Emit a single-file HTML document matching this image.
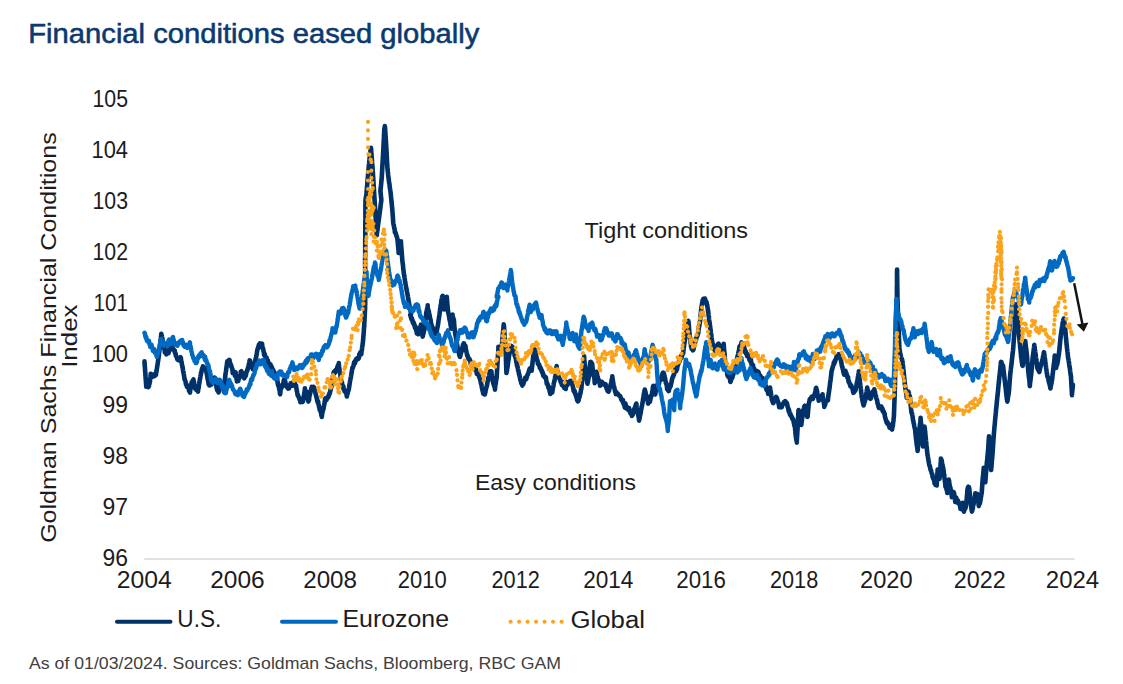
<!DOCTYPE html>
<html><head><meta charset="utf-8">
<style>
html,body{margin:0;padding:0;background:#fff;}
body{width:1123px;height:684px;overflow:hidden;font-family:"Liberation Sans",sans-serif;}
svg{display:block;}
text{font-family:"Liberation Sans",sans-serif;}
.ax{font-size:24.5px;fill:#1c1c1c;}
.lg{font-size:23.5px;fill:#1c1c1c;}
</style></head><body>
<svg width="1123" height="684" viewBox="0 0 1123 684">
<rect width="1123" height="684" fill="#fff"/>
<text x="28.3" y="42.5" font-size="27.2" fill="#0b3a70" stroke="#0b3a70" stroke-width="0.55" textLength="451" lengthAdjust="spacingAndGlyphs">Financial conditions eased globally</text>
<!-- y labels -->
<g class="ax" text-anchor="end">
<text x="128" y="107.0" textLength="35.5" lengthAdjust="spacingAndGlyphs">105</text>
<text x="128" y="158.0" textLength="36.5" lengthAdjust="spacingAndGlyphs">104</text>
<text x="128" y="209.0" textLength="35.5" lengthAdjust="spacingAndGlyphs">103</text>
<text x="128" y="260.0" textLength="35.5" lengthAdjust="spacingAndGlyphs">102</text>
<text x="128" y="311.0" textLength="34.5" lengthAdjust="spacingAndGlyphs">101</text>
<text x="128" y="362.0" textLength="36.5" lengthAdjust="spacingAndGlyphs">100</text>
<text x="128" y="413.0" textLength="25.5" lengthAdjust="spacingAndGlyphs">99</text>
<text x="128" y="464.0" textLength="25.5" lengthAdjust="spacingAndGlyphs">98</text>
<text x="128" y="515.0" textLength="25.5" lengthAdjust="spacingAndGlyphs">97</text>
<text x="128" y="566.0" textLength="25.5" lengthAdjust="spacingAndGlyphs">96</text>
</g>
<line x1="144.3" y1="559" x2="1074.8" y2="559" stroke="#c4c4c4" stroke-width="1.2"/>
<g class="ax" text-anchor="middle">
<text x="144.2" y="588" textLength="55.0" lengthAdjust="spacingAndGlyphs">2004</text>
<text x="237.5" y="588" textLength="54.5" lengthAdjust="spacingAndGlyphs">2006</text>
<text x="330.1" y="588" textLength="53.8" lengthAdjust="spacingAndGlyphs">2008</text>
<text x="422.3" y="588" textLength="48.9" lengthAdjust="spacingAndGlyphs">2010</text>
<text x="515.7" y="588" textLength="48.3" lengthAdjust="spacingAndGlyphs">2012</text>
<text x="608.3" y="588" textLength="50.3" lengthAdjust="spacingAndGlyphs">2014</text>
<text x="701.1" y="588" textLength="49.6" lengthAdjust="spacingAndGlyphs">2016</text>
<text x="794.1" y="588" textLength="48.3" lengthAdjust="spacingAndGlyphs">2018</text>
<text x="886.3" y="588" textLength="52.6" lengthAdjust="spacingAndGlyphs">2020</text>
<text x="979.7" y="588" textLength="51.9" lengthAdjust="spacingAndGlyphs">2022</text>
<text x="1072.5" y="588" textLength="53.4" lengthAdjust="spacingAndGlyphs">2024</text>
</g>
<!-- y axis title -->
<g class="ax" text-anchor="middle">
<text transform="translate(55.5,337.6) rotate(-90)" font-size="22" textLength="410.5" lengthAdjust="spacingAndGlyphs">Goldman Sachs Financial Conditions</text>
<text transform="translate(76.5,336.2) rotate(-90)" font-size="22" textLength="63.3" lengthAdjust="spacingAndGlyphs">Index</text>
</g>
<!-- annotations -->
<text class="ax" style="font-size:22px" x="584.5" y="238" textLength="163.5" lengthAdjust="spacingAndGlyphs">Tight conditions</text>
<text class="ax" style="font-size:22px" x="475" y="490" textLength="161" lengthAdjust="spacingAndGlyphs">Easy conditions</text>
<!-- series -->
<g fill="none" stroke-linejoin="round" stroke-linecap="round">
<path id="us" d="M144.5,361.4 144.5,362.0 144.5,362.5 144.6,363.1 144.6,363.8 144.7,364.7 144.7,365.2 144.8,365.5 144.8,366.1 144.8,366.7 144.9,367.0 144.9,367.8 145.0,368.1 145.0,368.9 145.1,369.5 145.1,370.3 145.1,370.9 145.2,371.5 145.2,372.1 145.3,372.5 145.3,373.2 145.3,373.4 145.4,374.0 145.4,374.8 145.5,375.5 145.5,376.0 145.6,376.8 145.6,377.1 145.6,377.9 145.7,378.5 145.7,379.3 145.8,379.7 145.8,380.2 145.9,380.8 145.9,381.3 145.9,382.1 146.0,382.7 146.0,383.5 146.1,384.0 146.1,384.4 146.2,384.9 146.2,385.4 146.2,386.7 146.9,384.5 147.6,385.8 148.2,387.2 148.9,386.3 149.0,384.9 149.2,383.7 149.3,384.5 149.4,384.0 149.5,383.4 149.6,382.9 149.7,382.1 149.9,382.4 150.0,380.9 150.1,380.0 150.2,379.3 150.3,378.7 150.5,378.5 150.6,376.1 150.7,373.7 151.2,374.4 151.8,375.3 152.3,376.9 152.8,376.1 153.4,374.6 153.9,376.4 154.4,375.4 155.0,375.7 155.5,373.6 156.0,374.8 156.1,372.8 156.2,371.6 156.3,372.1 156.4,371.9 156.5,370.7 156.6,370.6 156.7,370.3 156.8,369.2 156.9,368.7 157.0,367.7 157.1,367.5 157.2,366.5 157.3,365.7 157.4,365.6 157.5,364.8 157.6,364.0 157.7,363.4 157.8,362.7 157.9,362.2 158.0,361.8 158.0,361.2 158.1,360.7 158.2,360.4 158.3,359.9 158.3,359.2 158.4,358.5 158.5,358.1 158.6,357.3 158.6,356.7 158.7,356.3 158.8,355.9 158.9,355.1 158.9,354.3 159.0,353.7 159.1,353.1 159.2,352.1 159.2,351.9 159.3,351.5 159.4,350.6 159.5,350.5 159.5,349.8 159.6,349.3 159.7,348.8 159.8,347.9 159.8,347.0 159.9,346.4 160.0,345.9 160.0,345.4 160.1,344.5 160.2,343.8 160.2,343.3 160.3,342.5 160.4,341.6 160.5,341.3 160.5,340.8 160.6,340.2 160.7,339.3 160.7,339.4 160.8,338.9 160.9,338.1 161.0,336.8 161.0,336.7 161.1,335.9 161.2,335.5 161.2,334.8 161.3,333.8 161.4,334.2 161.5,335.1 161.6,335.2 161.7,335.5 161.8,335.9 161.9,336.3 162.0,337.1 162.1,337.6 162.2,338.3 162.3,337.8 162.4,339.0 162.5,340.1 162.6,340.2 162.8,340.9 162.9,341.4 163.0,342.7 163.1,342.7 163.2,343.2 163.3,343.7 163.4,344.5 163.6,345.7 163.7,346.4 163.8,346.8 163.9,346.8 164.1,347.0 164.2,347.5 164.3,348.2 164.4,349.5 164.6,349.1 164.7,349.7 164.8,352.4 165.0,350.7 165.4,351.4 165.8,352.6 166.3,354.3 166.7,353.6 167.2,350.6 167.6,353.2 168.1,353.0 168.5,353.2 169.0,350.8 169.4,349.4 169.9,348.8 170.5,348.0 171.0,349.4 171.6,346.9 172.1,348.3 172.5,348.5 173.0,349.4 173.4,348.8 173.9,349.8 174.3,351.1 174.8,350.7 174.9,352.5 175.1,353.1 175.2,353.3 175.4,353.6 175.6,353.5 175.7,354.4 175.9,355.9 176.1,356.3 176.2,356.3 176.4,356.7 176.5,356.8 176.9,357.5 177.3,359.4 177.6,359.7 178.0,360.0 178.3,359.4 178.9,360.3 179.4,359.6 179.9,358.9 180.5,357.1 181.0,358.4 181.1,360.7 181.2,360.7 181.4,361.7 181.5,361.9 181.6,362.1 181.7,362.8 181.8,363.2 181.9,364.5 182.1,365.0 182.2,365.9 182.3,365.9 182.4,366.6 182.5,367.8 182.7,367.4 182.8,368.6 182.9,369.3 183.0,370.3 183.1,370.7 183.2,371.7 183.3,372.1 183.4,372.3 183.5,372.0 183.6,372.8 183.7,373.8 183.8,374.6 183.9,374.7 184.0,375.5 184.1,376.3 184.2,377.0 184.3,377.7 184.4,377.9 184.5,378.9 184.6,379.6 184.8,379.3 184.9,379.6 185.1,380.7 185.3,380.7 185.5,381.5 185.7,382.3 185.9,384.0 186.1,384.7 186.3,384.4 186.5,384.1 186.7,385.3 186.9,386.5 187.0,386.9 187.2,387.1 187.5,386.4 187.8,387.2 188.1,387.4 188.4,387.3 188.7,387.5 189.0,390.9 189.3,391.4 189.6,391.4 189.9,391.7 190.0,392.6 190.1,390.5 190.3,389.9 190.4,389.8 190.5,388.8 190.6,388.0 190.7,388.1 190.9,387.2 191.0,386.4 191.1,385.1 191.2,384.3 191.3,384.2 191.5,383.6 191.6,384.0 191.7,382.1 191.9,381.9 192.2,382.3 192.5,381.1 192.7,381.0 193.0,382.4 193.2,382.2 193.5,379.3 193.6,381.2 193.7,381.2 193.8,381.7 193.9,381.8 194.0,381.8 194.1,382.7 194.2,384.0 194.3,383.9 194.4,384.8 194.5,385.7 194.6,385.5 194.7,386.4 194.8,386.9 194.9,387.4 195.0,388.3 195.1,387.7 195.2,388.8 195.3,388.7 195.8,388.0 196.3,389.9 196.9,389.4 197.4,389.8 197.9,391.1 198.0,391.6 198.1,389.5 198.2,389.5 198.3,389.3 198.4,388.3 198.5,387.9 198.6,388.0 198.7,387.7 198.8,386.8 198.9,385.6 199.0,384.6 199.1,384.2 199.2,383.6 199.3,383.6 199.4,383.0 199.5,382.1 199.6,381.4 199.7,380.3 199.8,379.7 199.9,379.7 200.0,378.7 200.1,378.4 200.2,377.7 200.3,377.6 200.4,376.8 200.5,375.7 200.6,375.4 200.7,375.4 200.8,374.7 200.9,374.2 201.0,372.7 201.1,372.6 201.2,372.5 201.3,372.4 201.4,372.5 201.5,371.6 201.9,369.2 202.2,368.4 202.6,368.6 202.9,366.3 203.3,367.2 203.8,368.4 204.3,368.4 204.9,367.7 205.4,369.5 206.0,368.5 206.1,368.3 206.2,370.2 206.3,371.1 206.4,371.7 206.5,372.3 206.6,373.3 206.7,373.0 206.8,374.0 206.9,374.5 207.0,374.8 207.1,375.4 207.2,375.9 207.3,376.3 207.4,377.2 207.5,377.7 207.6,378.7 207.7,379.1 207.9,379.2 208.0,379.7 208.1,380.6 208.2,381.9 208.4,382.2 208.5,382.9 208.6,384.2 208.8,383.7 208.9,383.6 209.0,384.2 209.1,384.4 209.3,384.4 209.4,385.5 209.5,384.9 209.9,385.3 210.2,383.3 210.6,384.7 210.9,384.5 211.3,383.3 211.5,384.4 211.7,383.5 211.9,382.5 212.1,382.5 212.3,381.9 212.5,381.0 212.7,381.9 212.9,380.2 213.1,381.0 213.7,379.2 214.3,377.5 214.9,377.8 215.0,378.4 215.1,378.4 215.2,379.6 215.3,380.4 215.5,380.8 215.6,381.9 215.7,382.1 215.8,382.9 215.9,383.0 216.1,384.0 216.2,384.9 216.3,385.3 216.4,385.9 216.5,387.4 216.6,387.7 217.0,389.3 217.4,390.6 217.7,390.4 218.1,390.2 218.4,391.9 218.6,392.4 218.8,388.3 219.0,387.6 219.2,386.8 219.4,386.5 219.6,385.0 219.8,386.5 220.0,385.1 220.2,384.7 220.7,386.6 221.1,384.6 221.6,386.4 222.0,386.7 222.4,386.9 222.7,388.1 223.1,388.8 223.4,389.4 223.8,391.5 223.9,390.2 223.9,388.0 224.0,387.5 224.1,386.8 224.1,385.7 224.2,385.2 224.3,384.6 224.3,384.1 224.4,383.5 224.5,382.7 224.6,382.1 224.6,381.6 224.7,380.8 224.8,380.3 224.8,379.5 224.9,379.3 225.0,378.8 225.1,378.2 225.1,377.8 225.2,376.5 225.3,376.0 225.3,375.2 225.4,374.9 225.5,374.3 225.6,374.0 225.6,373.3 225.7,372.6 225.8,372.2 225.9,371.5 226.0,371.1 226.1,370.4 226.2,369.8 226.2,369.0 226.3,368.3 226.4,367.9 226.5,367.2 226.6,366.7 226.7,365.9 226.7,365.3 226.8,365.2 226.9,364.4 227.0,363.7 227.1,362.9 227.2,361.9 227.3,361.7 227.3,361.2 227.9,361.7 228.5,361.4 229.1,359.8 229.3,360.1 229.6,360.1 229.8,362.5 230.0,363.4 230.2,363.1 230.5,363.9 230.7,365.7 230.9,365.0 231.1,365.1 231.2,366.7 231.4,366.4 231.6,366.4 231.7,367.3 231.9,368.1 232.0,368.2 232.2,369.2 232.4,369.6 232.5,369.4 232.7,373.0 233.2,371.5 233.8,373.5 234.3,371.8 234.8,375.7 235.4,373.4 235.5,373.1 235.6,372.4 235.7,374.4 235.9,374.7 236.0,375.5 236.1,376.8 236.3,377.7 236.4,377.4 236.5,378.8 236.6,379.0 236.8,379.0 236.9,381.4 237.0,379.7 237.1,379.9 237.7,379.2 238.3,381.0 238.9,376.7 239.1,378.6 239.2,377.9 239.4,377.8 239.5,377.3 239.7,376.8 239.8,376.1 240.0,375.4 240.1,375.2 240.3,375.5 240.4,375.5 240.6,375.1 240.7,371.7 241.3,371.2 241.9,372.6 242.5,373.1 242.8,376.6 243.0,376.1 243.3,375.7 243.5,376.0 243.8,377.0 244.0,377.3 244.3,378.3 244.5,376.1 244.8,376.8 245.0,375.5 245.3,376.5 245.6,376.2 245.8,374.9 246.1,374.6 246.3,372.2 246.5,372.2 246.7,371.8 246.9,371.4 247.1,370.1 247.2,371.1 247.4,369.9 247.6,369.5 247.8,368.3 248.0,368.0 248.2,367.0 248.3,366.9 248.5,366.2 248.7,365.7 248.8,364.4 249.0,363.9 249.1,363.5 249.3,363.6 249.5,361.0 249.6,360.4 250.0,360.6 250.3,364.2 250.7,364.0 251.1,366.9 251.4,365.7 251.7,367.5 251.9,367.0 252.2,367.2 252.4,365.9 252.7,366.3 252.9,369.4 253.2,368.7 253.3,366.5 253.5,365.1 253.7,365.0 253.8,366.1 254.0,366.2 254.1,364.7 254.3,364.3 254.4,363.5 254.6,363.0 254.8,361.9 254.9,362.2 255.1,360.9 255.2,361.5 255.4,360.4 255.5,359.1 255.7,359.0 255.9,358.1 256.0,357.6 256.1,357.2 256.2,357.0 256.3,355.9 256.4,355.7 256.5,355.2 256.6,354.8 256.7,354.0 256.8,353.7 256.9,352.8 257.0,352.2 257.1,351.4 257.2,351.4 257.3,350.2 257.4,349.8 257.5,348.9 257.6,349.1 257.9,348.5 258.1,348.2 258.3,346.8 258.5,348.0 258.8,344.9 259.0,345.4 259.2,344.6 259.4,344.5 260.0,343.4 260.5,344.9 261.0,343.9 261.6,344.4 262.1,343.8 262.3,346.2 262.4,347.2 262.5,347.4 262.7,348.2 262.8,348.3 263.0,348.1 263.1,348.6 263.3,349.5 263.4,350.8 263.6,351.3 263.7,351.7 263.9,352.3 264.1,355.0 264.3,353.8 264.6,353.7 264.8,354.9 265.0,355.2 265.2,356.4 265.4,356.7 265.7,357.6 265.9,357.1 266.1,357.4 266.3,358.6 266.6,357.6 266.8,359.3 267.0,360.6 267.2,361.0 267.5,360.8 267.8,360.5 268.2,363.6 268.6,362.7 269.0,363.6 269.4,366.5 269.7,365.2 270.1,366.0 270.4,364.3 270.7,365.1 271.0,366.0 271.3,366.6 271.6,367.3 271.9,367.2 272.2,368.7 272.5,369.8 272.8,369.8 273.0,371.6 273.2,369.9 273.5,370.6 273.7,371.7 273.9,372.4 274.1,372.7 274.4,373.6 274.6,372.5 274.8,375.0 275.0,374.4 275.2,375.1 275.4,376.3 275.6,376.7 275.8,376.2 276.0,376.3 276.2,377.3 276.4,378.4 276.6,379.8 276.8,379.6 277.0,379.8 277.3,379.7 277.4,381.3 277.5,382.4 277.7,382.5 277.8,384.1 277.9,384.3 278.1,384.2 278.2,384.7 278.3,385.8 278.5,386.1 278.6,386.0 278.7,386.5 278.9,386.5 279.0,387.3 279.1,388.6 279.3,389.6 279.4,389.6 279.5,390.4 279.7,389.9 279.8,391.0 279.9,393.5 280.1,394.3 280.3,393.0 280.4,391.4 280.6,389.8 280.7,389.2 280.9,388.9 281.1,388.8 281.2,388.4 281.4,388.1 281.5,385.8 281.7,385.3 282.0,385.3 282.2,386.6 282.5,385.9 282.8,384.8 283.0,384.0 283.3,384.2 283.6,381.6 283.9,379.8 284.1,381.1 284.4,379.6 284.6,380.0 284.9,380.6 285.1,380.9 285.4,382.2 285.7,385.1 285.9,385.6 286.2,386.1 286.5,386.5 286.9,387.2 287.3,385.2 287.7,387.2 288.1,388.6 288.5,386.1 288.8,387.0 289.0,388.4 289.2,385.5 289.4,385.4 289.6,385.1 289.8,385.7 290.0,384.8 290.2,385.4 290.4,386.0 290.6,383.3 291.2,384.2 291.7,385.9 292.2,385.5 292.8,383.5 293.3,382.1 293.6,382.0 293.9,380.9 294.2,382.3 294.5,383.8 294.8,383.3 295.1,385.9 295.4,384.5 295.7,385.1 296.0,385.4 296.1,385.6 296.2,386.5 296.3,388.0 296.4,388.6 296.6,389.5 296.7,390.2 296.8,390.9 296.9,391.0 297.0,391.3 297.2,392.6 297.3,393.2 297.4,393.7 297.5,394.5 297.6,395.3 297.8,394.8 298.0,394.9 298.2,395.7 298.5,396.9 298.7,397.3 299.0,397.5 299.2,398.3 299.5,399.6 299.7,398.9 299.9,398.5 300.2,399.7 300.4,402.3 301.0,401.2 301.5,401.8 302.0,400.7 302.6,401.9 303.1,400.9 303.2,399.4 303.3,399.7 303.4,398.7 303.5,398.0 303.6,397.0 303.7,397.0 303.8,396.6 303.9,395.9 304.0,394.6 304.1,394.7 304.2,394.1 304.3,393.8 304.4,392.5 304.5,392.2 304.6,391.7 304.7,390.5 304.8,390.1 304.9,388.2 305.1,390.1 305.4,392.2 305.6,392.8 305.9,392.6 306.2,392.0 306.4,391.7 306.7,391.8 306.8,392.3 306.9,393.9 307.0,395.2 307.2,395.7 307.3,396.5 307.4,396.8 307.6,396.9 307.7,398.2 307.8,398.2 307.9,399.6 308.1,399.6 308.2,400.3 308.3,401.3 308.4,401.5 308.6,401.0 308.7,400.0 308.8,399.9 309.0,399.8 309.1,399.9 309.2,397.8 309.3,396.7 309.5,395.6 309.6,395.8 309.7,395.2 309.8,395.1 310.0,394.4 310.1,393.8 310.2,393.4 310.4,392.2 310.5,391.3 310.7,390.7 310.8,391.0 311.0,390.4 311.1,389.7 311.3,388.9 311.4,388.0 311.6,388.2 311.7,386.9 311.9,387.8 312.0,389.7 312.6,388.6 313.2,386.8 313.8,389.0 314.0,389.4 314.1,387.4 314.3,388.2 314.4,389.2 314.6,390.2 314.8,390.3 314.9,391.2 315.1,391.8 315.3,392.4 315.4,392.4 315.6,393.4 315.7,394.3 315.9,394.8 316.0,395.6 316.2,395.5 316.3,396.9 316.5,397.0 316.6,397.7 316.8,398.9 316.9,398.0 317.1,399.9 317.2,400.7 317.4,401.4 317.5,400.9 317.7,402.6 317.8,401.4 318.0,401.1 318.1,401.5 318.3,403.2 318.4,403.7 318.6,404.5 318.8,405.7 319.0,406.1 319.1,407.2 319.3,407.3 319.5,408.4 319.7,409.9 319.9,410.3 320.0,410.4 320.2,410.8 320.4,411.2 320.6,411.7 320.9,412.4 321.1,413.0 321.3,415.1 321.6,415.8 321.8,416.9 322.0,415.1 322.1,413.8 322.3,413.0 322.4,411.7 322.6,412.2 322.7,410.7 322.9,411.1 323.0,410.2 323.2,409.6 323.3,408.9 323.5,408.4 323.6,408.5 323.7,408.1 323.8,406.3 324.0,405.6 324.1,405.5 324.2,405.0 324.3,404.1 324.4,404.0 324.6,403.2 324.7,402.1 324.8,401.4 324.9,400.5 325.0,400.0 325.1,398.9 325.3,398.6 325.4,399.3 325.9,398.2 326.5,400.0 327.0,397.5 327.5,398.0 328.1,397.5 328.3,396.1 328.6,396.4 328.8,395.0 329.1,394.2 329.3,393.6 329.6,392.9 329.8,393.7 330.0,392.3 330.1,391.8 330.3,391.2 330.4,390.7 330.6,389.9 330.7,389.4 330.9,388.7 331.0,387.1 331.2,387.1 331.3,387.5 331.5,386.5 331.6,385.8 331.7,384.4 331.8,384.5 331.9,383.8 332.0,383.4 332.0,383.0 332.1,382.7 332.2,382.2 332.3,381.7 332.4,381.1 332.5,380.4 332.6,379.6 332.6,379.4 332.7,378.4 332.8,377.8 332.9,377.2 333.0,376.5 333.1,376.0 333.1,375.5 333.2,374.7 333.3,374.9 333.4,373.7 333.9,371.8 334.3,373.2 334.7,371.1 335.2,372.5 335.4,370.8 335.7,370.1 336.0,371.4 336.2,371.0 336.5,370.0 336.7,370.2 337.0,369.0 337.2,367.6 337.5,366.8 337.7,365.9 338.0,366.8 338.2,365.9 338.5,365.2 338.8,363.1 338.8,363.6 338.9,365.6 339.0,366.6 339.1,366.8 339.2,367.6 339.3,368.7 339.4,369.2 339.5,369.4 339.6,369.7 339.7,370.6 339.8,371.2 339.9,372.2 340.0,372.9 340.1,373.3 340.2,373.3 340.3,374.2 340.4,374.4 340.5,375.5 340.5,376.4 340.6,377.4 340.7,376.9 340.8,378.2 340.9,378.4 341.0,379.3 341.1,379.7 341.2,380.5 341.3,381.6 341.4,381.4 341.5,382.1 341.6,382.5 341.8,382.6 342.0,382.5 342.2,385.2 342.4,384.8 342.6,385.2 342.8,387.4 343.0,386.7 343.2,387.3 343.4,386.3 343.6,388.9 343.8,389.5 344.1,390.0 344.3,389.9 344.5,390.4 344.8,391.7 345.1,391.1 345.3,391.6 345.6,392.2 345.9,392.3 346.1,393.2 346.4,392.9 346.7,395.8 346.9,396.5 347.1,393.8 347.3,394.1 347.5,393.8 347.7,393.2 347.9,391.1 348.1,391.5 348.3,390.9 348.5,390.3 348.7,389.7 348.8,388.9 348.9,389.2 349.0,388.0 349.1,387.2 349.2,386.6 349.3,386.4 349.4,385.2 349.5,384.1 349.6,384.5 349.7,383.1 349.8,383.0 349.9,382.3 350.0,381.2 350.1,380.8 350.2,380.3 350.3,379.9 350.4,379.5 350.5,378.9 350.6,378.3 350.7,378.0 350.8,377.7 350.9,377.1 351.0,376.3 351.1,375.7 351.2,375.0 351.3,374.5 351.4,373.7 351.5,373.0 351.6,372.9 351.7,371.9 351.8,371.6 351.9,371.0 352.0,369.8 352.1,369.7 352.2,369.3 352.3,368.1 352.5,367.5 352.7,367.2 353.0,367.4 353.2,366.2 353.4,366.1 353.6,365.8 353.8,363.7 354.1,362.4 354.3,362.1 354.5,363.1 354.7,362.6 355.0,363.4 355.2,362.1 355.4,360.6 355.6,361.0 355.8,359.9 356.3,358.9 356.7,359.8 357.2,359.3 357.6,359.1 358.1,357.7 358.5,358.8 359.0,357.4 359.4,354.0 359.9,353.7 360.3,352.3 360.7,353.9 361.2,353.9 361.3,354.3 361.4,353.2 361.4,352.7 361.5,351.6 361.6,351.1 361.7,350.6 361.8,350.6 361.9,349.9 362.0,349.3 362.0,348.2 362.1,347.8 362.2,346.8 362.3,346.8 362.4,345.7 362.5,345.5 362.6,344.5 362.6,344.0 362.7,343.9 362.8,343.0 362.9,342.1 363.0,341.5 363.0,341.0 363.1,340.1 363.1,339.8 363.2,339.2 363.2,338.7 363.3,338.3 363.3,337.5 363.3,336.7 363.4,336.2 363.4,336.0 363.5,335.4 363.5,334.6 363.6,334.0 363.6,333.6 363.7,333.1 363.7,332.2 363.8,331.4 363.8,331.0 363.9,330.4 363.9,329.8 363.9,329.2 364.0,328.5 364.0,328.0 364.1,327.3 364.1,326.8 364.2,326.5 364.2,325.7 364.3,325.0 364.3,324.3 364.3,323.7 364.3,323.1 364.4,322.6 364.4,322.1 364.4,321.4 364.5,320.9 364.5,320.4 364.5,319.8 364.6,319.2 364.6,318.7 364.6,318.2 364.6,317.5 364.7,317.0 364.7,316.2 364.7,315.6 364.8,315.0 364.8,314.5 364.8,313.9 364.8,313.1 364.9,312.6 364.9,311.9 364.9,311.4 365.0,310.8 365.0,310.2 365.0,309.6 365.1,308.9 365.1,308.3 365.1,307.8 365.1,307.2 365.1,306.6 365.1,306.0 365.1,305.4 365.1,304.9 365.2,304.3 365.2,303.7 365.2,303.1 365.2,302.5 365.2,301.9 365.2,301.3 365.2,300.7 365.2,300.1 365.2,299.5 365.2,298.9 365.2,298.3 365.2,297.7 365.2,297.1 365.2,296.5 365.2,295.9 365.2,295.4 365.2,294.7 365.3,294.1 365.3,293.6 365.3,293.0 365.3,292.4 365.3,291.8 365.3,291.2 365.3,290.6 365.3,290.0 365.3,289.4 365.3,288.8 365.3,288.2 365.3,287.6 365.3,287.0 365.3,286.4 365.3,285.8 365.3,285.2 365.3,284.6 365.3,284.0 365.3,283.4 365.2,282.8 365.2,282.2 365.2,281.6 365.2,281.0 365.2,280.4 365.2,279.8 365.2,279.2 365.2,278.6 365.2,278.0 365.2,277.4 365.2,276.8 365.2,276.2 365.2,275.6 365.2,275.0 365.2,274.4 365.2,273.8 365.2,273.2 365.2,272.6 365.2,272.0 365.2,271.4 365.2,270.8 365.2,270.2 365.2,269.6 365.2,269.0 365.2,268.4 365.2,267.8 365.1,267.2 365.1,266.6 365.1,266.0 365.1,265.4 365.1,264.8 365.1,264.2 365.1,263.6 365.1,263.0 365.1,262.4 365.1,261.8 365.1,261.2 365.1,260.6 365.1,260.0 365.1,259.4 365.1,258.8 365.1,258.2 365.1,257.6 365.1,257.0 365.2,256.4 365.2,255.8 365.2,255.2 365.2,254.6 365.2,254.0 365.2,253.4 365.2,252.8 365.2,252.2 365.2,251.6 365.2,251.0 365.2,250.4 365.2,249.8 365.2,249.2 365.2,248.6 365.2,248.0 365.2,247.4 365.2,246.8 365.2,246.2 365.2,245.6 365.2,245.0 365.2,244.4 365.2,243.8 365.2,243.2 365.2,242.6 365.2,242.0 365.2,241.4 365.2,240.8 365.2,240.2 365.2,239.6 365.2,239.0 365.3,238.4 365.3,237.8 365.3,237.2 365.3,236.6 365.3,236.0 365.3,235.4 365.3,234.8 365.3,234.2 365.3,233.6 365.3,233.0 365.3,232.4 365.3,231.8 365.3,231.2 365.3,230.6 365.3,230.0 365.3,229.4 365.3,228.8 365.3,228.2 365.3,227.6 365.3,227.0 365.3,226.4 365.3,225.8 365.3,225.2 365.3,224.6 365.3,224.0 365.3,223.4 365.3,222.8 365.3,222.2 365.3,221.6 365.4,221.0 365.4,220.4 365.4,219.8 365.4,219.2 365.4,218.6 365.4,218.0 365.4,217.4 365.4,216.8 365.4,216.2 365.4,215.6 365.4,215.0 365.4,214.4 365.4,213.8 365.4,213.2 365.4,212.6 365.4,212.0 365.4,211.4 365.4,210.8 365.4,210.2 365.4,209.6 365.4,209.0 365.4,208.4 365.4,207.8 365.4,207.2 365.4,206.6 365.4,206.0 365.4,205.4 365.4,204.8 365.4,204.2 365.5,203.6 365.5,203.0 365.5,202.4 365.5,201.8 365.5,201.2 365.5,200.6 365.5,200.1 365.6,199.4 365.7,198.6 365.7,198.0 365.8,198.1 365.9,197.0 366.0,196.5 366.1,196.3 366.2,196.1 366.3,195.1 366.4,194.3 366.5,193.7 366.5,192.6 366.6,192.1 366.6,191.4 366.7,190.7 366.7,190.2 366.8,190.0 366.8,189.5 366.9,188.7 366.9,187.9 367.0,187.2 367.0,186.6 367.1,186.2 367.1,185.8 367.2,185.1 367.2,184.8 367.3,183.8 367.3,183.3 367.4,182.6 367.4,182.0 367.5,181.3 367.5,180.5 367.6,180.0 367.6,179.3 367.7,179.2 367.7,178.8 367.8,178.2 367.8,177.5 367.9,176.6 367.9,176.2 368.0,175.8 368.0,175.1 368.1,174.3 368.1,173.4 368.2,173.1 368.2,172.9 368.3,172.1 368.3,171.4 368.4,170.5 368.4,170.3 368.5,169.6 368.6,169.0 368.6,168.3 368.7,167.8 368.7,167.1 368.8,166.7 368.9,165.6 368.9,165.4 369.0,164.6 369.0,163.9 369.1,163.3 369.2,162.6 369.2,162.1 369.3,161.9 369.3,161.4 369.4,160.7 369.5,160.0 369.5,159.4 369.6,158.7 369.6,158.3 369.7,157.5 369.8,157.2 369.8,156.4 369.9,155.5 369.9,155.7 370.0,155.0 370.0,154.3 370.1,153.6 370.2,153.2 370.3,152.5 370.4,151.8 370.5,151.3 370.6,150.7 370.7,150.5 370.8,149.4 370.9,148.9 371.0,150.4 371.0,147.9 371.1,148.9 371.1,149.8 371.2,150.3 371.2,151.1 371.3,152.0 371.3,152.5 371.4,152.6 371.4,153.4 371.5,153.9 371.5,154.3 371.5,155.3 371.6,155.9 371.6,156.6 371.7,157.4 371.7,157.7 371.8,158.2 371.8,158.9 371.9,159.6 371.9,160.0 372.0,160.4 372.0,160.9 372.0,162.0 372.1,162.4 372.1,163.1 372.2,163.3 372.2,164.1 372.3,164.8 372.3,165.5 372.4,165.9 372.4,166.5 372.5,167.0 372.5,167.5 372.6,168.2 372.6,168.9 372.6,169.5 372.7,170.3 372.7,170.7 372.8,171.5 372.8,171.9 372.9,172.2 372.9,173.1 372.9,173.7 373.0,174.4 373.0,175.0 373.0,175.4 373.1,176.2 373.1,176.7 373.2,177.1 373.2,177.9 373.2,178.5 373.3,179.0 373.3,179.6 373.3,180.2 373.4,180.6 373.4,181.4 373.4,182.1 373.5,182.4 373.5,183.0 373.6,183.8 373.6,184.5 373.6,185.1 373.7,185.3 373.7,185.9 373.7,186.6 373.8,187.3 373.8,188.0 373.9,188.6 373.9,188.9 373.9,189.5 374.0,190.2 374.0,190.7 374.0,191.2 374.1,191.8 374.1,192.5 374.2,193.4 374.2,194.0 374.2,194.6 374.3,195.1 374.3,195.7 374.3,196.6 374.4,197.1 374.4,197.6 374.5,198.1 374.5,198.8 374.5,199.3 374.6,199.8 374.6,200.2 374.6,200.9 374.7,201.5 374.7,202.2 374.7,202.7 374.8,203.3 374.8,204.2 374.8,204.6 374.9,205.1 374.9,205.7 375.0,206.3 375.0,206.9 375.0,207.6 375.1,208.1 375.1,208.9 375.1,209.3 375.2,209.8 375.2,210.3 375.2,211.0 375.3,211.6 375.3,212.2 375.3,212.9 375.4,213.6 375.4,213.9 375.5,214.7 375.5,215.5 375.5,215.8 375.6,216.4 375.6,217.0 375.6,217.9 375.7,218.4 375.7,219.1 375.7,219.5 375.8,220.1 375.8,220.6 375.8,221.0 375.9,221.7 375.9,222.3 376.0,222.9 376.0,223.5 376.0,223.9 376.1,224.7 376.1,225.6 376.1,226.2 376.2,226.7 376.2,227.2 376.2,227.9 376.3,228.3 376.3,229.1 376.3,229.9 376.4,230.3 376.4,230.8 376.5,231.5 376.5,232.0 376.5,232.6 376.6,233.1 376.6,233.8 376.6,234.1 376.7,234.4 376.7,233.4 376.8,235.2 376.9,234.1 376.9,233.9 377.0,232.9 377.1,232.4 377.2,231.8 377.2,231.3 377.3,230.8 377.4,230.4 377.5,229.7 377.6,229.1 377.6,228.9 377.7,228.0 377.8,226.7 377.9,226.7 377.9,225.9 378.0,225.3 378.1,224.7 378.2,223.9 378.2,223.9 378.3,223.3 378.4,222.1 378.5,221.8 378.6,221.2 378.6,221.0 378.7,220.4 378.8,220.3 378.9,219.2 378.9,218.6 379.0,218.1 379.1,217.4 379.2,216.9 379.3,216.2 379.3,215.7 379.4,214.8 379.5,214.2 379.6,213.9 379.6,213.1 379.7,212.7 379.8,212.2 379.9,211.3 379.9,210.8 380.0,210.1 380.1,209.4 380.2,209.4 380.3,208.4 380.3,208.1 380.4,207.5 380.5,206.5 380.6,206.1 380.6,205.3 380.7,204.4 380.8,204.0 380.9,203.7 381.0,203.1 381.0,202.3 381.1,201.9 381.2,201.3 381.3,200.7 381.3,200.0 381.3,199.3 381.2,198.7 381.2,198.2 381.1,197.6 381.0,197.2 381.0,196.4 380.9,195.5 380.9,195.1 380.8,194.5 380.7,193.9 380.7,193.4 380.6,193.1 380.6,192.1 380.5,191.5 380.4,190.9 380.5,190.2 380.6,189.5 380.6,188.6 380.7,188.4 380.7,187.5 380.8,187.2 380.9,186.9 380.9,186.7 381.0,185.8 381.0,184.9 381.1,184.5 381.2,183.9 381.2,183.2 381.3,182.4 381.3,181.5 381.4,180.8 381.5,180.6 381.5,180.0 381.6,179.7 381.6,179.0 381.7,178.4 381.7,177.7 381.8,177.2 381.8,176.7 381.8,176.2 381.9,175.4 381.9,174.8 381.9,174.0 382.0,173.4 382.0,172.9 382.0,172.4 382.1,171.8 382.1,171.3 382.1,170.8 382.2,170.2 382.2,169.6 382.2,169.1 382.3,168.3 382.3,167.8 382.3,167.0 382.4,166.4 382.4,166.1 382.4,165.4 382.5,164.7 382.5,164.4 382.5,163.7 382.6,163.1 382.6,162.4 382.6,161.7 382.7,161.1 382.7,160.7 382.7,160.2 382.8,159.5 382.8,159.0 382.8,158.2 382.9,157.7 382.9,156.9 382.9,156.5 383.0,155.6 383.0,155.3 383.1,154.5 383.1,154.0 383.1,153.3 383.1,152.7 383.2,152.1 383.2,151.6 383.2,151.1 383.3,150.6 383.3,150.0 383.3,149.3 383.4,148.7 383.4,147.8 383.4,147.3 383.4,146.8 383.5,146.3 383.5,145.5 383.5,145.1 383.6,144.6 383.6,143.9 383.6,143.1 383.7,142.9 383.7,142.2 383.7,141.6 383.7,140.9 383.8,140.4 383.8,139.8 383.8,139.1 383.9,138.6 383.9,138.0 383.9,137.3 384.0,136.7 384.0,136.1 384.0,135.7 384.0,134.9 384.1,134.4 384.1,133.6 384.1,133.0 384.2,132.7 384.2,132.1 384.2,131.6 384.2,131.0 384.3,130.3 384.3,129.6 384.3,129.0 384.4,129.1 384.5,128.3 384.6,127.9 384.7,127.7 384.8,126.1 384.9,126.8 384.9,126.6 385.0,127.2 385.0,127.7 385.1,128.0 385.1,128.7 385.1,129.3 385.2,130.0 385.2,130.6 385.3,131.3 385.3,131.8 385.3,132.4 385.4,132.8 385.4,133.6 385.5,134.4 385.5,134.9 385.5,135.3 385.6,136.1 385.6,136.6 385.7,137.2 385.7,137.8 385.7,138.5 385.8,139.1 385.8,139.9 385.9,140.2 385.9,140.9 385.9,141.4 386.0,142.1 386.0,142.8 386.1,143.4 386.1,144.0 386.1,144.7 386.2,145.2 386.2,145.8 386.2,146.2 386.3,147.0 386.3,147.6 386.3,148.0 386.4,148.5 386.4,149.3 386.4,149.9 386.5,150.6 386.5,151.1 386.5,151.6 386.6,152.2 386.6,152.8 386.6,153.3 386.7,154.1 386.7,154.7 386.7,155.3 386.8,155.9 386.8,156.7 386.8,157.2 386.9,157.6 386.9,158.3 386.9,159.0 386.9,159.5 387.0,160.0 387.0,160.6 387.0,161.2 387.1,161.9 387.1,162.3 387.1,163.0 387.2,163.5 387.2,164.3 387.2,164.7 387.3,165.3 387.3,165.8 387.3,166.7 387.4,167.2 387.4,167.7 387.5,168.2 387.5,169.2 387.6,169.8 387.7,170.3 387.7,170.8 387.8,171.5 387.9,171.9 387.9,172.8 388.0,173.2 388.1,173.6 388.1,174.7 388.2,175.2 388.3,175.6 388.3,176.2 388.4,176.8 388.5,177.6 388.6,177.9 388.6,178.5 388.7,179.1 388.8,179.4 388.8,180.0 388.9,180.9 389.0,181.7 389.1,182.5 389.2,182.6 389.2,183.1 389.3,183.2 389.4,184.0 389.5,184.3 389.6,185.9 389.7,186.3 389.8,186.9 389.8,187.6 389.9,187.9 390.0,188.5 390.1,189.2 390.2,189.9 390.3,190.4 390.4,191.2 390.4,191.2 390.5,191.9 390.6,192.8 390.7,193.0 390.7,193.8 390.8,194.1 390.8,194.6 390.9,195.4 391.0,196.0 391.0,196.7 391.1,197.5 391.1,198.3 391.2,198.7 391.3,199.3 391.3,199.8 391.4,200.4 391.4,200.9 391.5,201.7 391.6,202.2 391.6,202.7 391.7,203.4 391.7,203.8 391.8,204.4 391.9,205.0 391.9,205.9 392.0,206.2 392.0,206.8 392.1,207.3 392.2,208.1 392.2,209.1 392.3,209.5 392.3,210.0 392.4,210.6 392.4,211.3 392.5,211.9 392.5,212.1 392.6,212.5 392.6,213.4 392.6,214.0 392.7,214.5 392.7,215.5 392.8,216.0 392.8,216.5 392.9,217.0 392.9,217.5 392.9,218.2 393.0,218.8 393.0,219.6 393.1,220.3 393.1,220.7 393.2,221.5 393.2,222.1 393.2,222.5 393.3,223.0 393.4,223.8 393.5,224.4 393.6,225.0 393.8,224.8 393.9,226.2 394.0,226.7 394.1,227.6 394.2,228.2 394.3,228.1 394.5,228.4 394.6,229.9 394.7,230.3 394.8,231.3 394.9,232.6 395.1,232.7 395.3,232.0 395.5,232.5 395.7,233.3 395.9,233.6 396.1,235.0 396.3,235.4 396.5,235.5 396.7,236.7 397.0,237.4 397.2,238.0 397.4,239.1 397.4,238.8 397.5,239.4 397.5,240.3 397.6,240.8 397.7,241.2 397.7,241.8 397.8,242.8 397.8,243.3 397.9,243.9 397.9,244.5 398.0,245.3 398.1,245.8 398.1,246.6 398.2,247.1 398.2,247.4 398.3,247.8 398.3,248.9 398.4,249.4 398.5,249.7 398.5,250.0 398.6,251.2 398.6,253.0 398.8,252.4 398.9,251.0 399.1,251.0 399.2,250.5 399.4,248.3 399.6,248.4 399.7,246.6 399.9,246.1 400.0,245.6 400.2,245.8 400.3,244.5 400.5,244.9 400.6,244.8 400.8,243.4 400.9,244.1 401.0,241.4 401.0,243.3 401.1,244.4 401.1,245.2 401.2,245.9 401.2,246.3 401.3,246.9 401.3,247.3 401.4,247.9 401.4,248.7 401.5,249.1 401.5,249.8 401.5,250.5 401.6,251.2 401.6,251.9 401.7,252.2 401.7,253.0 401.8,253.7 401.8,254.2 401.9,254.6 401.9,255.3 402.0,255.9 402.0,256.4 402.1,257.1 402.1,257.5 402.1,258.2 402.2,258.9 402.3,259.3 402.3,260.2 402.4,260.9 402.5,261.4 402.5,262.6 402.6,262.8 402.7,263.3 402.7,263.4 402.8,264.3 402.9,264.6 402.9,265.0 403.0,265.6 403.1,266.4 403.1,267.2 403.2,267.8 403.2,268.4 403.3,269.3 403.4,269.6 403.4,270.1 403.5,270.5 403.6,270.8 403.6,271.9 403.7,272.5 403.8,273.1 403.8,273.3 403.9,274.0 404.0,274.5 404.1,275.2 404.2,276.4 404.3,276.2 404.4,276.0 404.5,277.3 404.6,277.9 404.7,278.7 404.8,279.8 404.9,280.3 405.0,281.4 405.1,281.5 405.2,281.8 405.3,282.7 405.4,283.4 405.5,284.0 405.6,284.3 405.7,284.8 405.8,285.9 405.9,286.4 406.0,287.0 406.1,287.2 406.2,287.3 406.4,288.7 406.5,289.5 406.6,290.2 406.7,289.7 406.8,291.0 406.9,291.5 407.1,292.0 407.2,292.4 407.3,293.3 407.4,293.4 407.5,294.3 407.6,295.1 407.7,295.8 407.8,295.5 407.9,296.3 408.0,296.9 408.1,298.3 408.2,298.5 408.3,299.5 408.4,299.7 408.5,300.4 408.6,300.5 408.7,301.2 408.8,301.9 408.9,302.5 409.0,303.2 409.1,304.0 409.2,304.3 409.3,304.8 409.4,306.0 409.6,306.4 409.7,306.2 409.8,307.1 409.9,307.4 410.0,308.3 410.2,308.6 410.3,309.9 410.4,310.0 410.5,310.7 410.6,311.3 410.7,311.8 410.9,313.0 411.0,313.8 411.1,314.1 410.7,314.8 410.2,314.9 410.4,315.5 410.6,315.5 410.8,317.2 411.0,316.7 411.2,317.6 411.4,319.2 411.7,318.8 411.9,318.1 412.1,319.6 412.3,319.6 412.5,321.1 412.7,321.4 412.9,322.8 413.2,322.9 413.4,321.9 413.7,323.2 414.0,324.7 414.2,323.8 414.5,325.4 414.8,326.9 415.0,327.9 415.3,327.4 415.6,326.7 415.7,327.6 415.8,328.3 415.9,329.2 416.1,329.4 416.2,329.7 416.3,330.6 416.5,331.1 416.6,331.4 416.7,331.7 416.8,333.4 417.0,333.6 417.1,333.7 417.2,333.2 417.3,332.9 417.6,333.1 417.8,332.2 418.0,334.0 418.2,334.1 418.5,333.4 418.7,332.1 418.9,330.3 419.1,330.1 419.3,330.1 419.5,329.9 419.7,329.5 419.9,327.7 420.1,328.2 420.3,326.7 420.5,326.8 420.7,327.0 420.9,324.6 421.0,324.6 421.1,325.8 421.2,327.1 421.3,327.9 421.4,328.1 421.5,329.6 421.6,330.0 421.7,330.4 421.8,331.3 421.9,331.9 422.0,332.2 422.1,332.6 422.2,333.2 422.3,333.8 422.4,334.1 422.5,335.1 422.6,336.6 422.7,334.8 422.8,336.2 423.0,335.2 423.1,334.3 423.3,334.3 423.4,333.2 423.6,332.4 423.7,332.6 423.9,331.2 424.0,330.1 424.2,330.5 424.3,329.8 424.5,329.5 424.5,329.2 424.6,328.3 424.7,327.8 424.7,327.1 424.8,326.2 424.9,325.7 424.9,325.1 425.0,324.6 425.1,323.7 425.1,323.3 425.2,323.0 425.3,322.4 425.3,321.4 425.4,320.9 425.5,320.1 425.5,319.7 425.6,319.2 425.7,318.7 425.7,317.8 425.8,317.1 425.9,316.7 425.9,316.2 426.0,315.6 426.1,315.0 426.1,314.4 426.2,313.7 426.3,312.8 426.4,311.9 426.5,311.6 426.6,311.3 426.8,310.9 426.9,310.5 427.0,308.9 427.2,309.4 427.3,309.3 427.4,309.2 427.6,309.2 427.7,305.4 427.8,308.6 427.9,309.7 428.1,309.3 428.2,309.5 428.3,309.6 428.4,310.0 428.6,310.6 428.7,310.8 428.8,311.4 429.0,312.5 429.1,313.4 429.2,314.7 429.3,314.3 429.5,314.9 429.6,315.2 429.7,315.7 429.8,316.7 429.9,318.0 430.1,317.8 430.2,318.8 430.3,318.9 430.4,319.5 430.5,319.5 430.7,320.3 430.8,321.4 430.9,322.7 431.0,322.4 431.1,323.4 431.2,323.9 431.4,324.9 431.5,325.1 431.6,325.8 431.8,325.3 432.0,326.6 432.2,327.0 432.4,328.4 432.6,328.6 432.8,329.0 433.0,328.0 433.2,330.1 433.4,332.8 433.8,329.0 434.2,332.1 434.5,333.6 434.9,333.3 435.3,333.3 435.7,331.9 436.1,334.0 436.2,333.4 436.3,332.0 436.4,332.7 436.5,332.3 436.7,332.0 436.8,331.7 436.9,330.5 437.0,329.5 437.1,329.4 437.2,328.6 437.4,327.5 437.5,327.2 437.6,326.9 437.7,326.2 437.8,325.8 437.9,325.4 438.0,324.6 438.1,323.9 438.2,323.2 438.3,322.5 438.4,322.0 438.4,321.2 438.5,320.5 438.6,320.0 438.7,319.8 438.8,319.1 438.9,318.5 438.9,318.3 439.0,317.5 439.1,316.8 439.2,316.4 439.3,315.7 439.4,315.1 439.5,314.4 439.5,314.1 439.6,313.4 439.7,313.1 439.8,312.0 439.9,311.4 440.0,310.9 440.1,310.4 440.1,309.6 440.2,308.6 440.3,308.3 440.4,308.0 440.5,307.7 440.6,306.9 440.6,305.6 440.7,305.2 440.8,304.9 440.9,304.9 441.0,304.1 441.1,303.6 441.2,302.3 441.2,302.0 441.3,300.9 441.4,300.5 441.5,299.7 441.7,299.8 441.8,299.6 442.0,298.0 442.1,296.7 442.2,296.6 442.4,297.6 442.5,297.3 442.7,295.7 442.7,297.1 442.8,296.4 442.9,297.2 443.0,297.6 443.1,298.3 443.1,299.2 443.2,299.7 443.3,300.7 443.4,301.0 443.4,301.0 443.5,301.7 443.6,303.0 443.7,303.3 443.8,303.5 443.8,304.5 443.9,305.9 444.0,305.5 444.1,309.4 444.2,305.7 444.4,303.9 444.6,304.7 444.7,303.1 444.9,302.9 445.0,302.4 445.2,301.3 445.3,301.8 445.5,301.6 445.7,301.2 445.9,300.5 446.1,299.3 446.3,297.8 446.5,299.6 446.8,297.6 446.8,296.7 446.9,298.2 446.9,298.9 447.0,299.7 447.0,300.3 447.1,301.0 447.1,301.7 447.2,301.8 447.2,302.6 447.3,302.9 447.3,303.6 447.4,304.3 447.4,304.8 447.5,305.5 447.5,306.0 447.6,306.4 447.6,307.2 447.7,307.7 447.7,308.4 447.8,308.8 447.8,309.6 447.9,310.2 448.0,311.2 448.0,311.5 448.1,311.0 448.2,312.6 448.4,313.2 448.5,313.9 448.6,314.2 448.7,314.5 448.8,315.0 449.0,316.3 449.1,316.7 449.2,317.1 449.3,318.2 449.4,318.4 449.5,319.5 449.7,319.9 449.8,320.8 449.9,321.3 450.0,321.7 450.1,321.8 450.3,322.2 450.4,323.5 450.5,324.1 450.6,325.4 450.7,325.7 450.9,325.6 451.0,326.7 451.1,328.7 451.2,327.7 451.3,327.3 451.4,326.9 451.4,326.1 451.5,325.3 451.6,324.8 451.7,324.3 451.8,323.6 451.8,322.8 451.9,322.1 452.0,322.0 452.1,321.1 452.2,320.2 452.2,319.8 452.3,319.0 452.4,318.7 452.5,317.7 452.6,316.1 452.6,314.5 452.8,316.1 453.1,317.8 453.3,318.7 453.5,319.0 453.7,319.4 453.9,319.9 453.9,320.5 454.0,321.2 454.0,321.8 454.1,322.2 454.1,322.8 454.2,323.9 454.2,324.6 454.3,325.3 454.3,325.8 454.4,326.3 454.4,326.9 454.5,327.4 454.5,328.1 454.6,328.6 454.6,328.9 454.7,329.5 454.7,330.2 454.8,331.0 454.9,331.0 455.0,331.7 455.1,332.6 455.2,333.5 455.3,333.7 455.4,334.7 455.5,335.4 455.6,335.4 455.7,335.7 455.8,337.0 455.9,337.5 456.0,337.9 456.1,338.7 456.2,338.5 456.3,339.8 456.4,340.5 456.5,341.2 456.6,341.5 456.7,342.0 456.8,342.5 456.9,343.3 457.0,344.0 457.1,344.4 457.2,345.0 457.3,345.4 457.4,346.5 457.5,346.6 457.6,347.8 457.6,347.4 457.7,348.6 457.8,349.3 457.9,350.1 458.0,350.3 458.1,351.0 458.2,351.4 458.3,351.7 458.6,350.4 458.9,351.8 459.1,354.1 459.4,355.6 459.6,356.0 459.9,355.5 460.1,356.9 460.3,355.9 460.4,355.7 460.6,354.5 460.7,353.8 460.9,353.1 461.0,352.6 461.2,351.4 461.3,352.5 461.5,351.1 461.6,351.2 461.8,350.5 461.9,350.7 462.1,348.2 462.4,347.3 462.6,348.4 462.8,346.5 463.0,344.5 463.2,345.5 463.5,344.0 463.7,343.3 464.0,343.5 464.4,344.7 464.8,346.3 465.1,346.6 465.5,346.0 465.6,346.8 465.7,347.9 465.8,349.3 465.9,349.6 466.1,349.9 466.2,351.0 466.3,351.4 466.4,351.4 466.5,352.2 466.7,352.9 466.8,353.2 466.9,353.6 467.0,354.6 467.1,355.4 467.3,354.8 467.5,355.2 467.7,356.4 467.8,357.0 468.0,357.0 468.2,357.8 468.4,358.9 468.6,359.0 468.8,357.9 469.0,359.5 469.5,358.9 469.9,360.1 470.4,361.1 470.8,364.4 471.1,363.3 471.3,364.4 471.6,366.0 471.8,366.7 472.1,366.0 472.3,364.1 472.6,365.4 473.0,366.5 473.4,365.5 473.7,367.4 474.1,367.5 474.5,369.3 474.9,368.3 475.3,367.3 475.7,368.1 476.0,369.7 476.4,371.2 476.8,373.8 477.2,372.6 477.6,373.5 478.0,374.0 478.2,373.4 478.4,374.3 478.6,375.3 478.8,375.6 479.0,375.6 479.2,377.5 479.4,377.5 479.6,377.7 479.8,377.9 480.0,379.5 480.2,379.4 480.4,380.6 480.6,381.2 480.7,382.0 480.9,383.2 481.0,383.8 481.1,383.8 481.2,383.7 481.3,384.2 481.5,384.6 481.6,385.7 481.7,386.6 481.8,387.2 481.9,388.1 482.0,387.8 482.2,388.7 482.3,389.3 482.4,389.9 482.6,390.6 482.8,391.3 483.0,392.3 483.2,393.5 483.4,393.2 483.6,393.2 483.8,393.3 484.0,391.9 484.2,394.2 484.4,393.7 484.6,393.6 484.8,394.5 485.0,393.5 485.2,393.1 485.4,392.2 485.6,390.4 485.8,390.0 486.0,389.2 486.1,387.8 486.2,387.7 486.3,387.6 486.4,387.5 486.6,386.9 486.7,386.3 486.8,386.0 486.9,385.5 487.0,385.2 487.2,384.2 487.3,382.5 487.4,383.0 487.5,382.3 487.6,381.4 487.8,381.2 487.9,380.4 488.1,379.9 488.2,378.5 488.3,377.9 488.5,378.2 488.6,377.8 488.8,377.2 488.9,376.3 489.1,376.1 489.2,375.6 489.4,374.4 489.5,373.5 490.0,371.3 490.4,372.5 490.9,373.7 491.3,371.2 491.4,371.4 491.5,373.3 491.6,374.0 491.7,375.1 491.8,375.4 491.9,375.5 492.0,376.2 492.1,376.8 492.2,377.3 492.3,378.0 492.4,378.2 492.5,379.2 492.6,379.2 492.7,380.1 492.8,380.7 492.9,381.9 493.0,382.1 493.1,382.2 493.3,383.3 493.5,384.0 493.7,383.7 493.9,384.7 494.1,386.1 494.3,385.3 494.5,386.1 494.7,386.7 494.9,389.6 495.0,389.2 495.1,387.3 495.2,386.5 495.3,385.6 495.4,385.1 495.5,384.2 495.6,384.1 495.7,383.7 495.8,382.8 495.9,382.5 496.0,381.4 496.1,380.7 496.2,380.6 496.3,379.6 496.4,379.0 496.5,378.5 496.6,377.6 496.7,377.5 496.7,376.8 496.7,376.3 496.8,375.4 496.8,374.9 496.8,374.5 496.9,373.8 496.9,373.0 496.9,372.6 497.0,372.1 497.0,371.5 497.0,370.9 497.1,370.3 497.1,369.8 497.1,369.3 497.2,368.6 497.2,367.9 497.2,367.3 497.3,366.7 497.3,365.9 497.3,365.5 497.4,365.1 497.4,364.3 497.4,363.6 497.5,363.1 497.5,362.6 497.5,362.0 497.6,361.4 497.6,361.0 497.6,360.4 497.7,359.6 497.7,359.0 497.8,358.3 497.8,357.7 497.9,356.9 497.9,356.4 497.9,355.7 498.0,355.4 498.0,354.5 498.1,354.1 498.1,353.4 498.2,352.9 498.2,352.4 498.2,351.6 498.3,351.1 498.3,350.5 498.4,349.2 498.4,348.1 498.4,346.8 498.9,348.6 499.3,352.4 499.8,351.1 500.2,351.1 500.4,350.7 500.5,349.0 500.7,349.0 500.8,348.9 501.0,347.6 501.1,347.0 501.3,346.9 501.4,346.0 501.6,345.5 501.7,345.0 501.9,344.6 502.0,343.8 502.1,343.4 502.1,342.8 502.2,341.8 502.2,341.1 502.3,340.5 502.3,339.5 502.4,339.0 502.4,338.3 502.5,337.9 502.6,337.2 502.6,337.2 502.7,336.5 502.7,335.7 502.8,334.9 502.8,334.2 502.9,334.0 502.9,333.5 503.0,332.5 503.0,332.0 503.1,331.5 503.1,331.0 503.2,330.3 503.3,329.9 503.3,329.2 503.4,328.5 503.4,327.8 503.5,327.2 503.5,327.0 503.6,326.4 503.6,325.6 503.7,325.1 503.7,324.3 503.8,324.9 503.8,324.7 503.9,325.3 503.9,325.9 504.0,326.3 504.0,326.8 504.1,327.4 504.1,328.0 504.1,328.8 504.2,329.3 504.2,329.9 504.3,330.3 504.3,330.7 504.3,331.4 504.4,332.2 504.4,332.9 504.5,333.5 504.5,334.2 504.6,335.0 504.6,335.4 504.6,335.6 504.7,336.4 504.7,337.0 504.8,337.6 504.8,338.2 504.9,338.7 504.9,339.0 504.9,339.7 505.0,340.5 505.0,341.2 505.1,341.9 505.1,342.3 505.2,342.8 505.2,343.2 505.2,343.9 505.3,344.6 505.3,345.5 505.4,346.0 505.4,346.6 505.5,347.0 505.5,347.6 505.5,348.0 505.6,348.5 505.6,349.2 505.6,350.1 505.6,350.7 505.7,351.3 505.7,352.0 505.7,352.5 505.7,353.0 505.7,353.7 505.8,354.2 505.8,354.7 505.8,355.3 505.8,355.9 505.9,356.5 505.9,357.2 505.9,357.8 505.9,358.3 505.9,359.0 506.0,359.6 506.0,360.2 506.0,360.7 506.0,361.4 506.0,362.0 506.1,362.6 506.1,363.3 506.1,363.9 506.1,364.4 506.2,365.0 506.2,365.6 506.2,366.1 506.2,366.6 506.2,367.2 506.3,367.8 506.3,368.5 506.3,369.1 506.3,369.6 506.3,370.2 506.4,370.7 506.4,371.4 506.4,371.9 506.4,372.4 506.4,373.0 506.5,372.9 506.6,372.4 506.6,371.7 506.7,371.0 506.8,371.3 506.9,371.0 507.0,369.9 507.1,369.1 507.1,368.8 507.2,368.9 507.3,368.3 507.4,367.9 507.5,366.6 507.6,366.5 507.7,366.3 507.7,365.3 507.8,364.6 507.9,364.0 508.0,363.7 508.1,362.4 508.2,361.6 508.3,360.6 508.4,360.3 508.5,359.6 508.6,359.6 508.6,358.9 508.7,358.5 508.8,357.7 508.9,356.7 509.0,356.0 509.1,355.8 509.2,355.5 509.3,354.5 509.4,354.1 509.5,353.3 509.6,352.7 509.7,353.0 509.8,352.7 509.9,351.1 510.0,351.1 510.2,350.8 510.4,349.2 510.6,349.0 510.8,348.0 511.0,348.3 511.2,346.9 511.4,345.9 511.6,346.5 511.8,346.8 512.0,348.4 512.2,346.6 512.4,347.0 512.6,348.0 512.8,349.6 513.0,348.3 513.2,349.1 513.4,350.8 513.6,350.8 513.7,350.9 513.9,351.4 514.0,351.4 514.2,352.2 514.3,352.5 514.5,354.4 514.6,355.3 514.8,355.8 514.9,356.4 515.1,355.4 515.2,356.1 515.4,357.2 515.5,358.1 515.7,358.2 515.8,358.7 516.0,359.5 516.1,360.7 516.3,361.9 516.4,362.0 516.6,363.0 516.7,364.1 516.9,364.4 517.0,365.7 517.2,365.2 517.3,366.0 517.4,365.9 517.5,366.5 517.6,367.6 517.8,367.8 517.9,368.8 518.0,369.2 518.1,370.4 518.2,370.7 518.4,370.9 518.5,370.6 518.6,371.7 518.7,371.8 518.8,372.6 518.9,373.8 519.1,374.3 519.2,373.9 519.4,375.3 519.5,376.0 519.7,376.3 519.8,376.4 520.0,378.3 520.1,378.7 520.3,379.6 520.4,380.2 520.6,380.6 520.7,380.2 521.0,381.4 521.2,383.2 521.5,382.4 521.7,382.7 522.0,383.1 522.3,385.6 522.5,382.9 522.8,384.7 523.0,384.1 523.3,384.0 523.5,383.7 523.8,381.0 524.0,380.6 524.3,381.0 524.7,379.9 525.2,377.7 525.6,378.8 526.1,377.9 526.3,379.2 526.5,377.6 526.7,376.9 526.9,377.0 527.1,375.9 527.3,375.1 527.5,375.1 527.7,374.6 527.9,374.4 528.1,373.3 528.4,372.6 528.6,372.4 528.9,371.6 529.1,370.2 529.4,370.0 529.6,368.9 530.1,369.3 530.6,368.0 531.1,368.5 531.6,370.3 531.7,368.9 531.7,370.8 531.8,369.6 531.9,368.6 531.9,367.7 532.0,367.4 532.0,367.4 532.1,366.9 532.2,366.5 532.2,365.9 532.3,364.7 532.4,364.2 532.4,363.7 532.5,362.9 532.6,362.2 532.6,362.0 532.7,361.1 532.8,360.3 532.8,359.9 532.9,359.6 533.0,359.0 533.0,358.3 533.1,357.8 533.2,357.1 533.2,356.6 533.3,355.8 533.4,355.2 533.5,355.3 533.6,354.9 533.7,353.8 533.8,353.8 533.9,353.5 534.0,352.2 534.2,351.6 534.3,350.9 534.4,350.5 534.5,349.8 534.6,350.6 534.7,351.2 534.9,349.2 535.0,350.9 535.1,351.6 535.3,351.4 535.4,352.1 535.5,352.9 535.7,353.6 535.8,354.8 535.9,354.5 536.0,355.4 536.2,356.1 536.3,356.6 536.5,357.0 536.6,358.7 536.8,359.1 536.9,359.6 537.1,359.5 537.2,360.3 537.4,360.9 537.5,361.3 537.7,361.4 537.8,363.4 538.1,364.0 538.3,364.2 538.6,364.8 538.8,364.1 539.0,364.6 539.3,365.0 539.5,366.2 539.8,367.6 540.0,368.2 540.3,367.5 540.5,367.6 540.7,369.3 541.0,369.0 541.2,369.5 541.5,371.0 541.7,370.3 542.0,371.2 542.2,372.8 542.4,371.7 542.7,372.8 542.9,373.4 543.2,375.6 543.5,374.6 543.8,375.3 544.1,376.3 544.4,376.6 544.7,377.4 545.0,377.7 545.3,376.9 545.5,377.9 545.8,377.1 546.0,378.3 546.2,379.7 546.4,380.8 546.6,382.5 546.8,383.8 547.0,383.5 547.2,383.5 547.4,383.7 547.6,384.3 547.8,385.0 547.9,385.6 548.1,385.4 548.3,387.3 548.5,387.8 548.8,388.3 549.0,387.0 549.3,388.0 549.5,390.2 549.8,392.0 550.0,391.8 550.3,393.9 550.7,392.7 551.2,392.5 551.6,391.4 552.1,391.5 552.2,392.7 552.3,392.1 552.4,390.2 552.6,390.4 552.7,390.0 552.8,388.5 552.9,388.1 553.0,387.4 553.2,386.9 553.3,386.6 553.4,386.1 553.5,385.6 553.6,384.7 553.7,383.5 553.9,382.8 554.0,382.8 554.1,382.3 554.2,381.5 554.3,381.2 554.5,381.0 554.6,380.1 554.7,379.5 554.8,379.0 554.9,378.4 555.1,377.0 555.2,376.5 555.3,376.7 555.4,376.8 555.5,376.0 555.7,375.8 555.7,374.5 555.8,373.7 555.9,372.7 555.9,372.0 556.0,371.9 556.1,371.3 556.2,370.7 556.2,370.5 556.3,369.8 556.4,369.5 556.5,366.9 556.5,368.6 556.7,366.1 556.8,368.1 556.9,369.2 557.0,369.6 557.1,370.2 557.3,371.2 557.4,372.3 557.5,372.6 557.6,373.0 557.7,373.0 557.8,373.6 558.0,374.4 558.1,375.6 558.2,376.6 558.3,376.6 558.6,376.5 558.9,376.8 559.1,377.4 559.4,378.7 559.7,379.1 559.9,379.1 560.2,379.6 560.5,381.5 560.7,382.1 561.0,382.2 561.4,382.6 561.8,384.8 562.1,381.9 562.5,385.2 562.9,385.7 563.3,384.8 563.7,385.9 564.2,387.9 564.7,387.4 565.3,387.5 565.8,389.0 566.3,384.0 566.6,382.8 566.9,382.2 567.2,383.2 567.5,384.9 567.8,384.0 568.1,382.3 568.4,382.0 568.7,382.2 569.0,381.9 569.6,382.5 570.1,380.9 570.6,381.0 571.2,380.9 571.7,381.0 571.8,381.6 572.0,382.7 572.1,383.5 572.3,384.8 572.4,384.9 572.6,385.5 572.7,384.8 572.9,387.0 573.0,387.4 573.2,387.9 573.3,388.2 573.5,390.4 573.7,391.0 573.9,390.5 574.1,390.6 574.3,390.5 574.5,390.7 574.7,391.9 574.9,393.4 575.1,392.3 575.3,393.6 575.5,394.2 575.7,394.7 575.9,395.8 576.1,396.1 576.3,396.3 576.5,397.4 576.7,398.3 576.9,398.7 577.1,400.3 577.3,399.7 577.5,400.8 577.7,400.4 577.9,401.4 578.1,399.5 578.3,400.4 578.5,400.6 578.7,399.4 578.9,398.5 579.1,397.4 579.3,397.5 579.5,396.9 579.7,396.0 579.8,394.7 580.0,394.6 580.1,394.8 580.2,394.0 580.3,393.7 580.4,393.1 580.5,392.7 580.7,392.0 580.8,391.0 580.9,390.5 581.0,389.9 581.1,389.5 581.3,388.8 581.4,388.1 581.5,387.7 581.5,386.5 581.6,385.8 581.6,385.5 581.7,384.8 581.7,384.3 581.8,384.0 581.8,383.4 581.9,382.8 581.9,381.9 582.0,381.6 582.0,380.8 582.1,380.3 582.1,379.7 582.1,379.2 582.2,378.3 582.2,377.7 582.3,377.1 582.3,376.4 582.4,376.0 582.4,375.4 582.5,374.8 582.5,374.3 582.6,373.5 582.6,373.0 582.7,372.6 582.7,371.7 582.7,371.1 582.8,370.5 582.9,370.1 582.9,369.6 583.0,369.0 583.1,368.6 583.2,368.1 583.2,367.3 583.3,366.3 583.4,366.4 583.4,365.1 583.5,364.3 583.6,364.2 583.6,363.7 583.7,363.3 583.8,362.3 583.8,361.8 583.9,361.1 584.0,360.8 584.0,360.3 584.1,359.1 584.2,356.4 584.2,359.1 584.3,360.3 584.4,360.5 584.4,361.1 584.5,362.2 584.6,362.7 584.6,362.6 584.7,363.5 584.8,364.5 584.9,364.8 584.9,365.8 585.0,365.9 585.1,366.2 585.1,366.9 585.2,367.5 585.3,368.1 585.3,369.1 585.4,369.4 585.5,371.0 585.5,371.1 585.6,371.4 585.7,372.0 585.8,372.6 585.9,373.3 585.9,373.6 586.0,374.2 586.1,375.0 586.2,375.2 586.3,375.5 586.4,376.3 586.4,377.2 586.5,378.0 586.6,378.3 586.7,379.3 586.8,379.9 586.9,380.5 587.0,381.1 587.0,381.5 587.1,382.4 587.2,382.9 587.3,382.8 587.4,382.9 587.5,383.8 587.6,382.4 587.7,382.3 587.9,381.4 588.0,381.0 588.1,380.7 588.2,379.8 588.3,379.1 588.4,377.8 588.6,377.9 588.7,377.7 588.8,377.0 588.9,375.5 589.0,374.3 589.2,374.6 589.2,373.8 589.3,373.6 589.3,372.8 589.4,372.3 589.4,371.7 589.5,371.1 589.6,370.5 589.6,369.9 589.7,369.2 589.7,368.9 589.8,368.2 589.8,367.5 589.9,366.8 590.0,366.2 590.0,365.8 590.1,365.4 590.1,364.7 590.2,364.1 590.2,363.1 590.3,362.0 590.4,363.7 590.4,362.2 590.8,362.6 591.1,362.0 591.5,364.7 591.8,363.1 592.2,363.8 592.3,365.0 592.3,365.7 592.4,366.0 592.5,366.7 592.5,367.5 592.6,367.9 592.7,368.7 592.7,369.0 592.8,369.8 592.9,370.0 593.0,370.6 593.0,371.2 593.1,371.7 593.2,372.4 593.2,373.2 593.3,373.7 593.4,374.4 593.4,375.4 593.6,375.7 593.8,375.3 594.0,376.3 594.2,377.2 594.3,378.0 594.5,379.3 594.7,383.1 594.9,382.5 595.0,379.9 595.1,378.3 595.2,377.4 595.3,377.6 595.4,376.5 595.5,376.1 595.6,375.2 595.7,375.1 595.8,374.1 595.9,374.0 596.0,373.3 596.1,372.0 596.2,372.3 596.3,372.4 596.4,371.8 596.6,372.6 596.7,373.4 596.9,373.0 597.0,374.5 597.2,374.6 597.3,376.0 597.5,376.2 597.6,376.5 597.8,377.0 597.9,378.4 598.1,379.1 598.3,380.2 598.4,380.3 598.6,380.2 598.8,379.8 599.0,381.4 599.1,380.8 599.3,382.2 599.5,383.0 599.7,383.1 599.9,383.9 600.0,385.7 600.2,385.7 600.7,383.7 601.3,384.6 601.8,381.8 602.4,382.5 602.9,384.0 603.4,384.2 604.0,384.5 604.5,384.4 605.0,384.1 605.6,384.3 605.8,386.2 606.0,386.6 606.2,387.7 606.4,387.7 606.6,387.6 606.7,389.0 606.9,388.1 607.1,388.9 607.3,390.5 607.7,391.0 608.1,391.4 608.5,391.6 608.9,390.8 609.3,389.3 609.6,388.0 610.0,387.0 610.2,385.5 610.3,385.5 610.4,385.5 610.6,385.3 610.7,384.4 610.8,384.2 611.0,384.1 611.1,383.0 611.3,382.6 611.4,381.8 611.5,381.2 611.7,380.0 611.8,379.3 611.9,379.6 612.1,377.9 612.2,377.8 612.3,376.2 612.4,378.3 612.5,378.6 612.6,379.3 612.7,379.3 612.8,379.8 612.9,380.4 613.0,381.6 613.0,381.9 613.1,382.2 613.2,382.8 613.3,383.2 613.4,384.0 613.5,384.4 613.6,385.5 613.7,385.8 613.9,386.3 614.1,387.1 614.2,387.0 614.4,388.3 614.6,388.7 614.7,389.7 614.9,390.2 615.0,391.6 615.2,391.2 615.4,391.5 615.8,394.1 616.3,392.1 616.7,392.6 617.1,394.0 617.6,394.1 618.0,393.9 618.5,394.8 618.9,395.5 619.4,395.5 619.8,395.7 620.3,396.5 620.7,397.4 621.0,398.9 621.2,399.3 621.5,399.4 621.8,400.3 622.0,400.7 622.3,400.3 622.6,400.7 622.9,399.9 623.1,401.8 623.4,403.5 623.7,402.6 624.0,404.8 624.3,404.7 624.6,406.6 624.9,407.6 625.2,405.6 625.5,403.6 625.8,405.3 626.1,406.1 626.4,408.4 626.8,407.2 627.2,407.1 627.6,409.3 628.0,408.1 628.4,409.5 628.7,409.7 629.0,408.0 629.3,409.7 629.5,411.2 629.8,409.9 630.1,412.3 630.3,412.9 630.6,413.2 630.9,413.7 631.1,412.7 631.4,412.6 631.9,415.9 632.3,415.1 632.7,414.6 633.2,413.4 633.3,412.8 633.5,412.4 633.6,412.2 633.8,411.7 633.9,410.8 634.1,409.5 634.2,409.0 634.4,408.9 634.5,408.8 634.7,407.9 634.8,407.5 635.0,407.7 635.2,407.9 635.4,408.1 635.6,405.4 635.8,404.7 636.0,405.6 636.2,404.1 636.3,403.6 636.4,404.0 636.5,404.7 636.6,405.6 636.7,406.2 636.8,406.8 636.9,407.8 637.0,408.6 637.1,409.4 637.2,409.4 637.3,410.3 637.4,410.9 637.5,411.5 637.6,412.3 637.6,412.6 637.8,413.2 637.9,413.3 638.0,413.9 638.2,414.0 638.3,415.9 638.4,415.9 638.6,417.1 638.7,416.9 638.8,417.2 638.9,418.8 639.1,420.6 639.2,419.6 639.4,419.0 639.5,418.8 639.7,417.6 639.9,415.7 640.0,416.1 640.2,414.9 640.3,414.1 640.4,414.3 640.6,413.5 640.7,413.3 640.8,412.3 640.9,411.5 641.0,410.8 641.2,409.2 641.3,408.5 641.4,409.0 641.5,408.1 641.6,407.9 641.7,406.6 641.9,405.6 642.0,406.0 642.1,405.3 642.2,404.7 642.3,404.7 642.4,403.2 642.5,403.1 642.6,402.1 642.7,402.0 642.8,401.0 642.9,400.6 643.0,400.0 643.1,399.2 643.1,398.9 643.2,398.5 643.3,397.6 643.4,397.2 643.5,396.5 643.6,396.2 643.7,395.0 643.8,394.5 643.9,393.6 644.0,393.1 644.2,393.0 644.3,392.6 644.4,392.0 644.5,390.4 644.6,390.6 644.7,391.6 644.8,389.5 644.9,391.2 645.0,391.6 645.2,391.0 645.3,391.1 645.4,391.8 645.5,392.7 645.7,392.8 645.8,394.2 645.9,394.2 646.1,395.2 646.2,395.6 646.3,395.5 646.4,396.0 646.6,395.9 646.8,397.1 647.0,398.0 647.2,398.5 647.4,399.0 647.6,400.3 647.7,401.4 647.9,401.2 648.1,403.6 648.3,401.0 648.7,401.1 649.1,401.8 649.4,401.9 649.8,402.0 650.1,400.9 650.3,399.5 650.5,398.8 650.7,396.7 650.9,396.2 651.1,397.3 651.3,395.4 651.5,394.8 651.7,394.3 651.9,394.9 652.0,393.9 652.1,393.6 652.2,392.6 652.2,391.9 652.3,391.3 652.4,391.0 652.5,390.4 652.6,389.9 652.7,389.2 652.7,388.5 652.8,388.4 652.9,387.2 653.0,387.2 653.1,386.5 653.2,386.2 653.2,386.1 653.3,386.3 653.5,387.9 653.6,385.9 653.7,386.6 653.8,387.4 654.0,388.4 654.1,388.4 654.2,389.1 654.4,389.7 654.5,389.6 654.6,390.6 654.7,391.5 654.9,391.9 655.0,392.4 655.1,394.0 655.3,394.4 655.5,392.3 655.7,391.4 655.9,390.9 656.1,389.9 656.3,388.7 656.4,388.1 656.6,387.5 656.8,387.6 657.0,386.5 657.2,385.3 657.4,384.5 657.6,385.8 657.8,383.8 658.0,384.6 658.1,385.8 658.5,385.5 658.9,384.0 659.3,381.8 659.7,380.2 660.1,380.3 660.4,379.1 660.8,379.7 661.0,379.9 661.1,379.6 661.3,378.4 661.4,377.4 661.6,376.7 661.7,375.9 661.9,375.4 662.0,375.2 662.2,374.9 662.3,375.6 662.5,374.0 662.6,373.3 662.9,372.8 663.2,373.0 663.5,372.9 663.6,372.7 663.7,374.0 663.9,373.3 664.0,374.4 664.1,374.9 664.2,375.0 664.3,375.4 664.4,375.8 664.6,376.4 664.7,377.9 664.8,378.1 664.9,377.6 665.0,378.5 665.2,378.7 665.3,380.2 665.4,380.5 665.6,381.6 665.8,381.8 665.9,383.4 666.1,382.7 666.2,383.4 666.4,383.8 666.6,385.2 666.7,385.5 666.9,386.2 667.1,389.0 667.4,389.4 667.8,387.4 668.1,390.5 668.5,389.5 668.8,391.1 669.1,389.3 669.4,388.3 669.6,387.5 669.9,387.4 670.1,387.3 670.4,386.1 670.6,386.2 670.8,385.2 670.9,384.1 671.1,383.7 671.2,383.5 671.4,382.8 671.5,381.7 671.7,381.5 671.8,380.8 672.0,379.4 672.1,378.8 672.3,378.7 672.4,378.0 672.6,377.2 672.8,376.8 673.0,376.9 673.2,376.7 673.4,375.8 673.6,375.0 673.8,374.5 674.0,374.6 674.2,373.2 674.5,371.9 674.9,370.2 675.3,369.4 675.6,370.2 676.0,371.3 676.2,370.8 676.4,370.8 676.6,369.9 676.9,369.7 677.1,368.7 677.3,366.7 677.5,365.3 677.8,364.9 678.0,365.3 678.2,363.3 678.3,364.0 678.5,363.5 678.7,362.2 678.9,362.7 679.1,361.4 679.3,361.2 679.5,360.8 679.8,361.1 680.0,359.8 680.3,359.1 680.6,357.9 680.8,356.4 681.1,356.9 681.3,357.7 681.6,357.9 681.8,356.8 682.1,355.6 682.3,354.3 682.6,354.3 682.8,353.7 683.1,353.7 683.2,353.1 683.3,352.3 683.3,351.3 683.4,350.6 683.5,350.2 683.5,349.8 683.6,349.1 683.7,348.6 683.8,348.0 683.8,347.6 683.9,346.7 684.0,346.2 684.1,345.6 684.2,344.6 684.2,344.3 684.3,344.0 684.4,343.4 684.5,343.1 684.5,342.4 684.6,341.7 684.7,341.5 684.8,341.3 684.9,341.0 684.9,339.8 685.0,338.9 685.1,338.5 685.2,337.9 685.3,337.2 685.3,337.2 685.4,335.6 685.5,334.2 685.6,334.1 685.7,334.4 685.8,333.2 685.9,332.9 686.0,332.5 686.1,332.1 686.3,331.5 686.4,330.8 686.5,329.7 686.6,329.9 686.7,329.1 686.8,328.2 687.0,327.7 687.1,327.6 687.3,326.3 687.4,325.7 687.6,325.6 687.7,325.5 687.9,325.1 688.0,323.1 688.2,321.6 688.3,320.9 688.4,322.1 688.5,321.9 688.6,322.2 688.6,323.1 688.7,323.6 688.7,324.3 688.8,324.8 688.8,325.6 688.9,326.2 688.9,326.4 689.0,326.9 689.0,327.5 689.1,328.4 689.1,329.1 689.2,329.7 689.2,330.4 689.3,331.2 689.3,331.5 689.4,332.2 689.4,332.9 689.5,333.5 689.5,334.1 689.6,334.2 689.6,335.0 689.7,335.7 689.8,336.1 689.9,337.0 689.9,337.8 690.0,338.3 690.1,338.7 690.2,339.1 690.3,339.3 690.3,340.3 690.4,340.7 690.5,341.2 690.6,342.3 690.6,343.2 690.7,343.4 690.8,344.1 690.9,344.3 691.0,345.3 691.0,345.7 691.1,346.8 691.3,347.4 691.6,348.4 691.8,349.1 692.0,347.9 692.2,349.4 692.5,348.5 692.7,349.2 692.9,350.3 693.1,348.9 693.2,349.5 693.4,350.0 693.6,348.7 693.7,347.2 693.9,346.9 694.0,346.5 694.2,346.3 694.4,345.2 694.5,344.8 694.7,344.1 694.8,344.0 695.0,342.5 695.1,342.6 695.3,342.3 695.4,341.4 695.6,340.9 695.7,340.2 695.9,340.1 696.0,339.3 696.2,339.4 696.3,337.8 696.5,337.9 696.7,336.8 696.9,336.1 697.1,336.1 697.3,336.1 697.5,334.5 697.7,334.7 697.9,334.0 698.1,333.6 698.3,332.4 698.4,331.6 698.5,330.1 698.6,330.3 698.6,329.8 698.7,328.8 698.8,328.3 698.9,327.5 699.0,327.0 699.1,326.6 699.2,326.5 699.3,325.9 699.4,325.4 699.5,324.6 699.6,323.8 699.7,323.4 699.8,322.9 699.9,322.5 700.0,321.7 700.1,320.7 700.2,319.8 700.2,319.7 700.3,319.0 700.3,318.5 700.4,318.0 700.5,317.1 700.5,316.9 700.6,315.8 700.6,315.2 700.7,314.7 700.7,313.9 700.8,313.5 700.9,312.7 700.9,312.2 701.0,312.0 701.0,311.3 701.1,310.5 701.2,309.9 701.2,309.4 701.3,309.2 701.3,308.5 701.4,307.6 701.5,307.1 701.6,306.9 701.7,306.0 701.8,305.1 701.9,304.9 702.0,304.7 702.1,303.4 702.2,303.1 702.3,302.4 702.4,302.5 702.6,300.6 702.8,299.7 703.1,299.6 703.3,300.1 703.5,298.7 703.9,299.3 704.2,301.6 704.6,301.0 705.0,298.6 705.3,300.1 705.5,301.6 705.8,301.8 706.1,301.5 706.4,302.2 706.7,302.6 706.8,304.6 707.0,305.1 707.1,304.6 707.2,305.1 707.3,306.2 707.4,306.5 707.5,307.2 707.6,307.9 707.7,308.7 707.8,308.8 707.9,310.5 708.1,310.8 708.2,310.4 708.2,311.9 708.3,312.7 708.4,313.1 708.4,313.5 708.5,314.3 708.6,314.7 708.6,315.5 708.7,315.9 708.8,316.2 708.9,316.6 708.9,317.4 709.0,318.3 709.1,319.0 709.1,319.4 709.2,320.1 709.3,320.6 709.3,321.6 709.4,321.6 709.5,322.0 709.6,322.5 709.7,323.1 709.7,323.7 709.8,324.6 709.9,324.8 710.0,325.5 710.1,326.6 710.2,327.3 710.2,327.7 710.3,328.2 710.4,329.5 710.5,329.2 710.6,329.7 710.7,330.0 710.7,331.3 710.8,331.8 710.9,332.1 711.0,333.1 711.1,333.4 711.1,334.4 711.2,335.1 711.3,335.1 711.4,335.9 711.5,336.9 711.5,337.2 711.6,338.1 711.7,338.5 711.8,339.1 711.8,339.4 711.9,340.2 712.0,340.6 712.1,341.4 712.2,341.9 712.4,342.7 712.5,343.4 712.7,344.6 712.8,344.3 713.0,344.4 713.1,345.8 713.3,346.6 713.4,347.7 713.6,347.6 713.7,347.8 713.9,348.7 714.1,349.1 714.4,348.5 714.6,349.0 714.9,350.5 715.1,350.9 715.4,350.8 715.7,350.0 715.8,349.8 716.0,351.2 716.2,350.6 716.4,349.9 716.6,349.5 716.8,349.1 717.0,347.9 717.2,347.4 717.4,345.4 717.7,344.4 718.0,344.6 718.3,344.0 718.6,343.7 718.9,345.2 719.0,344.7 719.1,344.9 719.2,344.9 719.3,345.5 719.4,346.3 719.5,347.3 719.7,348.5 719.8,348.3 719.9,349.4 720.0,350.5 720.1,351.4 720.4,350.3 720.6,349.6 720.9,349.0 721.1,350.4 721.4,349.8 721.6,347.4 721.9,348.3 722.3,346.0 722.8,346.1 723.2,347.0 723.7,344.1 723.7,343.9 723.8,345.7 723.9,346.3 723.9,347.2 724.0,348.0 724.0,348.6 724.1,349.5 724.1,350.0 724.2,350.4 724.3,351.1 724.3,351.3 724.4,351.9 724.4,352.4 724.5,353.4 724.6,353.7 724.6,354.2 724.6,354.7 724.7,355.6 724.7,356.2 724.8,356.8 724.8,357.3 724.9,358.0 724.9,358.7 724.9,359.1 725.0,360.1 725.0,360.5 725.1,361.1 725.1,361.4 725.2,362.0 725.2,362.7 725.2,363.5 725.3,364.0 725.3,364.6 725.4,365.0 725.4,365.9 725.5,366.3 725.6,366.6 725.8,367.2 725.9,367.6 726.0,368.7 726.2,370.2 726.3,369.8 726.5,370.3 726.6,371.2 726.8,371.0 726.9,370.5 727.1,373.2 727.2,374.1 727.5,375.5 727.7,375.2 728.0,374.8 728.3,376.8 728.5,375.2 728.8,376.7 729.0,376.9 729.3,376.8 729.5,377.4 729.8,378.9 730.0,379.3 730.3,381.6 730.5,381.9 730.8,380.9 731.1,380.3 731.3,378.6 731.6,378.7 731.8,377.6 732.1,377.4 732.3,377.8 732.6,376.6 732.7,375.3 732.9,374.9 733.0,374.8 733.2,374.0 733.3,374.5 733.5,373.8 733.6,372.6 733.8,371.9 733.9,371.3 734.1,370.6 734.2,369.9 734.4,369.5 734.5,368.8 734.7,368.7 734.8,369.0 735.0,367.0 735.1,365.8 735.3,365.3 735.4,365.1 735.6,364.2 735.7,364.1 735.9,363.6 736.0,363.6 736.1,363.2 736.3,361.5 736.4,361.0 736.6,361.9 736.7,361.0 736.9,359.9 737.0,359.0 737.2,358.0 737.3,357.0 737.5,357.1 737.6,356.0 737.8,355.4 737.9,355.1 738.1,355.1 738.2,354.5 738.3,353.7 738.4,352.5 738.5,352.2 738.6,352.0 738.8,350.5 738.9,350.5 739.0,350.6 739.1,349.9 739.2,349.2 739.4,347.6 739.5,346.5 739.6,346.7 739.7,346.5 740.0,347.2 740.2,347.1 740.5,345.9 740.7,345.1 741.0,345.7 741.2,343.4 741.5,342.4 741.8,342.8 742.0,343.4 742.3,345.1 742.5,344.0 742.8,345.6 743.0,345.4 743.3,346.9 743.5,347.6 743.8,345.5 744.0,346.5 744.3,348.3 744.6,348.4 744.8,350.0 745.1,352.3 745.3,352.0 745.6,351.2 745.8,351.2 746.1,353.7 746.3,353.6 746.6,353.6 746.8,354.4 747.1,356.0 747.4,356.0 747.6,356.4 747.9,355.6 748.2,354.4 748.4,357.3 748.7,357.8 749.0,356.4 749.3,359.7 749.5,359.1 749.8,360.2 750.1,360.2 750.3,361.2 750.6,359.6 750.9,359.4 751.1,362.2 751.4,364.0 751.7,363.6 751.9,363.9 752.2,365.3 752.5,365.8 752.7,366.0 753.0,364.9 753.3,367.7 753.5,367.9 753.8,368.2 754.1,369.5 754.3,368.8 754.6,371.1 754.9,370.0 755.2,370.2 755.6,371.0 756.0,371.5 756.4,372.0 756.8,371.1 757.2,371.2 757.5,374.0 758.1,371.7 758.6,372.4 759.1,375.0 759.7,376.3 760.2,375.5 760.6,376.4 761.0,377.1 761.4,377.8 761.7,378.8 762.1,380.2 762.5,377.9 762.9,378.3 763.1,379.5 763.3,379.2 763.5,379.4 763.7,380.2 763.9,380.3 764.1,380.8 764.3,381.0 764.5,383.4 764.7,383.2 764.9,383.4 765.2,383.7 765.4,386.9 765.6,387.0 765.8,385.8 766.0,387.0 766.3,388.4 766.5,389.9 766.8,390.1 767.0,388.9 767.3,389.9 767.5,391.0 767.7,390.2 768.0,392.0 768.2,393.9 768.5,391.7 768.7,390.5 769.0,390.1 769.3,391.4 769.5,391.9 769.8,388.5 770.0,387.5 770.1,388.0 770.2,389.3 770.3,389.6 770.4,390.5 770.5,390.6 770.6,391.7 770.7,392.4 770.8,392.6 770.9,393.4 771.0,394.2 771.1,394.4 771.2,395.1 771.3,396.1 771.4,396.6 771.5,397.5 771.6,397.9 771.7,398.4 771.8,399.0 772.1,400.4 772.3,401.1 772.6,400.3 772.8,402.1 773.1,403.1 773.3,403.1 773.6,402.3 773.9,401.9 774.1,400.5 774.4,399.0 774.7,400.2 774.9,399.3 775.2,399.0 775.5,399.2 775.7,399.7 776.0,396.9 776.3,397.7 776.5,399.7 776.7,399.5 776.9,397.7 777.0,399.4 777.2,398.8 777.4,400.0 777.6,401.0 777.8,400.9 778.0,402.2 778.3,402.3 778.5,403.4 778.7,404.1 778.9,405.0 779.2,407.3 779.4,407.1 779.6,406.6 779.8,406.2 780.2,407.1 780.6,406.4 781.0,406.8 781.3,406.8 781.7,407.2 782.1,405.9 782.5,404.1 783.0,403.6 783.6,403.3 784.1,402.0 784.6,402.8 785.2,401.1 785.6,402.4 786.1,403.8 786.5,402.5 787.0,403.6 787.1,403.8 787.3,404.7 787.4,405.9 787.6,406.8 787.8,407.0 787.9,407.3 788.1,408.3 788.2,408.2 788.4,409.6 788.6,410.8 788.7,411.4 789.0,409.7 789.2,411.4 789.4,412.2 789.6,413.3 789.8,413.5 790.1,414.9 790.3,414.9 790.5,414.0 790.8,415.6 791.1,416.0 791.4,416.0 791.7,416.8 792.0,417.2 792.3,418.7 792.6,419.3 792.9,419.7 793.2,419.2 793.3,420.5 793.4,420.3 793.6,420.9 793.7,421.9 793.8,422.9 794.0,423.4 794.1,423.7 794.2,425.2 794.3,424.6 794.5,425.6 794.6,426.3 794.7,426.2 794.8,426.7 795.0,427.2 795.0,427.7 795.1,428.3 795.1,429.4 795.2,429.8 795.3,430.4 795.3,431.0 795.4,431.7 795.4,432.4 795.5,433.3 795.5,433.4 795.6,434.2 795.6,434.7 795.7,435.2 795.8,436.0 795.8,436.8 795.9,437.4 796.0,437.6 796.1,438.0 796.2,438.9 796.3,439.7 796.4,439.9 796.5,440.1 796.6,439.5 796.8,442.6 796.8,441.9 796.8,440.7 796.9,440.3 796.9,439.5 796.9,438.8 797.0,438.1 797.0,437.6 797.1,437.1 797.1,436.5 797.1,435.9 797.2,435.2 797.2,434.5 797.2,433.9 797.3,433.4 797.3,432.9 797.3,432.4 797.4,431.7 797.4,431.1 797.5,430.3 797.5,429.8 797.5,429.2 797.6,428.6 797.6,428.1 797.6,427.3 797.7,426.6 797.7,426.2 797.7,425.7 797.8,425.1 797.8,424.5 797.8,423.7 797.9,423.1 797.9,422.6 797.9,422.2 797.9,421.4 798.0,420.7 798.0,420.2 798.0,419.7 798.1,419.0 798.1,418.5 798.1,418.0 798.2,417.4 798.2,416.8 798.2,416.3 798.2,415.5 798.3,414.9 798.3,414.1 798.3,413.6 798.4,413.2 798.4,412.5 798.4,412.1 798.4,411.5 798.5,410.8 798.5,410.7 798.5,410.3 798.6,410.0 798.7,410.6 798.8,411.6 798.9,412.5 799.0,412.5 799.0,413.1 799.1,414.1 799.2,414.4 799.3,414.6 799.4,415.2 799.5,415.5 799.5,416.5 799.6,417.7 799.7,417.8 799.8,418.5 799.9,418.8 800.0,419.8 800.1,419.5 800.3,420.1 800.4,420.8 800.5,422.1 800.6,422.8 800.7,423.1 800.9,424.0 801.0,424.5 801.1,424.3 801.2,424.1 801.3,424.9 801.4,424.7 801.4,423.9 801.5,423.3 801.6,422.3 801.7,421.9 801.7,421.6 801.8,420.6 801.9,419.9 802.0,419.5 802.0,419.0 802.1,418.3 802.2,418.0 802.3,417.4 802.3,416.7 802.4,416.0 802.5,415.5 802.5,414.8 802.6,413.7 802.7,412.9 802.8,412.6 802.8,412.8 802.9,412.3 803.0,411.6 803.2,411.1 803.3,409.9 803.5,409.7 803.6,409.5 803.8,408.9 804.0,407.9 804.1,407.2 804.3,406.5 804.5,406.2 804.6,405.9 804.8,406.8 804.9,405.7 805.0,406.3 805.2,407.0 805.3,407.2 805.4,406.7 805.6,408.5 805.7,408.8 805.8,410.6 805.9,410.6 806.1,411.4 806.2,411.6 806.3,412.3 806.4,412.9 806.5,412.9 806.6,412.7 806.7,413.8 806.8,414.8 806.9,416.0 807.0,416.2 807.1,416.5 807.2,416.7 807.3,415.7 807.5,415.3 807.5,416.9 807.6,416.4 807.6,416.7 807.7,416.1 807.7,415.4 807.8,414.8 807.8,414.1 807.9,413.6 807.9,413.0 808.0,412.2 808.0,412.0 808.1,411.1 808.1,410.4 808.2,409.9 808.2,409.4 808.3,408.7 808.3,408.2 808.4,407.9 808.4,407.2 808.5,406.3 808.5,405.7 808.6,405.1 808.6,404.7 808.7,404.3 808.9,403.2 809.0,402.6 809.2,401.9 809.3,402.2 809.5,401.1 809.6,399.8 809.8,399.4 810.0,398.8 810.1,400.2 810.8,399.2 811.5,396.9 812.1,397.1 812.8,398.8 813.1,398.5 813.3,396.6 813.6,395.7 813.8,395.9 814.1,396.4 814.3,395.5 814.6,395.8 814.7,394.9 814.8,393.6 815.0,392.6 815.1,392.7 815.2,392.8 815.3,392.1 815.5,391.3 815.6,391.0 815.7,389.4 815.9,388.2 816.0,388.2 816.1,387.8 816.2,388.1 816.4,388.7 816.5,389.1 816.5,389.8 816.6,389.6 816.7,390.1 816.8,390.1 816.9,390.4 817.0,391.3 817.1,391.2 817.2,392.0 817.3,393.1 817.3,393.7 817.4,394.2 817.5,395.2 817.6,394.8 817.8,395.2 817.9,395.9 818.1,396.9 818.2,397.2 818.4,398.7 818.6,399.8 818.7,400.7 818.9,398.6 819.0,400.2 819.5,399.1 819.9,396.9 820.4,398.2 820.8,397.5 821.1,397.5 821.3,397.0 821.6,397.3 821.8,395.8 822.1,395.3 822.3,396.1 822.6,394.2 822.7,395.5 822.8,396.5 822.9,396.9 823.0,397.8 823.1,398.8 823.2,399.1 823.3,399.3 823.4,399.8 823.5,401.3 823.6,401.7 823.7,402.0 823.8,402.7 823.9,403.0 824.0,403.1 824.1,404.6 824.2,405.0 824.3,407.0 824.4,404.4 824.6,403.6 824.8,404.7 825.0,405.2 825.2,404.6 825.4,402.8 825.6,401.9 825.8,402.1 826.0,400.9 826.2,400.8 826.6,401.4 827.1,400.8 827.5,400.3 828.0,400.2 828.0,399.2 828.1,397.6 828.2,396.8 828.3,396.1 828.4,395.5 828.5,395.4 828.5,395.1 828.6,394.4 828.7,393.4 828.8,392.7 828.9,392.2 829.0,391.9 829.1,391.3 829.1,390.8 829.2,389.9 829.3,389.1 829.4,388.9 829.5,388.1 829.6,388.0 829.6,387.1 829.7,386.7 829.8,385.6 829.9,384.9 830.0,384.3 830.0,383.6 830.1,383.0 830.2,382.3 830.3,382.0 830.3,381.4 830.4,381.0 830.5,380.9 830.5,380.4 830.6,379.6 830.7,378.6 830.8,378.2 830.8,378.1 830.9,377.2 831.0,376.3 831.1,375.7 831.1,375.5 831.2,374.9 831.3,373.6 831.4,372.5 831.4,372.2 831.5,371.8 831.7,370.4 831.8,370.4 832.0,370.1 832.1,368.9 832.3,369.3 832.4,367.9 832.6,367.8 832.7,366.9 832.9,366.5 833.0,366.5 833.1,365.7 833.3,365.7 833.6,364.4 833.8,362.6 834.1,363.3 834.3,363.5 834.6,362.9 834.8,360.8 835.1,361.4 835.3,360.6 835.5,360.4 835.7,359.4 836.0,358.4 836.2,358.7 836.4,358.1 836.6,356.2 836.9,357.0 837.2,355.9 837.6,355.8 837.9,355.5 838.3,357.2 838.6,356.4 838.9,354.0 839.2,354.2 839.4,354.8 839.7,354.7 839.9,355.7 840.2,357.0 840.4,357.8 840.5,358.2 840.7,359.1 840.8,359.7 840.9,359.9 841.0,361.1 841.1,361.5 841.3,362.6 841.4,363.1 841.5,363.4 841.6,364.1 841.7,365.0 841.9,365.6 842.0,366.1 842.1,366.4 842.2,366.7 842.3,367.6 842.5,367.5 842.6,367.8 842.7,368.6 842.8,369.0 843.0,369.7 843.1,370.0 843.2,371.1 843.4,371.9 843.5,371.9 843.6,372.8 843.7,372.9 843.9,374.0 844.0,372.7 844.3,374.8 844.7,374.2 845.1,373.7 845.4,370.7 845.8,372.4 846.0,372.5 846.2,373.1 846.4,373.7 846.6,374.2 846.8,374.9 847.0,375.3 847.2,376.1 847.4,377.7 847.6,377.8 847.8,376.7 848.0,377.1 848.2,378.8 848.4,380.4 848.5,381.8 848.7,381.4 848.9,382.0 849.1,381.5 849.3,383.1 849.6,383.0 849.9,384.5 850.1,384.7 850.4,386.2 850.7,385.5 850.9,385.5 851.2,385.3 851.5,386.8 851.7,386.8 852.0,387.6 852.2,388.4 852.5,388.7 852.7,389.3 852.9,390.4 853.1,391.8 853.4,392.8 853.6,390.7 853.8,392.5 854.2,391.6 854.5,391.2 854.9,390.8 855.2,390.7 855.6,389.8 855.7,388.7 855.8,388.2 855.9,387.7 856.1,386.7 856.2,386.1 856.3,386.1 856.4,385.8 856.5,384.8 856.6,384.6 856.8,383.1 856.9,382.9 857.0,382.1 857.1,381.7 857.2,381.8 857.4,381.1 857.5,380.0 857.6,380.2 857.6,379.4 857.7,379.3 857.8,378.3 857.9,377.2 858.0,376.5 858.1,376.3 858.2,376.0 858.3,375.2 858.4,374.5 858.5,374.1 858.6,373.3 858.7,372.5 858.8,371.4 858.9,373.6 858.9,373.2 859.0,373.8 859.1,374.2 859.1,375.1 859.2,375.8 859.3,376.6 859.3,376.9 859.4,377.5 859.5,378.0 859.6,378.7 859.6,379.5 859.7,379.8 859.8,380.6 859.8,381.3 859.9,381.6 860.0,382.1 860.0,382.5 860.1,383.5 860.2,383.8 860.3,384.6 860.3,384.8 860.4,385.6 860.5,386.2 860.6,387.0 860.6,387.6 860.7,387.9 860.8,388.6 860.9,389.1 860.9,389.8 861.0,390.5 861.1,391.0 861.1,392.2 861.2,392.4 861.3,392.8 861.4,393.5 861.4,393.9 861.5,394.6 861.6,395.1 861.7,395.6 861.7,396.7 861.8,397.4 861.9,397.4 862.1,397.3 862.2,398.8 862.3,399.9 862.5,400.8 862.6,400.4 862.7,401.7 862.8,402.1 863.0,402.5 863.1,403.3 863.2,403.8 863.3,404.6 863.5,404.3 863.6,405.5 863.8,404.4 863.9,404.1 864.1,404.0 864.2,403.1 864.4,402.4 864.6,402.1 864.7,400.2 864.9,400.9 865.1,400.5 865.2,400.0 865.4,398.7 865.5,398.0 865.6,397.7 865.7,397.6 865.8,397.1 865.9,395.9 866.0,395.8 866.1,394.7 866.2,393.8 866.3,393.7 866.4,393.0 866.5,392.2 866.6,391.8 866.7,390.9 866.8,390.1 866.9,390.4 867.0,389.9 867.1,390.3 867.2,387.5 867.3,389.4 867.5,389.3 867.6,390.4 867.8,389.8 868.0,391.6 868.1,391.9 868.3,391.9 868.4,392.3 868.6,394.3 868.8,394.4 868.9,394.8 869.1,395.5 869.2,396.0 869.4,397.0 869.6,397.9 869.7,397.0 869.9,398.0 870.1,397.7 870.2,396.7 870.4,398.9 870.5,396.5 870.7,398.3 870.9,398.3 871.0,397.8 871.2,395.9 871.3,395.8 871.5,395.5 871.7,394.9 871.8,394.8 872.0,393.3 872.2,393.7 872.4,393.2 872.7,391.6 872.9,392.2 873.2,392.3 873.4,391.7 873.7,392.7 873.9,390.5 874.1,391.2 874.3,389.2 874.5,390.6 874.7,391.6 874.9,391.5 875.1,393.2 875.3,394.6 875.5,395.1 875.7,396.5 875.9,396.2 876.0,396.1 876.2,397.8 876.3,398.5 876.5,398.6 876.6,399.1 876.8,399.7 876.9,400.0 877.1,400.2 877.2,400.6 877.4,402.3 877.5,403.3 877.8,403.8 878.0,404.5 878.3,404.9 878.5,407.0 878.8,407.1 879.0,408.0 879.3,406.8 879.8,407.2 880.3,407.6 880.8,408.0 881.3,406.5 881.8,407.8 882.0,409.2 882.2,409.6 882.4,408.5 882.6,409.5 882.8,411.4 883.0,411.2 883.2,411.2 883.4,411.6 883.7,411.8 883.9,411.7 884.1,412.7 884.3,413.7 884.5,413.6 884.7,413.9 884.9,416.7 885.1,416.8 885.3,418.3 885.5,418.5 885.8,419.6 886.0,420.4 886.2,420.8 886.4,421.7 886.6,422.6 886.8,422.5 887.0,421.6 887.2,423.3 887.4,422.0 887.6,424.0 888.0,423.2 888.4,424.7 888.8,424.1 889.1,425.1 889.5,427.7 889.9,427.7 890.2,425.9 890.6,426.4 891.1,426.4 891.6,429.0 892.1,429.6 892.5,425.7 892.6,426.4 892.7,426.1 892.7,426.2 892.8,425.9 892.9,425.3 892.9,424.9 893.0,424.2 893.1,423.8 893.1,423.1 893.2,422.4 893.3,421.7 893.3,421.2 893.4,421.0 893.5,420.4 893.5,419.6 893.6,418.9 893.7,418.1 893.7,417.9 893.8,417.2 893.9,416.5 893.9,416.0 893.9,415.4 894.0,414.7 894.0,414.1 894.0,413.6 894.0,412.7 894.0,412.2 894.1,411.6 894.1,411.0 894.1,410.3 894.1,409.7 894.2,409.2 894.2,408.6 894.2,408.0 894.2,407.4 894.2,406.9 894.3,406.4 894.3,405.8 894.3,405.2 894.3,404.5 894.3,403.9 894.4,403.5 894.4,402.8 894.4,402.2 894.4,401.4 894.5,400.8 894.5,400.3 894.5,399.8 894.5,399.2 894.5,398.6 894.6,398.0 894.6,397.4 894.6,396.7 894.6,396.1 894.6,395.7 894.7,395.0 894.7,394.4 894.7,393.6 894.7,393.1 894.8,392.5 894.8,392.0 894.8,391.3 894.8,390.7 894.8,390.0 894.9,389.6 894.9,389.1 894.9,388.4 894.9,387.9 894.9,387.3 894.9,386.6 894.9,386.0 894.9,385.4 895.0,384.8 895.0,384.2 895.0,383.6 895.0,383.0 895.0,382.4 895.0,381.8 895.0,381.2 895.0,380.6 895.0,380.0 895.0,379.3 895.0,378.8 895.1,378.2 895.1,377.6 895.1,376.9 895.1,376.4 895.1,375.8 895.1,375.3 895.1,374.6 895.1,374.0 895.1,373.3 895.1,372.7 895.1,372.1 895.2,371.5 895.2,370.9 895.2,370.3 895.2,369.7 895.2,369.1 895.2,368.5 895.2,367.9 895.2,367.3 895.2,366.7 895.2,366.1 895.2,365.5 895.3,364.9 895.3,364.2 895.3,363.7 895.3,363.1 895.3,362.5 895.3,361.9 895.3,361.3 895.3,360.7 895.3,360.1 895.3,359.5 895.3,358.9 895.4,358.3 895.4,357.7 895.4,357.1 895.4,356.4 895.4,355.8 895.4,355.3 895.4,354.7 895.4,354.0 895.4,353.4 895.4,352.8 895.4,352.2 895.5,351.7 895.5,351.0 895.5,350.4 895.5,349.9 895.5,349.3 895.5,348.6 895.5,348.0 895.5,347.4 895.5,346.8 895.6,346.2 895.6,345.6 895.6,345.0 895.6,344.4 895.6,343.8 895.6,343.2 895.6,342.6 895.6,342.0 895.6,341.4 895.7,340.8 895.7,340.2 895.7,339.5 895.7,338.9 895.7,338.4 895.7,337.8 895.7,337.2 895.7,336.5 895.8,335.9 895.8,335.3 895.8,334.7 895.8,334.1 895.8,333.5 895.8,332.9 895.8,332.3 895.8,331.7 895.9,331.1 895.9,330.5 895.9,329.9 895.9,329.3 895.9,328.7 895.9,328.1 895.9,327.5 895.9,326.9 895.9,326.3 896.0,325.7 896.0,325.1 896.0,324.5 896.0,323.9 896.0,323.3 896.0,322.7 896.0,322.1 896.0,321.5 896.1,320.9 896.1,320.2 896.1,319.7 896.1,319.1 896.1,318.4 896.1,317.9 896.1,317.3 896.1,316.7 896.2,316.1 896.2,315.4 896.2,314.8 896.2,314.2 896.2,313.6 896.2,313.1 896.2,312.4 896.2,311.8 896.3,311.2 896.3,310.6 896.3,310.0 896.3,309.4 896.3,308.7 896.4,308.2 896.4,307.4 896.4,306.9 896.5,306.1 896.5,305.7 896.5,305.2 896.6,304.5 896.6,303.9 896.6,303.3 896.6,302.7 896.7,302.1 896.7,301.3 896.7,300.9 896.8,300.4 896.8,299.7 896.8,299.0 896.9,298.5 896.9,297.9 896.9,297.2 896.9,296.6 896.9,296.0 896.9,295.4 896.9,294.8 896.9,294.2 896.9,293.6 896.9,293.0 896.9,292.4 896.9,291.8 896.9,291.2 896.9,290.6 896.9,290.0 896.9,289.4 896.9,288.8 896.9,288.2 896.9,287.6 896.9,287.0 896.9,286.4 897.0,285.8 897.0,285.2 897.0,284.6 897.0,284.0 897.0,283.4 897.0,282.8 897.0,282.2 897.0,281.6 897.0,281.0 897.0,280.4 897.0,279.8 897.0,279.2 897.0,278.6 897.0,278.0 897.0,277.4 897.0,276.8 897.0,276.2 897.0,275.6 897.0,275.0 897.0,274.4 897.0,273.8 897.0,273.2 897.0,272.6 897.0,272.0 897.1,271.4 897.1,270.8 897.1,269.6 897.1,270.9 897.1,271.5 897.1,272.0 897.1,272.6 897.1,273.2 897.1,273.8 897.1,274.4 897.1,275.0 897.1,275.6 897.1,276.2 897.2,276.8 897.2,277.4 897.2,278.0 897.2,278.6 897.2,279.2 897.2,279.8 897.2,280.4 897.2,281.0 897.2,281.6 897.2,282.2 897.2,282.8 897.2,283.4 897.3,284.0 897.3,284.6 897.3,285.2 897.3,285.8 897.3,286.4 897.3,287.0 897.3,287.6 897.3,288.2 897.3,288.8 897.3,289.4 897.3,290.0 897.3,290.6 897.4,291.2 897.4,291.8 897.4,292.4 897.4,293.1 897.4,293.6 897.4,294.3 897.4,294.9 897.4,295.5 897.4,296.0 897.4,296.6 897.4,297.2 897.4,297.9 897.5,298.4 897.5,299.0 897.5,299.7 897.5,300.2 897.5,300.8 897.6,301.5 897.6,302.1 897.6,302.6 897.6,303.2 897.6,303.9 897.7,304.5 897.7,305.1 897.7,305.7 897.7,306.4 897.7,306.9 897.8,307.4 897.8,308.1 897.8,308.8 897.8,309.4 897.8,310.0 897.9,310.7 897.9,311.3 897.9,311.8 897.9,312.4 898.0,312.9 898.0,313.6 898.0,314.1 898.0,314.8 898.1,315.3 898.1,316.0 898.1,316.6 898.1,317.2 898.2,317.8 898.2,318.4 898.2,319.0 898.2,319.7 898.2,320.3 898.3,321.0 898.3,321.4 898.3,322.0 898.3,322.5 898.4,323.0 898.4,323.6 898.4,324.2 898.4,324.9 898.5,325.5 898.5,325.9 898.5,326.6 898.5,327.2 898.6,327.9 898.6,328.5 898.6,328.9 898.6,329.6 898.7,330.2 898.7,330.9 898.7,331.4 898.7,331.9 898.7,332.7 898.8,333.3 898.8,333.8 898.8,334.4 898.8,335.1 898.9,335.6 898.9,336.0 898.9,336.6 898.9,337.3 899.0,337.9 899.0,338.5 899.0,339.1 899.0,339.8 899.1,340.3 899.1,340.9 899.1,341.4 899.1,342.0 899.2,342.6 899.2,343.3 899.2,343.8 899.2,344.4 899.2,345.0 899.3,345.5 899.3,346.0 899.3,346.6 899.3,347.2 899.4,347.7 899.4,348.3 899.4,349.1 899.5,349.5 899.7,350.1 899.8,350.7 899.9,351.6 900.0,352.5 900.1,353.0 900.3,353.5 900.4,353.7 900.5,354.7 900.6,355.1 900.7,355.7 900.9,355.7 901.0,356.6 901.2,357.8 901.4,357.9 901.6,358.8 901.8,358.8 902.0,359.6 902.2,360.0 902.4,361.7 902.4,361.9 902.5,361.9 902.6,362.7 902.6,362.8 902.7,363.8 902.8,364.6 902.8,364.5 902.9,365.7 903.0,366.0 903.0,366.6 903.1,367.1 903.2,367.9 903.2,368.6 903.3,369.1 903.4,369.7 903.5,370.5 903.5,371.3 903.6,371.6 903.7,372.2 903.7,372.8 903.8,373.2 903.8,373.6 903.9,374.7 904.0,375.2 904.0,375.7 904.1,376.1 904.1,377.3 904.2,378.0 904.3,378.9 904.3,378.8 904.4,379.3 904.4,380.0 904.5,380.8 904.6,381.3 904.6,382.0 904.7,382.6 904.8,382.9 904.8,383.6 904.9,384.0 904.9,384.8 905.0,385.3 905.1,385.9 905.1,386.5 905.2,387.1 905.2,387.9 905.3,387.6 905.4,388.3 905.5,389.2 905.7,389.4 905.8,390.6 905.9,391.2 906.0,391.5 906.1,392.6 906.3,393.5 906.4,394.5 906.5,394.4 906.6,396.4 906.7,397.8 906.9,396.5 907.1,395.6 907.3,394.4 907.5,394.8 907.8,393.9 908.0,393.3 908.2,394.2 908.4,391.5 908.6,393.0 908.8,392.6 909.0,394.1 909.2,395.3 909.4,395.8 909.6,396.1 909.8,396.7 909.9,396.2 909.9,396.9 910.0,398.1 910.0,398.8 910.1,399.6 910.2,399.8 910.2,400.6 910.3,400.9 910.3,401.8 910.4,402.4 910.5,403.0 910.5,403.5 910.6,404.3 910.6,404.7 910.7,405.2 910.8,405.8 910.8,406.5 910.9,407.2 910.9,407.6 911.0,408.6 911.1,409.2 911.1,409.3 911.2,410.2 911.3,410.6 911.4,412.0 911.5,411.9 911.6,412.9 911.8,413.3 911.9,413.7 912.0,414.2 912.1,413.5 912.2,414.5 912.3,415.3 912.4,416.0 912.6,416.4 912.7,417.4 912.8,418.0 912.9,419.5 913.0,419.9 913.1,420.2 913.3,420.5 913.4,421.6 913.5,422.8 913.6,422.5 913.7,423.3 913.8,423.1 913.9,423.7 914.1,425.2 914.2,425.7 914.3,426.1 914.4,426.7 914.5,427.2 914.6,427.5 914.8,428.5 914.9,428.6 915.0,428.7 915.1,429.6 915.2,430.3 915.2,430.6 915.3,431.6 915.3,431.8 915.4,432.8 915.5,433.4 915.5,433.7 915.6,434.2 915.6,434.9 915.7,435.5 915.8,436.2 915.8,436.9 915.9,437.3 916.0,437.7 916.0,438.3 916.1,439.3 916.2,439.5 916.2,440.3 916.3,440.9 916.4,441.1 916.5,441.9 916.5,442.5 916.6,443.3 916.7,444.5 916.8,445.1 916.9,445.2 916.9,445.3 917.0,446.2 917.1,446.5 917.2,447.4 917.3,447.8 917.3,448.6 917.4,449.0 917.5,449.6 917.6,449.4 917.6,450.9 917.7,450.1 917.7,450.2 917.8,449.4 917.8,448.8 917.9,448.1 917.9,447.4 918.0,446.7 918.0,446.2 918.1,445.5 918.1,445.1 918.2,444.5 918.2,444.2 918.2,443.4 918.3,443.0 918.3,442.4 918.4,441.6 918.4,441.1 918.5,440.2 918.5,439.4 918.6,438.8 918.6,438.5 918.7,437.9 918.7,437.2 918.7,436.8 918.8,436.2 918.8,435.9 918.9,434.8 918.9,434.4 919.0,433.9 919.0,433.0 919.1,432.8 919.2,432.4 919.2,431.4 919.3,430.8 919.4,430.0 919.4,429.7 919.5,429.4 919.6,428.2 919.6,427.8 919.7,426.8 919.8,426.3 919.8,425.8 919.9,425.2 920.0,424.9 920.0,424.5 920.1,423.6 920.2,423.2 920.2,422.6 920.3,422.0 920.4,421.4 920.5,420.6 920.5,419.3 920.6,417.8 920.7,419.2 920.7,420.5 920.8,421.0 920.9,422.1 920.9,423.1 921.0,423.1 921.1,423.4 921.1,424.3 921.2,425.2 921.3,425.8 921.3,426.1 921.4,427.1 921.5,427.3 921.5,427.9 921.6,428.4 921.7,429.4 921.8,429.7 921.8,430.3 921.9,430.7 922.0,431.6 922.0,432.0 922.0,432.7 922.1,433.3 922.1,433.7 922.1,434.4 922.2,435.0 922.2,435.6 922.3,436.2 922.3,436.8 922.3,437.5 922.4,438.0 922.4,438.5 922.5,439.2 922.5,440.0 922.5,440.5 922.6,441.1 922.6,441.7 922.6,442.0 922.7,442.7 922.7,443.4 922.8,443.9 922.8,444.5 922.8,445.1 922.9,445.7 922.9,446.2 922.9,446.0 923.0,446.4 923.0,445.8 923.1,445.2 923.1,444.7 923.2,443.9 923.2,443.4 923.2,442.9 923.3,442.5 923.3,441.7 923.4,441.1 923.4,440.0 923.5,439.8 923.5,439.1 923.6,438.5 923.6,438.1 923.6,437.4 923.7,436.8 923.7,436.2 923.8,435.8 923.8,435.2 923.9,434.3 923.9,433.9 923.9,433.2 924.0,432.8 924.0,432.0 924.1,431.4 924.1,430.7 924.2,429.8 924.2,429.3 924.2,429.1 924.3,428.5 924.3,427.8 924.4,427.1 924.4,426.8 924.5,427.0 924.5,426.5 924.6,426.9 924.6,426.7 924.7,427.6 924.7,428.0 924.8,428.7 924.9,429.8 924.9,429.9 925.0,430.4 925.0,431.1 925.1,431.6 925.2,432.0 925.2,432.7 925.3,433.3 925.3,434.0 925.4,435.0 925.5,435.1 925.5,435.5 925.6,436.5 925.6,436.8 925.7,437.2 925.8,438.2 925.8,438.8 925.9,439.2 925.9,439.8 926.0,440.8 926.1,441.4 926.1,441.9 926.2,442.3 926.2,442.4 926.3,443.1 926.4,444.0 926.4,444.9 926.5,445.4 926.5,445.6 926.6,446.2 926.7,446.7 926.7,447.4 926.8,447.9 926.8,448.7 926.9,449.0 927.0,449.7 927.0,450.4 927.1,451.1 927.1,451.6 927.2,452.2 927.3,453.1 927.3,453.7 927.4,454.5 927.5,454.9 927.6,455.2 927.7,455.1 927.8,456.3 927.9,456.9 928.0,457.3 928.1,458.1 928.2,458.2 928.3,459.6 928.4,460.0 928.5,460.5 928.5,460.9 928.6,461.3 928.7,461.7 928.8,462.6 929.0,463.1 929.1,464.0 929.3,465.3 929.4,465.6 929.6,465.7 929.7,466.0 929.9,466.1 930.0,467.3 930.2,467.9 930.3,468.4 930.5,469.5 930.6,470.1 930.8,469.7 931.0,470.3 931.2,470.9 931.4,472.0 931.6,472.8 931.8,473.5 932.0,474.0 932.2,473.8 932.4,475.3 932.5,476.2 932.7,477.2 932.9,477.6 933.1,478.3 933.3,478.5 933.5,479.2 933.7,479.1 933.9,479.9 934.1,480.3 934.3,480.6 934.5,483.4 934.7,483.5 935.1,482.7 935.5,484.9 935.9,483.5 936.3,483.2 936.7,482.7 936.7,485.5 936.8,483.7 936.8,482.6 936.8,481.9 936.9,481.4 936.9,480.7 937.0,480.2 937.0,479.4 937.1,479.2 937.1,478.4 937.1,478.0 937.2,477.0 937.2,476.6 937.3,476.0 937.3,475.4 937.3,474.6 937.4,473.9 937.4,473.5 937.5,472.9 937.5,472.4 937.6,471.0 937.6,469.6 937.6,471.5 937.8,473.6 937.9,472.6 938.1,472.4 938.3,474.1 938.4,474.9 938.6,475.0 938.7,475.6 938.9,475.7 939.0,476.2 939.2,476.6 939.3,477.0 939.5,478.9 939.6,478.3 939.6,477.9 939.7,477.0 939.7,476.6 939.8,475.9 939.8,475.5 939.9,474.9 939.9,474.2 939.9,473.7 940.0,473.1 940.0,472.6 940.1,472.0 940.1,471.5 940.1,470.6 940.2,470.1 940.2,469.5 940.3,468.8 940.3,468.1 940.4,467.6 940.4,467.0 940.4,466.6 940.5,466.2 940.5,465.6 940.6,464.8 940.6,464.3 940.6,463.7 940.7,462.9 940.7,462.5 940.8,461.7 940.8,461.2 940.9,460.3 940.9,459.6 940.9,458.6 941.0,459.9 941.1,459.3 941.3,459.4 941.5,459.8 941.6,460.7 941.8,460.7 941.9,461.9 942.1,463.8 942.2,463.6 942.4,464.8 942.5,465.4 942.6,465.2 942.7,465.5 942.8,466.6 942.9,467.0 943.0,467.6 943.1,468.0 943.2,468.1 943.3,468.9 943.4,469.1 943.5,469.7 943.6,470.9 943.7,471.3 943.7,472.1 943.8,472.9 943.9,473.9 944.0,474.6 944.1,474.2 944.2,475.0 944.3,475.5 944.3,476.4 944.4,477.0 944.5,477.5 944.5,478.1 944.6,479.1 944.7,479.4 944.7,479.7 944.8,479.9 944.9,480.8 944.9,481.3 945.0,482.0 945.1,482.5 945.1,483.0 945.2,483.1 945.3,484.6 945.4,485.9 945.4,486.3 945.5,486.8 945.7,486.6 945.9,487.3 946.1,487.7 946.3,488.1 946.5,489.3 946.7,489.8 946.9,490.5 947.1,491.3 947.3,493.0 947.5,492.3 947.5,490.8 947.6,491.1 947.7,490.3 947.8,489.6 947.8,488.9 947.9,488.3 948.0,488.1 948.1,487.5 948.1,486.8 948.2,486.0 948.3,485.7 948.4,484.7 948.4,484.2 948.5,483.8 948.6,483.1 948.7,482.3 948.7,481.0 948.8,479.6 949.0,481.1 949.1,480.7 949.2,482.6 949.3,482.9 949.5,484.3 949.6,485.0 949.7,485.3 949.9,486.3 950.0,486.4 950.1,486.9 950.3,487.8 950.4,488.1 950.5,488.8 950.6,489.2 950.8,489.5 950.9,490.4 951.0,491.5 951.1,491.9 951.2,491.6 951.4,493.0 951.5,494.3 951.6,494.4 951.7,495.2 951.8,497.1 952.0,495.9 952.2,494.4 952.5,495.6 952.8,493.9 953.1,494.3 953.4,494.1 953.6,492.0 953.9,494.3 954.0,493.6 954.1,493.0 954.2,494.2 954.3,494.7 954.4,495.6 954.6,496.1 954.7,497.1 954.8,496.8 954.9,497.2 955.0,498.3 955.1,499.7 955.2,501.9 955.3,501.6 955.7,498.9 956.1,497.5 956.5,498.3 956.9,500.1 957.3,501.1 957.5,502.7 957.6,501.0 957.8,500.6 958.0,500.6 958.2,501.5 958.4,502.0 958.6,502.3 958.8,502.9 959.0,502.6 959.2,503.8 959.5,504.6 959.9,505.5 960.2,506.7 960.5,508.8 960.8,507.2 961.2,507.0 961.3,509.2 961.5,506.7 961.7,505.3 961.9,504.5 962.0,504.5 962.2,504.1 962.4,505.1 962.5,504.0 962.7,503.5 962.8,502.7 962.9,503.7 963.0,504.6 963.1,505.1 963.2,505.4 963.3,506.6 963.4,507.0 963.5,507.5 963.6,507.9 963.7,508.7 963.8,508.8 963.9,509.5 964.0,511.7 964.1,510.2 964.3,510.1 964.6,508.7 964.8,508.9 965.0,508.1 965.2,509.0 965.4,507.7 965.6,507.8 965.9,505.9 966.1,506.0 966.1,504.9 966.2,504.7 966.2,503.8 966.3,503.6 966.3,503.2 966.4,502.6 966.4,502.2 966.5,501.2 966.5,500.7 966.6,499.7 966.7,499.4 966.7,499.1 966.8,498.3 966.8,497.4 966.9,497.1 966.9,496.5 967.0,495.6 967.0,495.2 967.1,494.6 967.1,493.8 967.2,493.2 967.2,492.9 967.3,491.9 967.3,491.4 967.4,491.0 967.4,490.5 967.5,489.8 967.5,489.0 967.6,489.1 967.6,489.5 968.0,487.2 968.3,486.8 968.7,487.3 969.0,487.2 969.1,489.0 969.1,488.4 969.2,488.1 969.3,488.6 969.3,489.4 969.4,489.9 969.4,490.5 969.5,491.4 969.6,491.8 969.6,492.0 969.7,492.8 969.7,493.4 969.8,494.2 969.9,494.7 969.9,494.9 970.0,495.3 970.0,496.2 970.1,496.6 970.2,496.9 970.2,497.6 970.3,498.4 970.3,499.3 970.4,500.2 970.5,500.6 970.5,501.4 970.6,501.5 970.7,502.3 970.8,502.7 970.9,503.3 970.9,503.8 971.0,504.5 971.1,505.2 971.2,505.6 971.3,506.2 971.3,507.3 971.4,508.2 971.5,508.8 971.6,509.3 971.6,509.7 971.7,510.3 971.8,510.7 971.9,511.6 972.0,511.3 972.1,510.3 972.2,509.5 972.3,510.0 972.4,510.0 972.5,509.6 972.7,508.8 972.8,508.4 972.9,507.7 973.0,506.2 973.1,505.4 973.2,504.9 973.3,504.4 973.5,504.8 973.6,503.9 973.7,503.5 973.8,502.9 973.9,502.1 974.0,501.8 974.1,500.6 974.2,499.9 974.3,500.1 974.4,499.6 974.5,498.7 974.7,498.5 974.8,497.8 974.9,497.4 975.0,496.1 975.1,495.4 975.2,494.2 975.3,493.3 975.4,493.7 975.5,493.6 976.0,493.7 976.5,495.2 977.0,495.1 977.5,494.0 977.5,494.8 977.6,495.7 977.7,495.8 977.7,496.9 977.8,497.0 977.9,497.5 977.9,498.3 978.0,498.9 978.1,499.8 978.1,500.2 978.2,500.6 978.3,501.5 978.3,501.9 978.4,502.5 978.5,502.8 978.5,503.3 978.6,504.5 978.7,505.2 978.8,506.1 978.8,505.7 979.0,503.8 979.2,503.9 979.4,502.6 979.6,502.4 979.8,503.6 980.0,502.4 980.2,501.6 980.3,500.5 980.4,500.7 980.5,500.2 980.6,499.6 980.7,499.0 980.7,498.1 980.8,498.0 980.9,497.2 981.0,496.9 981.1,496.5 981.2,495.8 981.3,494.3 981.4,494.2 981.5,494.1 981.6,493.6 981.7,492.8 981.8,492.5 981.8,491.7 981.8,490.9 981.9,490.6 981.9,489.8 982.0,489.2 982.0,488.7 982.1,487.9 982.1,487.5 982.1,486.8 982.2,486.3 982.2,485.7 982.3,485.3 982.3,484.4 982.4,483.9 982.4,483.3 982.4,482.3 982.5,481.9 982.5,481.3 982.6,480.6 982.6,480.3 982.7,479.5 982.7,479.2 982.7,478.6 982.8,477.9 982.9,477.1 982.9,476.8 983.0,476.0 983.1,475.5 983.1,474.9 983.2,474.2 983.2,473.5 983.3,473.1 983.4,472.5 983.4,471.9 983.5,471.5 983.5,470.6 983.6,469.8 983.7,469.0 983.7,467.7 983.8,468.5 983.9,470.1 983.9,470.0 984.0,471.1 984.1,471.7 984.1,472.3 984.2,473.2 984.3,473.6 984.3,474.0 984.4,474.3 984.5,475.6 984.5,476.1 984.6,476.3 984.7,477.0 984.7,477.8 984.8,478.7 984.9,478.6 985.0,479.3 985.0,479.3 985.1,480.1 985.2,480.6 985.2,481.1 985.3,481.6 985.3,482.3 985.4,481.6 985.4,480.9 985.5,480.0 985.5,479.4 985.6,479.1 985.6,478.4 985.7,477.9 985.7,477.1 985.8,476.2 985.8,475.8 985.8,475.2 985.9,474.5 985.9,474.0 986.0,473.1 986.0,472.7 986.1,472.3 986.1,471.4 986.2,471.1 986.2,470.7 986.3,470.2 986.3,469.5 986.3,469.0 986.4,468.1 986.4,467.5 986.5,466.7 986.5,466.4 986.6,466.0 986.6,465.5 986.7,464.6 986.7,464.2 986.8,463.7 986.8,463.1 986.9,462.5 987.0,461.8 987.0,461.2 987.1,460.6 987.1,460.0 987.2,459.3 987.3,458.6 987.3,458.1 987.4,457.7 987.4,457.3 987.5,456.1 987.6,455.4 987.6,455.2 987.7,454.6 987.7,453.9 987.8,453.5 987.9,452.6 987.9,452.0 988.0,451.6 988.0,450.8 988.1,450.1 988.1,449.7 988.2,449.2 988.2,448.7 988.2,448.2 988.3,447.7 988.3,447.1 988.4,446.3 988.4,445.4 988.4,444.7 988.5,444.3 988.5,443.9 988.5,443.4 988.6,442.7 988.6,442.3 988.7,441.8 988.7,440.9 988.7,440.6 988.8,440.0 988.8,439.0 988.9,438.7 988.9,438.0 988.9,437.7 989.0,437.2 989.0,436.3 989.0,436.4 989.1,437.5 989.1,438.0 989.1,438.6 989.2,439.1 989.2,439.9 989.2,440.4 989.3,441.1 989.3,441.8 989.3,442.2 989.3,442.8 989.4,443.3 989.4,444.0 989.4,444.9 989.5,445.2 989.5,446.0 989.5,446.5 989.5,447.1 989.6,447.9 989.6,448.4 989.6,449.0 989.7,449.5 989.7,450.1 989.7,450.7 989.7,451.3 989.8,452.0 989.8,452.7 989.8,453.3 989.9,453.7 989.9,454.3 989.9,455.0 989.9,455.5 990.0,456.3 990.0,456.6 990.1,457.8 990.1,458.4 990.2,458.9 990.2,459.3 990.3,460.2 990.3,460.7 990.4,461.2 990.4,461.8 990.5,462.4 990.6,462.9 990.6,463.6 990.7,464.1 990.7,464.9 990.8,465.3 990.8,466.1 990.9,466.8 991.0,467.5 991.0,467.5 991.1,468.4 991.1,469.4 991.2,470.0 991.2,468.7 991.3,468.2 991.3,467.6 991.4,467.3 991.4,466.7 991.5,466.1 991.5,465.3 991.6,464.9 991.6,464.2 991.7,463.5 991.7,463.2 991.8,462.7 991.8,461.8 991.9,461.3 991.9,460.4 992.0,459.7 992.0,459.3 992.1,458.8 992.1,458.6 992.2,458.1 992.2,457.2 992.3,456.9 992.3,456.2 992.4,455.4 992.4,454.7 992.5,454.3 992.5,453.7 992.5,453.2 992.6,452.7 992.6,451.9 992.7,451.3 992.7,450.8 992.8,450.1 992.8,449.5 992.8,448.9 992.9,448.5 992.9,447.5 993.0,446.9 993.0,446.3 993.0,445.7 993.1,445.5 993.1,444.5 993.2,444.2 993.2,443.3 993.3,442.7 993.3,442.1 993.3,441.5 993.4,440.9 993.4,440.4 993.5,439.8 993.5,438.9 993.5,438.5 993.6,437.8 993.6,437.6 993.7,437.0 993.7,436.1 993.8,435.7 993.8,435.0 993.8,434.5 993.9,433.7 993.9,433.3 994.0,432.6 994.0,432.1 994.1,431.6 994.1,431.1 994.2,430.6 994.2,429.9 994.3,429.2 994.3,429.0 994.4,428.0 994.4,427.5 994.5,426.7 994.5,426.2 994.6,425.6 994.7,425.2 994.7,424.6 994.8,424.0 994.8,423.4 994.9,422.8 994.9,422.2 995.0,421.4 995.0,420.8 995.1,420.4 995.1,420.0 995.2,419.3 995.2,418.8 995.3,418.0 995.3,417.3 995.4,416.9 995.4,416.7 995.5,416.2 995.6,415.2 995.6,414.8 995.7,414.1 995.7,413.1 995.8,412.6 995.9,412.0 995.9,411.3 996.0,410.7 996.0,409.8 996.1,409.4 996.2,408.8 996.2,408.2 996.3,408.0 996.3,407.3 996.4,406.8 996.5,406.3 996.5,405.6 996.6,405.0 996.6,404.3 996.7,403.7 996.8,403.2 996.8,402.3 996.9,401.5 996.9,401.0 997.0,400.4 997.1,400.3 997.1,399.3 997.2,398.9 997.2,398.2 997.3,397.5 997.4,396.7 997.4,396.5 997.5,396.3 997.5,395.5 997.6,394.7 997.7,394.2 997.7,393.5 997.8,392.8 997.8,392.6 997.9,392.3 998.0,391.5 998.0,391.0 998.1,390.2 998.1,389.3 998.2,388.6 998.3,387.8 998.3,387.5 998.4,386.8 998.4,386.0 998.5,385.4 998.6,384.7 998.6,384.7 998.7,383.7 998.7,383.1 998.8,382.8 998.9,382.2 998.9,381.2 999.0,380.9 999.0,380.2 999.1,379.5 999.2,379.2 999.2,378.5 999.3,377.7 999.4,377.4 999.4,376.8 999.5,376.1 999.5,375.6 999.6,374.8 999.7,374.7 999.8,373.5 999.8,373.3 999.9,372.6 1000.0,371.9 1000.0,371.2 1000.1,370.3 1000.2,370.0 1000.2,369.5 1000.3,368.6 1000.4,368.3 1000.4,367.2 1000.5,366.6 1000.6,366.0 1000.6,365.9 1000.7,365.1 1000.8,364.6 1000.8,363.1 1000.9,362.2 1001.0,361.9 1001.4,362.0 1001.8,364.4 1002.2,364.5 1002.5,365.9 1002.9,367.2 1003.0,365.5 1003.1,365.9 1003.1,366.4 1003.2,367.1 1003.3,367.8 1003.4,368.7 1003.4,369.0 1003.5,369.6 1003.6,370.3 1003.6,371.2 1003.7,371.3 1003.8,372.2 1003.8,372.2 1003.9,372.9 1004.0,373.9 1004.0,374.5 1004.1,374.9 1004.2,375.5 1004.2,375.8 1004.3,376.7 1004.4,377.1 1004.5,378.0 1004.5,378.7 1004.6,379.3 1004.7,379.9 1004.7,379.8 1004.8,380.5 1004.9,381.0 1004.9,381.8 1005.0,382.4 1005.1,383.1 1005.1,383.7 1005.2,384.3 1005.3,385.0 1005.3,385.4 1005.4,385.9 1005.5,386.6 1005.5,387.1 1005.6,387.4 1005.7,388.2 1005.8,388.8 1005.8,389.3 1005.9,390.1 1006.0,390.8 1006.0,391.6 1006.1,392.4 1006.2,392.7 1006.2,393.0 1006.3,393.9 1006.4,394.3 1006.4,395.2 1006.5,395.7 1006.6,396.2 1006.6,396.9 1006.7,396.9 1006.8,397.7 1006.8,398.6 1006.9,399.6 1007.0,399.6 1007.1,400.2 1007.1,400.9 1007.2,400.2 1007.3,400.2 1007.3,401.6 1007.4,401.0 1007.5,400.6 1007.6,399.9 1007.7,399.4 1007.8,398.9 1007.9,398.0 1008.0,397.5 1008.1,396.6 1008.2,395.6 1008.3,395.3 1008.4,395.0 1008.5,395.0 1008.5,394.2 1008.6,394.0 1008.7,393.4 1008.8,392.2 1008.9,392.0 1008.9,391.4 1009.0,390.8 1009.0,390.1 1009.1,389.4 1009.1,389.1 1009.1,388.4 1009.2,387.9 1009.2,387.0 1009.3,386.7 1009.3,385.9 1009.4,385.2 1009.4,384.9 1009.5,384.4 1009.5,383.5 1009.6,382.8 1009.6,382.3 1009.6,381.6 1009.7,380.9 1009.7,380.4 1009.8,380.1 1009.8,379.6 1009.9,379.0 1009.9,378.2 1010.0,377.7 1010.0,377.0 1010.1,376.6 1010.1,376.0 1010.2,375.3 1010.2,374.9 1010.3,374.2 1010.3,373.4 1010.4,372.7 1010.5,372.5 1010.5,371.9 1010.6,371.1 1010.7,370.5 1010.7,370.3 1010.8,369.6 1010.9,368.7 1011.0,368.0 1011.0,367.8 1011.1,367.2 1011.2,366.4 1011.2,365.6 1011.3,365.4 1011.4,365.1 1011.4,364.4 1011.5,363.6 1011.6,362.9 1011.6,362.4 1011.7,362.0 1011.8,361.6 1011.8,360.4 1011.9,359.6 1012.0,359.1 1012.0,358.8 1012.1,358.1 1012.2,357.6 1012.3,357.1 1012.3,356.6 1012.4,355.7 1012.5,354.8 1012.5,354.3 1012.6,353.9 1012.7,353.4 1012.7,352.7 1012.8,351.9 1012.9,351.7 1012.9,351.4 1013.0,350.5 1013.1,349.3 1013.1,349.4 1013.2,348.8 1013.2,347.9 1013.3,347.4 1013.3,346.7 1013.4,346.3 1013.4,345.5 1013.4,345.2 1013.5,344.3 1013.5,343.5 1013.6,342.9 1013.6,342.6 1013.7,342.1 1013.7,341.7 1013.7,340.8 1013.8,340.3 1013.8,339.9 1013.9,339.2 1013.9,338.3 1014.0,337.7 1014.0,337.4 1014.1,336.8 1014.1,336.2 1014.1,335.5 1014.2,334.9 1014.2,334.1 1014.3,333.4 1014.3,332.7 1014.4,332.3 1014.4,331.7 1014.4,331.3 1014.5,330.8 1014.5,330.3 1014.6,329.5 1014.6,328.8 1014.7,328.2 1014.7,327.8 1014.7,327.3 1014.8,326.6 1014.8,326.1 1014.9,325.5 1014.9,324.8 1014.9,324.0 1015.0,323.5 1015.0,323.0 1015.1,322.4 1015.1,321.7 1015.1,321.4 1015.2,320.6 1015.2,319.9 1015.3,319.4 1015.3,319.0 1015.3,318.2 1015.4,317.5 1015.4,317.0 1015.5,316.4 1015.5,315.6 1015.5,315.2 1015.6,314.7 1015.7,314.1 1015.7,313.5 1015.8,313.2 1015.8,312.5 1015.9,311.9 1016.0,311.3 1016.0,310.6 1016.1,310.0 1016.1,309.2 1016.1,308.7 1016.1,308.1 1016.1,307.5 1016.1,306.4 1016.1,304.4 1016.2,306.3 1016.2,307.3 1016.3,307.7 1016.4,308.4 1016.5,308.9 1016.5,309.6 1016.6,310.4 1016.7,310.8 1016.8,311.9 1016.8,312.7 1016.9,312.8 1017.0,313.6 1017.1,314.3 1017.1,314.3 1017.2,315.0 1017.3,316.1 1017.4,316.7 1017.4,317.5 1017.5,317.7 1017.6,318.1 1017.7,318.9 1017.7,319.3 1017.8,320.3 1017.9,320.8 1018.0,321.1 1018.0,321.6 1018.1,322.5 1018.1,322.7 1018.2,323.2 1018.2,323.9 1018.3,324.8 1018.3,325.3 1018.4,326.2 1018.4,326.7 1018.5,327.3 1018.5,327.9 1018.5,328.5 1018.6,329.2 1018.6,329.9 1018.7,330.3 1018.7,330.5 1018.8,331.0 1018.8,331.8 1018.9,332.2 1018.9,333.1 1019.0,333.9 1019.0,334.1 1019.0,334.8 1019.1,335.5 1019.1,336.0 1019.2,336.4 1019.2,336.9 1019.3,337.4 1019.3,338.0 1019.4,338.5 1019.4,339.6 1019.5,339.7 1019.5,340.4 1019.6,341.1 1019.7,341.7 1019.7,342.7 1019.8,343.1 1019.8,343.6 1019.9,343.9 1020.0,344.7 1020.0,345.3 1020.1,345.7 1020.1,346.6 1020.2,347.3 1020.3,347.8 1020.3,348.6 1020.4,348.9 1020.4,349.3 1020.5,349.9 1020.6,350.6 1020.6,351.3 1020.7,352.0 1020.7,352.5 1020.8,353.0 1020.9,353.6 1020.9,354.8 1021.0,355.5 1021.1,356.0 1021.1,357.1 1021.2,357.4 1021.3,357.5 1021.4,358.3 1021.5,358.9 1021.5,359.7 1021.6,359.7 1021.7,360.8 1021.8,361.4 1021.8,362.4 1021.9,362.0 1022.0,362.4 1022.1,363.3 1022.2,364.2 1022.2,364.6 1022.3,365.3 1022.4,365.0 1022.5,365.0 1022.5,365.7 1022.6,365.2 1022.7,365.9 1022.8,364.8 1022.9,364.0 1023.0,363.7 1023.1,363.0 1023.1,362.3 1023.2,361.9 1023.3,361.5 1023.4,360.7 1023.5,360.2 1023.6,359.7 1023.7,359.0 1023.8,358.6 1023.8,358.2 1023.9,357.5 1024.0,356.8 1024.0,355.8 1024.1,355.2 1024.1,354.8 1024.2,354.4 1024.2,353.8 1024.3,352.9 1024.3,352.3 1024.4,351.5 1024.4,351.0 1024.5,350.3 1024.6,349.7 1024.6,349.0 1024.7,348.6 1024.7,347.9 1024.8,347.4 1024.8,347.1 1024.9,346.2 1024.9,345.6 1025.0,345.1 1025.0,344.7 1025.1,343.6 1025.1,343.4 1025.2,342.6 1025.2,341.6 1025.3,341.1 1025.4,342.7 1025.4,342.7 1025.5,343.2 1025.6,344.1 1025.6,344.4 1025.7,345.1 1025.8,345.8 1025.8,346.4 1025.9,346.9 1026.0,347.4 1026.0,347.7 1026.1,348.5 1026.2,348.8 1026.2,349.7 1026.3,350.3 1026.4,350.8 1026.5,351.3 1026.5,352.1 1026.6,352.6 1026.7,353.1 1026.7,353.7 1026.8,354.3 1026.9,355.2 1026.9,355.7 1027.0,356.3 1027.0,356.8 1027.1,357.1 1027.1,357.5 1027.2,358.6 1027.2,359.1 1027.3,359.9 1027.3,360.6 1027.4,361.3 1027.4,361.9 1027.5,362.7 1027.5,362.8 1027.6,363.4 1027.6,363.8 1027.7,364.7 1027.8,365.0 1027.8,366.1 1027.9,366.4 1027.9,366.6 1028.0,367.0 1028.0,368.0 1028.1,368.5 1028.1,369.1 1028.2,369.9 1028.2,370.4 1028.3,371.1 1028.3,371.8 1028.4,372.3 1028.4,372.5 1028.5,372.9 1028.6,373.5 1028.6,374.3 1028.7,375.2 1028.8,375.7 1028.8,376.7 1028.9,376.5 1029.0,377.1 1029.0,377.8 1029.1,378.6 1029.2,378.9 1029.3,379.1 1029.3,379.7 1029.4,380.6 1029.5,381.6 1029.5,382.0 1029.6,382.6 1029.7,384.0 1029.7,384.5 1029.8,386.1 1029.9,385.5 1030.0,383.5 1030.1,382.9 1030.1,382.5 1030.2,381.9 1030.3,381.6 1030.4,380.9 1030.5,379.8 1030.6,378.7 1030.7,378.2 1030.7,377.8 1030.8,377.2 1030.9,376.3 1031.0,375.6 1031.1,375.1 1031.2,374.5 1031.2,374.0 1031.3,373.3 1031.3,372.9 1031.4,372.4 1031.4,371.6 1031.5,371.3 1031.5,370.5 1031.6,369.8 1031.6,369.4 1031.7,368.9 1031.8,368.4 1031.8,367.7 1031.9,367.0 1031.9,366.6 1032.0,365.8 1032.0,365.3 1032.1,364.9 1032.1,364.0 1032.2,363.5 1032.2,363.0 1032.3,362.8 1032.3,361.9 1032.4,361.3 1032.4,360.7 1032.5,359.7 1032.5,359.3 1032.6,358.6 1032.6,358.2 1032.7,358.1 1032.7,357.2 1032.8,356.7 1032.9,355.8 1033.0,355.5 1033.1,354.6 1033.1,353.9 1033.2,353.8 1033.3,353.0 1033.4,352.4 1033.5,351.8 1033.5,351.3 1033.6,350.8 1033.7,350.5 1033.8,350.0 1033.8,348.8 1033.9,348.5 1034.0,347.8 1034.1,346.8 1034.2,346.6 1034.2,345.1 1034.3,345.0 1034.4,345.8 1034.5,346.2 1034.6,346.9 1034.7,347.6 1034.7,348.4 1034.8,349.1 1034.9,349.8 1035.0,350.6 1035.1,350.6 1035.2,351.5 1035.3,352.2 1035.3,353.0 1035.4,353.6 1035.5,353.8 1035.6,354.5 1035.7,355.0 1035.8,355.5 1035.8,356.4 1035.9,357.3 1036.0,358.0 1036.1,358.7 1036.2,358.5 1036.2,359.0 1036.3,359.9 1036.4,360.5 1036.5,361.3 1036.5,361.5 1036.6,362.2 1036.7,362.3 1036.8,363.6 1036.9,363.7 1036.9,364.3 1037.0,364.8 1037.1,365.8 1037.2,367.0 1037.3,367.9 1037.5,368.4 1037.6,368.7 1037.8,368.9 1038.0,369.6 1038.2,369.8 1038.4,370.0 1038.6,370.2 1038.8,371.0 1039.0,371.8 1039.2,371.8 1039.3,372.0 1039.5,370.8 1039.7,369.9 1039.8,369.1 1040.0,369.1 1040.2,367.9 1040.3,367.4 1040.5,366.2 1040.7,366.1 1040.8,365.7 1041.0,365.5 1041.1,364.0 1041.3,363.8 1041.5,362.8 1041.6,363.1 1041.8,362.4 1041.9,362.3 1042.1,361.2 1042.2,360.6 1042.4,359.7 1042.5,359.6 1042.7,358.8 1042.9,358.0 1043.0,356.5 1043.2,356.0 1043.3,356.3 1043.5,355.5 1043.6,354.5 1043.8,352.6 1044.0,352.2 1044.1,352.8 1044.2,354.3 1044.3,354.0 1044.4,354.8 1044.5,354.9 1044.5,355.9 1044.6,356.6 1044.7,357.1 1044.8,358.2 1044.9,358.5 1045.0,359.5 1045.1,360.0 1045.1,360.6 1045.2,361.0 1045.3,361.6 1045.4,362.4 1045.5,362.8 1045.6,363.5 1045.6,363.5 1045.7,364.5 1045.8,365.2 1045.9,365.9 1046.0,365.9 1046.0,367.0 1046.1,367.8 1046.2,368.4 1046.3,368.9 1046.4,369.4 1046.4,369.9 1046.5,370.4 1046.6,371.3 1046.7,371.7 1046.7,372.5 1046.8,372.8 1046.9,373.2 1047.0,373.9 1047.1,374.7 1047.2,375.7 1047.4,376.3 1047.6,376.4 1047.8,377.5 1047.9,377.2 1048.1,377.6 1048.3,378.4 1048.5,380.0 1048.6,381.0 1048.8,381.3 1048.9,381.5 1049.1,382.9 1049.2,382.3 1049.3,383.0 1049.4,383.8 1049.5,383.8 1049.7,385.0 1049.8,385.1 1049.9,386.1 1050.0,386.3 1050.2,385.8 1050.3,387.8 1050.4,388.5 1050.5,388.0 1050.6,387.2 1050.8,386.6 1050.9,385.4 1051.0,385.4 1051.1,384.5 1051.2,384.1 1051.4,383.7 1051.5,383.3 1051.6,382.3 1051.7,381.5 1051.8,381.1 1052.0,380.3 1052.0,380.1 1052.1,379.6 1052.2,378.9 1052.2,378.2 1052.3,377.9 1052.4,377.3 1052.4,376.5 1052.5,376.2 1052.6,375.1 1052.6,374.5 1052.7,373.9 1052.8,373.5 1052.9,372.8 1052.9,372.2 1053.0,371.6 1053.1,371.4 1053.1,370.7 1053.2,369.9 1053.3,369.2 1053.3,368.9 1053.4,368.1 1053.5,367.9 1053.5,366.9 1053.6,366.6 1053.7,365.8 1053.7,365.1 1053.8,364.4 1053.9,364.1 1054.0,363.6 1054.0,363.3 1054.1,362.8 1054.2,361.5 1054.2,361.5 1054.3,360.9 1054.4,359.9 1054.4,359.2 1054.5,359.1 1054.6,357.7 1054.6,357.3 1054.7,355.6 1054.8,357.6 1054.9,357.5 1055.0,358.7 1055.1,359.3 1055.2,359.9 1055.3,360.0 1055.4,360.8 1055.4,361.9 1055.5,362.7 1055.6,363.0 1055.7,362.8 1055.8,364.0 1055.9,365.1 1056.0,365.2 1056.1,366.6 1056.2,367.9 1056.3,366.3 1056.4,366.1 1056.6,365.3 1056.7,365.0 1056.9,364.8 1057.1,364.9 1057.2,363.5 1057.4,363.1 1057.5,362.8 1057.7,361.6 1057.8,360.7 1057.9,360.4 1058.0,359.6 1058.1,358.9 1058.2,358.4 1058.3,357.7 1058.4,357.3 1058.4,356.6 1058.5,356.6 1058.6,356.0 1058.7,354.8 1058.8,354.2 1058.9,354.3 1059.0,353.5 1059.0,352.7 1059.1,351.8 1059.2,351.2 1059.3,350.6 1059.3,350.0 1059.4,349.4 1059.5,349.2 1059.5,348.4 1059.6,347.7 1059.6,346.9 1059.7,346.1 1059.8,345.5 1059.8,345.1 1059.9,344.3 1059.9,343.6 1060.0,343.2 1060.1,342.4 1060.1,342.2 1060.2,341.2 1060.2,341.3 1060.3,340.3 1060.3,339.9 1060.4,339.3 1060.5,338.9 1060.5,337.6 1060.6,337.1 1060.7,337.2 1060.7,336.4 1060.8,335.3 1060.9,335.1 1061.0,334.2 1061.1,333.4 1061.1,332.4 1061.2,332.7 1061.3,332.1 1061.4,331.2 1061.5,330.9 1061.5,330.3 1061.6,329.6 1061.7,329.1 1061.8,328.8 1061.8,328.2 1061.9,327.9 1062.0,327.2 1062.1,326.6 1062.2,326.1 1062.3,325.1 1062.4,324.9 1062.5,324.4 1062.6,323.2 1062.8,322.5 1062.9,321.6 1063.0,321.5 1063.1,321.2 1063.2,320.8 1063.4,319.8 1063.5,320.0 1063.6,319.8 1063.7,318.9 1063.8,318.5 1063.9,319.8 1064.0,320.2 1064.1,320.3 1064.2,320.9 1064.2,321.4 1064.3,322.1 1064.4,322.9 1064.5,323.7 1064.6,323.7 1064.7,324.8 1064.8,325.2 1064.8,325.3 1064.9,326.2 1065.0,327.1 1065.1,327.9 1065.2,328.4 1065.2,329.0 1065.3,329.5 1065.3,329.9 1065.4,330.6 1065.4,331.2 1065.5,331.8 1065.5,332.7 1065.6,333.2 1065.6,333.7 1065.7,334.3 1065.7,334.9 1065.8,335.2 1065.8,335.9 1065.9,336.7 1065.9,337.7 1066.0,338.0 1066.0,338.3 1066.1,338.7 1066.2,339.4 1066.2,340.2 1066.3,340.8 1066.3,341.5 1066.4,342.5 1066.4,342.6 1066.5,343.1 1066.5,344.2 1066.6,344.4 1066.7,344.7 1066.7,345.6 1066.8,346.2 1066.9,346.5 1066.9,347.5 1067.0,348.2 1067.1,348.9 1067.2,349.4 1067.2,350.1 1067.3,350.5 1067.4,351.3 1067.4,351.4 1067.5,352.1 1067.6,352.7 1067.6,353.7 1067.7,354.0 1067.8,354.8 1067.8,355.7 1067.9,355.7 1068.0,356.7 1068.0,357.3 1068.1,357.8 1068.2,358.1 1068.3,358.2 1068.4,359.2 1068.5,359.4 1068.6,360.1 1068.7,361.0 1068.8,361.7 1068.9,362.4 1069.0,362.8 1069.1,363.2 1069.1,363.9 1069.2,364.6 1069.3,365.1 1069.4,365.6 1069.5,366.7 1069.6,366.9 1069.7,367.6 1069.8,367.8 1069.9,368.8 1070.0,369.3 1070.0,369.6 1070.1,370.6 1070.2,371.3 1070.3,371.9 1070.4,373.0 1070.5,373.5 1070.6,374.2 1070.6,374.7 1070.7,375.3 1070.8,375.4 1070.9,376.1 1071.0,376.5 1071.0,377.0 1071.0,377.6 1071.1,378.5 1071.1,379.1 1071.1,379.9 1071.2,380.6 1071.2,381.1 1071.3,381.7 1071.3,382.3 1071.3,382.9 1071.4,383.6 1071.4,383.9 1071.4,384.6 1071.5,385.4 1071.5,385.9 1071.5,386.6 1071.6,387.1 1071.6,387.7 1071.6,388.3 1071.7,388.8 1071.7,389.2 1071.7,389.9 1071.8,390.5 1071.8,391.2 1071.8,391.7 1071.9,392.4 1071.9,392.9 1071.9,393.3 1072.0,395.2 1072.0,393.9 1072.1,392.6 1072.1,392.7 1072.2,392.0 1072.3,391.1 1072.3,390.6 1072.4,390.0 1072.5,389.3 1072.5,388.7 1072.6,388.4 1072.6,387.9 1072.7,386.9 1072.8,386.5 1072.8,385.5 1072.9,384.9 1072.9,384.7" stroke="#003168" stroke-width="4.6"/>
<path id="ez" d="M144.5,332.8 144.6,333.1 144.8,333.6 144.9,333.6 145.1,334.1 145.3,336.6 145.4,336.3 145.6,336.4 145.8,338.0 145.9,337.6 146.1,336.8 146.2,336.6 146.8,340.6 147.4,340.5 148.0,341.7 148.2,342.1 148.5,341.1 148.7,341.6 148.9,340.6 149.1,341.5 149.4,343.3 149.6,344.8 149.8,344.5 150.2,346.9 150.5,345.3 150.9,345.8 151.2,344.6 151.6,344.8 151.8,347.2 152.1,347.0 152.4,348.7 152.6,350.0 152.9,350.9 153.1,349.3 153.4,349.3 153.8,350.2 154.3,349.0 154.7,352.5 155.2,350.9 155.4,351.0 155.6,353.5 155.8,353.8 156.0,353.1 156.3,354.1 156.5,355.8 156.7,356.7 156.9,357.0 157.1,355.2 157.3,354.4 157.4,354.7 157.6,353.8 157.7,354.2 157.9,353.3 158.1,352.7 158.2,351.9 158.4,351.6 158.6,351.4 158.7,350.9 158.8,350.8 159.0,350.0 159.1,349.5 159.2,348.0 159.3,348.0 159.4,346.9 159.5,345.9 159.7,345.1 159.8,344.8 159.9,345.0 160.0,344.5 160.1,343.3 160.3,343.0 160.4,341.3 160.5,340.6 160.9,341.6 161.2,339.0 161.6,340.4 161.9,340.5 162.3,341.2 162.5,342.7 162.7,342.8 163.0,341.9 163.2,342.1 163.4,343.2 163.6,342.4 163.8,343.5 164.1,345.8 164.6,345.4 165.1,344.1 165.7,343.9 166.2,343.5 166.7,345.3 167.1,345.8 167.5,345.9 167.8,343.8 168.2,343.2 168.5,340.6 169.1,339.5 169.7,340.2 170.3,343.2 170.6,344.2 170.9,341.8 171.2,341.5 171.5,340.5 171.8,339.7 172.1,341.1 172.4,339.9 172.7,337.2 173.0,337.0 173.2,339.2 173.4,339.2 173.6,340.4 173.8,339.7 174.0,341.7 174.2,341.8 174.4,342.2 174.6,343.9 174.8,344.8 175.3,343.4 175.8,344.7 176.4,344.3 176.9,344.9 177.4,345.8 178.0,344.4 178.5,342.4 179.0,343.2 179.6,341.5 180.1,341.7 180.6,340.6 181.2,340.4 181.7,340.2 182.2,340.0 182.8,343.8 183.0,342.1 183.3,343.7 183.5,345.3 183.8,344.5 184.1,344.5 184.3,345.2 184.6,346.8 185.1,345.5 185.6,345.2 186.2,344.8 186.7,345.7 187.2,348.1 187.8,346.7 188.3,345.8 188.8,344.5 189.4,343.7 189.9,342.3 190.1,344.3 190.2,346.4 190.4,345.9 190.6,346.2 190.7,347.1 190.9,348.6 191.0,348.1 191.2,350.0 191.4,350.9 191.5,351.9 191.7,352.2 191.9,352.8 192.0,353.3 192.2,354.1 192.3,354.9 192.5,355.6 192.7,355.6 192.8,356.1 193.0,356.4 193.2,357.5 193.3,358.1 193.5,357.8 193.7,358.6 194.0,358.1 194.2,359.6 194.4,360.8 194.7,360.0 194.9,360.9 195.2,361.3 195.4,362.0 195.7,363.1 195.9,363.1 196.1,363.0 196.3,363.1 196.5,362.9 196.6,361.5 196.8,361.8 197.0,361.9 197.1,360.2 197.3,359.8 197.4,359.6 197.6,358.8 197.8,358.4 197.9,358.6 198.2,357.2 198.5,356.1 198.8,356.2 199.1,356.1 199.4,354.9 199.7,356.8 200.0,354.3 200.3,355.1 200.6,354.0 201.0,353.0 201.4,353.4 201.8,352.4 202.1,354.3 202.5,355.8 202.9,356.2 203.3,354.9 203.7,355.5 204.0,355.6 204.4,357.9 204.8,359.7 205.2,356.9 205.6,360.9 206.0,360.5 206.2,359.9 206.4,361.1 206.7,361.7 206.9,362.1 207.2,363.5 207.4,363.9 207.7,364.5 207.9,364.0 208.1,365.1 208.4,365.3 208.6,367.1 208.8,367.3 208.9,367.9 209.1,369.2 209.2,369.8 209.4,370.2 209.5,370.7 209.7,371.0 209.8,371.2 210.0,371.4 210.1,372.3 210.3,373.0 210.4,373.4 210.5,373.9 210.6,375.0 210.6,375.6 210.7,376.2 210.8,377.1 210.9,378.0 210.9,378.1 211.0,379.2 211.1,379.4 211.2,380.0 211.2,379.2 211.3,380.2 211.7,381.7 212.2,380.3 212.6,381.0 213.1,382.8 213.6,382.1 214.2,380.4 214.7,380.9 215.2,380.5 215.8,378.5 216.3,379.8 216.8,380.6 217.4,382.8 217.9,381.3 218.4,382.9 219.0,383.4 219.5,379.6 220.0,380.3 220.6,381.2 221.1,382.6 221.3,383.0 221.6,383.1 221.8,385.6 222.0,386.9 222.2,387.6 222.4,386.8 222.7,385.6 222.9,386.0 223.2,388.7 223.5,389.5 223.8,389.7 224.1,388.9 224.4,390.5 224.7,392.9 225.0,391.0 225.3,393.2 225.6,392.6 225.7,393.1 225.9,393.0 226.0,391.6 226.2,391.4 226.3,389.8 226.5,389.7 226.6,388.9 226.7,389.3 226.9,388.5 227.0,388.2 227.2,387.3 227.3,387.1 227.5,386.1 227.7,385.5 227.9,384.7 228.1,383.4 228.3,382.7 228.5,383.5 228.7,381.8 228.9,380.0 229.1,380.9 229.4,380.1 229.6,383.6 229.9,381.9 230.1,382.6 230.4,383.9 230.7,383.9 230.9,386.0 231.1,383.8 231.4,384.7 231.6,385.1 231.8,386.2 232.0,385.7 232.2,387.6 232.5,387.5 232.7,388.7 233.1,389.7 233.6,389.8 234.0,390.8 234.5,391.3 234.9,393.0 235.4,394.2 235.9,393.5 236.4,393.6 237.0,394.1 237.5,393.3 238.0,395.2 238.3,391.4 238.5,392.4 238.7,392.2 238.9,392.9 239.2,391.1 239.4,390.4 239.6,392.1 239.8,389.1 240.1,390.3 240.3,388.8 240.6,390.0 240.8,390.6 241.1,391.9 241.3,393.3 241.6,393.3 241.9,393.8 242.2,392.5 242.5,395.8 242.8,394.5 243.1,395.4 243.4,396.2 243.7,396.6 244.0,396.9 244.3,396.2 244.5,395.4 244.7,394.0 244.9,394.8 245.1,393.0 245.3,394.1 245.5,392.7 245.7,393.1 245.9,391.6 246.1,391.3 246.4,390.9 246.7,389.4 247.0,389.3 247.2,390.8 247.5,389.7 247.8,388.9 248.1,388.5 248.4,388.2 248.7,388.0 249.0,386.7 249.2,386.0 249.5,385.2 249.7,384.3 249.9,384.9 250.2,384.9 250.4,384.4 250.7,381.4 250.9,380.9 251.2,379.2 251.4,380.1 251.6,380.4 251.8,379.9 252.0,380.0 252.2,379.1 252.4,378.3 252.6,377.3 252.8,376.5 253.1,375.9 253.3,375.0 253.5,375.1 253.7,375.2 253.9,374.3 254.1,374.3 254.3,373.7 254.5,373.1 254.7,372.2 254.8,370.8 255.0,369.6 255.2,370.2 255.4,369.2 255.6,367.9 255.8,368.0 256.0,368.5 256.2,368.0 256.4,367.3 256.6,366.3 256.8,365.3 257.1,363.8 257.3,364.1 257.6,363.3 257.9,364.7 258.2,363.3 258.5,363.7 258.8,362.6 259.1,361.1 259.4,360.7 260.0,362.6 260.6,364.3 261.2,361.5 261.6,361.8 262.0,361.7 262.4,360.3 262.7,360.9 263.1,359.9 263.5,359.9 263.9,360.9 264.2,363.2 264.5,364.3 264.8,365.8 265.1,366.5 265.4,364.7 265.7,367.5 266.0,365.8 266.3,366.3 266.6,368.0 267.0,370.8 267.5,369.5 267.9,369.2 268.3,371.9 268.8,373.7 269.2,372.9 269.6,372.0 270.0,374.1 270.4,373.2 270.8,375.0 271.1,375.5 271.5,373.4 271.9,371.1 272.3,373.6 272.7,376.2 273.1,375.2 273.4,374.9 273.8,377.8 274.2,378.4 274.6,377.8 275.1,377.6 275.7,377.9 276.2,378.1 276.7,378.2 277.3,379.0 277.5,376.8 277.7,374.9 277.9,374.4 278.1,373.1 278.4,373.3 278.6,373.7 278.8,372.8 279.0,372.4 279.6,371.7 280.1,372.3 280.6,373.5 281.2,371.5 281.7,373.8 282.2,375.2 282.8,373.9 283.3,375.5 283.9,375.3 284.4,375.3 284.9,375.6 285.5,376.1 286.0,375.0 286.5,376.0 287.1,377.0 287.3,376.2 287.5,373.7 287.8,373.3 288.0,372.5 288.3,372.1 288.5,372.8 288.8,371.6 289.0,372.5 289.2,371.7 289.5,370.2 289.7,368.9 290.0,369.0 290.3,367.7 290.6,368.1 290.9,365.9 291.2,366.7 291.5,367.2 291.8,366.4 292.1,364.0 292.4,362.3 292.9,364.4 293.3,366.0 293.7,366.8 294.2,370.0 294.6,369.4 295.1,368.4 295.7,367.7 296.4,367.5 297.1,369.2 297.8,368.9 298.3,367.2 298.8,367.8 299.4,365.9 299.9,365.1 300.4,365.5 301.0,365.6 301.5,365.7 302.0,368.1 302.6,367.6 303.1,364.5 303.6,365.9 304.2,364.9 304.7,364.4 305.2,362.6 305.8,360.8 306.2,362.0 306.7,362.6 307.1,359.4 307.6,358.6 308.0,358.9 308.4,358.4 308.7,358.1 309.0,358.9 309.3,358.8 309.6,359.4 309.9,358.0 310.2,356.7 310.5,358.7 310.8,355.6 311.1,354.4 311.7,354.9 312.2,354.5 312.7,355.8 313.3,358.2 313.8,357.0 314.2,355.8 314.7,354.7 315.1,354.9 315.6,354.9 316.0,353.7 316.5,353.8 316.8,356.5 317.1,355.4 317.4,354.3 317.7,354.4 318.0,358.3 318.3,356.3 318.6,357.7 318.8,360.0 319.1,357.7 319.4,356.0 319.7,355.0 319.9,353.9 320.2,355.3 320.5,356.0 320.7,355.9 321.0,353.6 321.3,354.0 321.6,353.9 321.8,352.3 322.0,351.8 322.2,350.8 322.4,350.2 322.6,350.6 322.8,351.4 323.0,350.5 323.2,350.1 323.3,348.7 323.5,348.3 323.7,347.3 323.9,348.3 324.1,347.5 324.3,346.8 324.5,345.9 325.0,346.0 325.6,345.1 326.1,346.7 326.6,347.3 327.2,346.2 327.4,347.0 327.7,345.8 327.9,346.0 328.1,345.1 328.4,344.7 328.6,344.6 328.9,343.6 329.1,343.3 329.4,340.4 329.6,341.2 329.8,340.9 330.0,340.9 330.1,340.1 330.3,339.2 330.4,339.0 330.6,337.5 330.7,337.2 330.9,336.4 331.0,336.6 331.2,335.0 331.3,334.5 331.5,334.7 331.6,333.4 331.8,332.6 331.9,333.1 332.1,332.7 332.2,331.6 332.4,330.4 332.5,328.3 333.0,329.9 333.6,330.3 334.1,329.9 334.7,331.8 335.2,330.9 335.3,332.6 335.5,330.7 335.6,330.0 335.8,330.0 335.9,329.3 336.1,327.9 336.2,326.5 336.4,327.1 336.5,326.9 336.7,326.4 336.8,325.2 337.0,324.0 337.1,323.7 337.1,323.3 337.2,322.7 337.3,322.3 337.4,322.3 337.5,321.3 337.6,320.6 337.6,319.5 337.7,319.1 337.8,318.5 337.9,318.1 338.0,317.9 338.1,317.0 338.2,316.3 338.2,315.5 338.3,314.8 338.4,314.3 338.5,314.0 338.6,313.0 338.7,311.8 338.8,312.6 339.4,312.3 340.0,312.7 340.7,311.7 340.9,313.6 341.2,310.3 341.5,310.5 341.7,309.9 342.0,310.0 342.2,308.1 342.5,309.5 342.9,309.0 343.4,308.0 343.8,308.9 344.3,310.2 344.4,312.1 344.6,312.5 344.7,313.1 344.9,313.7 345.0,313.2 345.2,313.9 345.3,315.2 345.4,316.1 345.6,316.2 345.7,316.3 345.9,316.9 346.0,317.6 346.3,317.2 346.6,316.5 346.8,315.1 347.1,314.7 347.3,314.7 347.6,313.7 347.8,313.3 347.9,312.6 348.1,312.9 348.2,312.9 348.3,312.0 348.4,311.0 348.5,310.1 348.7,309.9 348.8,308.9 348.9,308.3 349.0,307.6 349.1,306.8 349.3,306.7 349.4,306.2 349.5,305.5 349.6,305.4 349.7,304.9 349.8,304.3 349.9,303.6 350.0,302.4 350.1,301.5 350.2,301.5 350.3,301.2 350.4,299.9 350.5,299.6 350.6,298.8 350.7,297.9 350.8,297.6 350.9,297.7 351.0,297.3 351.1,296.3 351.2,294.8 351.3,294.7 351.4,294.9 351.5,293.7 351.7,292.9 351.8,292.7 352.0,292.2 352.1,291.7 352.3,290.3 352.4,290.8 352.6,289.3 352.7,289.5 352.9,288.8 353.0,287.5 353.2,286.2 353.6,286.5 354.1,289.4 354.5,288.9 355.0,287.2 355.1,285.8 355.3,285.6 355.4,287.1 355.5,288.2 355.7,288.8 355.8,289.4 356.0,289.5 356.1,289.8 356.3,290.4 356.4,291.3 356.6,291.5 356.7,292.4 356.8,292.7 356.9,293.8 357.0,294.4 357.1,294.7 357.2,295.4 357.3,295.7 357.4,296.6 357.5,297.3 357.6,297.5 357.7,298.1 357.8,299.3 357.9,299.8 358.0,300.2 358.1,301.3 358.2,301.8 358.3,302.4 358.4,303.4 358.5,303.6 358.7,304.3 358.8,305.3 359.0,305.9 359.2,306.8 359.3,306.4 359.5,307.1 359.6,308.5 359.8,308.6 359.9,307.3 360.1,306.0 360.2,308.5 360.3,307.4 360.4,307.1 360.5,306.2 360.7,305.6 360.8,304.4 360.9,304.1 361.0,303.6 361.1,303.6 361.3,302.6 361.4,302.0 361.5,300.9 361.6,300.5 361.7,299.2 361.8,298.9 361.9,298.6 361.9,297.7 362.0,297.0 362.1,296.9 362.1,296.2 362.2,295.2 362.3,294.7 362.4,294.5 362.4,293.7 362.5,293.2 362.6,292.6 362.6,292.1 362.7,291.4 362.8,290.9 362.8,290.6 362.9,290.3 363.0,289.7 363.1,288.7 363.1,287.6 363.2,287.5 363.3,286.8 363.4,286.1 363.5,286.0 363.6,284.8 363.7,284.3 363.7,284.2 363.8,283.0 363.9,282.2 364.0,281.1 364.1,281.5 364.2,280.6 364.3,280.5 364.3,279.5 364.4,279.4 364.5,278.6 364.6,278.2 364.7,278.0 364.8,276.4 365.2,276.4 365.7,276.4 366.1,274.5 366.5,274.1 366.6,271.9 366.6,275.3 366.7,276.6 366.7,277.3 366.8,277.7 366.8,278.6 366.9,279.0 366.9,279.6 367.0,280.4 367.0,281.0 367.1,281.4 367.1,281.8 367.2,282.5 367.2,283.3 367.3,283.7 367.3,284.3 367.4,285.1 367.4,285.6 367.5,286.2 367.5,286.8 367.6,287.2 367.6,288.0 367.7,289.0 367.7,289.2 367.8,289.8 367.8,290.4 367.9,291.1 367.9,291.3 368.0,291.8 368.0,292.6 368.1,293.1 368.1,293.8 368.2,294.1 368.2,294.3 368.3,295.2 368.3,294.3 368.4,295.7 368.5,295.9 368.6,294.9 368.7,294.2 368.8,293.5 368.9,292.9 369.0,292.0 369.1,291.5 369.2,290.9 369.3,290.7 369.4,290.0 369.5,289.3 369.6,288.7 369.7,288.1 369.8,287.5 369.9,286.7 370.0,285.8 370.1,286.0 370.3,285.7 370.4,284.5 370.6,283.8 370.7,283.6 370.8,283.1 371.0,282.5 371.1,282.0 371.3,280.7 371.4,279.6 371.6,280.1 371.7,279.3 371.9,278.1 372.0,277.7 372.1,277.1 372.2,276.1 372.3,275.6 372.4,275.1 372.5,274.8 372.6,274.4 372.7,273.5 372.8,272.4 372.9,272.3 373.0,271.8 373.1,271.4 373.2,270.5 373.3,269.6 373.4,269.2 373.5,268.9 373.6,269.1 373.7,267.1 374.1,266.4 374.6,265.7 375.0,262.5 375.5,264.2 375.6,266.4 375.7,267.9 375.8,268.1 375.9,268.4 376.0,268.9 376.2,270.1 376.3,270.2 376.4,271.2 376.5,272.4 376.6,272.1 376.8,272.7 376.9,273.3 377.0,273.6 377.1,273.8 377.2,274.2 377.5,276.0 377.7,276.2 378.0,275.2 378.3,275.7 378.5,276.7 378.8,280.1 379.0,278.4 379.1,277.5 379.3,277.9 379.4,276.2 379.5,276.1 379.6,274.6 379.7,274.7 379.9,274.2 380.0,273.3 380.1,273.2 380.2,272.6 380.3,271.5 380.4,270.8 380.6,271.0 380.7,270.1 380.8,270.2 380.9,269.1 381.0,269.2 381.1,267.3 381.2,267.7 381.3,266.8 381.4,266.1 381.5,265.2 381.6,264.2 381.7,264.2 381.8,264.2 381.9,262.9 382.0,262.3 382.1,261.6 382.2,261.5 382.3,260.4 382.4,258.8 382.5,259.4 382.6,259.2 382.7,258.9 382.9,258.3 383.0,257.3 383.2,256.7 383.3,254.8 383.5,254.5 383.6,253.6 383.8,253.4 383.9,253.3 384.1,252.4 384.2,251.8 384.4,251.0 384.7,249.5 385.1,249.4 385.4,252.0 385.8,252.4 386.1,252.4 386.2,251.3 386.3,250.9 386.4,251.5 386.5,252.3 386.5,252.4 386.6,253.3 386.7,254.2 386.8,254.2 386.9,255.0 386.9,255.3 387.0,256.0 387.1,256.4 387.2,256.8 387.2,257.5 387.3,258.5 387.4,259.1 387.5,259.7 387.5,260.3 387.6,261.1 387.7,261.5 387.7,261.7 387.8,262.1 387.9,262.8 387.9,263.1 388.0,263.7 388.1,264.4 388.1,265.3 388.2,266.1 388.3,266.0 388.3,266.9 388.4,267.8 388.5,268.3 388.6,269.2 388.6,269.7 388.7,270.2 388.8,270.9 388.8,271.4 388.9,272.5 389.1,272.6 389.2,272.9 389.3,273.1 389.4,273.7 389.5,274.4 389.7,275.5 389.8,276.3 389.9,276.8 390.0,277.7 390.1,278.2 390.2,279.1 390.4,279.3 390.5,279.0 390.6,279.6 390.8,279.6 391.0,280.6 391.2,281.1 391.4,281.1 391.6,281.2 391.8,283.0 392.0,284.5 392.2,284.2 392.4,284.8 392.6,285.4 392.9,283.1 393.2,283.9 393.4,283.1 393.7,282.5 393.9,283.7 394.2,284.7 394.4,284.5 394.7,282.1 394.9,281.4 395.2,282.0 395.4,281.1 395.7,280.5 396.0,280.8 396.4,281.1 396.8,279.3 397.3,276.2 397.7,275.7 398.0,276.9 398.2,277.0 398.5,277.4 398.8,278.8 399.0,279.3 399.3,279.8 399.5,280.3 399.6,280.8 399.8,282.2 399.9,281.9 400.0,282.9 400.1,283.4 400.2,283.3 400.4,284.4 400.5,285.0 400.6,285.2 400.7,285.0 400.8,286.7 400.9,287.2 401.1,287.7 401.2,288.3 401.3,289.4 401.4,289.9 401.5,290.0 401.6,290.8 401.7,291.1 401.8,292.2 401.9,292.8 402.0,293.5 402.1,294.0 402.2,294.3 402.3,294.9 402.4,295.6 402.5,296.4 402.6,296.7 402.7,297.9 402.8,298.2 402.9,298.6 403.0,298.9 403.1,299.4 403.3,300.2 403.5,301.7 403.7,302.2 403.9,303.4 404.1,301.9 404.3,302.5 404.5,304.7 404.7,303.3 404.9,306.9 405.4,305.0 405.9,304.5 406.5,305.8 407.0,306.1 407.5,304.1 408.1,306.5 408.6,308.1 409.1,307.7 409.7,308.9 410.2,310.1 410.7,308.0 411.3,310.3 411.8,311.2 412.4,310.9 412.9,310.2 413.2,310.6 413.4,310.8 413.7,308.9 414.0,307.6 414.2,307.5 414.5,307.3 414.8,307.1 415.0,307.6 415.3,305.6 415.6,305.1 415.9,306.9 416.3,306.8 416.7,306.6 417.1,304.3 417.5,305.5 417.9,305.1 418.2,305.7 418.4,307.4 418.6,311.3 418.8,310.8 419.0,310.0 419.2,311.1 419.4,311.5 419.6,313.3 419.8,314.0 420.0,314.9 420.0,315.8 420.2,315.8 420.5,316.7 420.7,316.2 420.9,316.5 421.1,317.5 421.4,317.3 421.6,317.4 421.8,317.6 422.2,318.6 422.7,318.6 423.1,320.4 423.6,320.1 424.0,322.1 424.5,322.8 425.0,322.9 425.5,322.0 426.1,323.5 426.6,324.5 427.1,325.0 427.4,323.9 427.7,325.0 427.9,324.9 428.2,324.7 428.4,326.9 428.7,327.4 428.9,326.4 429.1,328.5 429.3,329.8 429.5,329.3 429.7,330.4 429.9,330.6 430.1,331.0 430.3,331.6 430.5,333.1 430.7,333.8 430.9,333.5 431.2,332.7 431.4,335.7 431.6,334.5 431.8,336.0 432.0,336.1 432.3,336.9 432.5,336.3 432.8,336.4 433.1,336.4 433.4,337.2 433.7,338.4 434.0,338.5 434.3,339.8 434.6,340.3 434.9,338.3 435.2,338.4 435.6,340.8 436.1,341.0 436.5,342.6 437.0,341.4 437.1,343.0 437.2,342.4 437.3,341.7 437.4,341.1 437.5,340.6 437.7,340.1 437.8,339.1 437.9,338.9 438.0,338.6 438.1,337.6 438.3,336.3 438.4,335.4 438.5,335.1 438.6,335.1 438.7,334.7 438.9,335.2 439.1,336.3 439.3,336.6 439.5,337.6 439.7,339.0 439.9,340.0 440.1,339.9 440.3,340.4 440.5,340.1 440.7,340.6 440.9,342.0 441.1,341.1 441.3,342.3 441.5,343.1 441.7,344.3 441.9,344.7 442.1,344.2 442.3,346.8 442.5,344.0 442.7,343.1 442.9,343.2 443.1,343.0 443.3,342.7 443.5,341.2 443.7,342.1 443.9,340.3 444.1,339.4 444.3,338.3 444.5,337.8 444.7,338.4 444.9,337.7 445.1,336.9 445.3,336.2 445.5,335.1 445.7,335.4 445.9,334.4 446.3,332.8 446.8,332.8 447.2,332.5 447.6,331.4 447.9,330.3 448.2,333.8 448.4,333.6 448.7,333.3 448.9,334.6 449.2,335.1 449.4,336.4 449.6,336.8 449.8,337.4 450.0,336.8 450.2,338.2 450.4,338.6 450.6,339.3 450.8,339.2 451.0,340.2 451.2,341.6 451.4,342.1 451.6,342.9 451.8,344.2 452.0,345.2 452.2,345.5 452.4,346.1 452.6,346.0 452.8,345.9 453.0,346.4 453.2,347.0 453.4,347.8 453.7,348.3 453.9,349.4 454.1,349.4 454.3,350.5 454.6,349.8 454.8,351.1 454.9,349.5 455.0,350.1 455.2,349.5 455.3,348.1 455.4,348.0 455.5,348.1 455.7,348.3 455.8,347.7 455.9,346.7 456.1,346.0 456.2,345.3 456.3,343.8 456.4,343.5 456.6,343.2 456.7,342.4 456.8,341.7 456.9,341.8 457.0,341.0 457.2,339.9 457.3,339.7 457.4,339.7 457.5,339.9 457.6,338.5 457.7,337.7 457.9,336.7 458.0,337.0 458.1,335.8 458.2,335.0 458.3,334.3 458.8,334.1 459.2,332.3 459.7,331.3 460.1,330.3 460.6,332.4 461.0,333.0 461.6,331.8 462.1,329.7 462.6,332.5 463.2,331.4 463.7,331.0 464.0,329.2 464.4,327.7 464.8,328.1 465.1,327.8 465.5,328.2 465.6,328.9 465.8,329.2 466.0,330.0 466.1,330.3 466.3,331.0 466.4,331.3 466.6,331.9 466.8,332.1 466.9,332.7 467.1,332.6 467.3,334.0 467.5,334.3 467.8,335.4 468.0,337.2 468.3,336.0 468.5,335.5 468.8,335.6 469.0,335.9 469.3,336.9 469.6,337.4 469.8,337.1 470.1,337.0 470.4,336.3 470.6,335.4 470.9,334.5 471.2,332.8 471.4,334.5 471.7,333.8 472.0,332.5 472.2,332.3 472.5,334.0 472.7,334.5 473.0,335.5 473.2,337.2 473.5,335.8 473.7,337.0 474.0,334.7 474.3,335.0 474.5,334.2 474.8,333.3 475.0,333.1 475.3,331.6 475.4,331.4 475.5,330.5 475.6,331.1 475.8,330.7 475.9,329.7 476.0,329.1 476.1,329.1 476.2,328.3 476.3,328.3 476.5,327.0 476.6,326.8 476.7,325.9 476.8,325.9 476.9,324.4 477.1,323.2 477.3,323.7 477.5,323.2 477.7,322.5 477.9,322.0 478.0,321.9 478.2,321.1 478.4,319.9 478.6,319.6 478.8,319.9 479.4,320.2 479.9,317.5 480.4,318.1 481.0,316.3 481.5,316.8 481.8,316.8 482.0,317.5 482.3,316.7 482.5,317.2 482.8,315.6 483.0,313.2 483.3,312.1 483.6,311.9 483.8,312.6 484.1,313.6 484.3,315.4 484.6,313.5 484.8,313.9 485.1,316.3 485.3,316.6 485.6,317.7 485.8,319.0 486.1,320.1 486.4,321.1 486.6,319.7 486.9,320.2 487.0,321.3 487.2,319.8 487.3,318.4 487.5,317.2 487.6,317.0 487.8,317.6 487.9,316.2 488.1,316.1 488.2,315.4 488.3,314.3 488.5,314.3 488.6,312.4 489.0,313.1 489.4,313.2 489.8,310.8 490.2,311.9 490.6,310.0 490.9,308.5 491.3,310.0 491.9,310.1 492.4,311.0 492.9,310.7 493.5,309.0 494.0,309.9 494.3,307.8 494.5,306.3 494.8,307.8 495.1,306.1 495.3,306.7 495.6,304.5 495.9,304.6 496.1,305.4 496.4,306.0 496.7,303.9 496.8,302.1 497.0,301.0 497.1,301.4 497.3,300.4 497.4,299.8 497.6,298.4 497.7,297.9 497.9,296.9 498.0,297.1 498.2,296.6 498.3,296.3 498.4,297.3 497.9,296.8 497.3,295.0 496.7,297.1 496.8,295.2 497.0,295.3 497.1,295.3 497.3,294.0 497.4,293.3 497.6,292.3 497.7,291.9 497.9,290.7 498.0,290.1 498.2,288.9 498.3,288.5 498.4,288.3 498.9,287.9 499.3,287.5 499.8,286.1 500.2,286.6 500.4,286.8 500.6,285.5 500.8,286.1 501.0,283.7 501.2,283.7 501.4,282.5 501.6,283.0 501.8,283.4 502.0,282.7 502.2,284.4 502.3,285.0 502.5,284.9 502.6,285.0 502.8,284.5 502.9,286.0 503.1,286.1 503.2,286.9 503.4,288.1 503.5,287.8 503.6,286.7 503.8,288.1 504.2,287.5 504.5,286.2 504.9,285.3 505.2,284.9 505.6,284.5 505.9,285.9 506.3,286.7 506.6,287.8 507.0,288.1 507.4,290.5 507.5,288.5 507.6,287.8 507.7,287.5 507.8,286.8 508.0,286.0 508.1,285.5 508.2,285.0 508.3,284.9 508.4,284.1 508.6,284.2 508.7,282.9 508.8,282.3 508.9,281.3 509.0,281.6 509.1,280.8 509.2,279.7 509.3,279.0 509.4,278.7 509.5,277.9 509.6,277.6 509.7,276.7 509.8,276.3 509.9,275.6 510.0,275.4 510.1,274.7 510.2,274.1 510.3,273.2 510.4,273.1 510.5,271.9 510.6,271.3 510.7,270.6 510.8,270.0 510.9,270.8 511.0,271.7 511.0,271.5 511.1,271.5 511.2,271.9 511.2,272.4 511.3,272.7 511.3,273.4 511.4,274.0 511.5,275.0 511.5,275.4 511.6,276.5 511.6,277.0 511.7,277.4 511.8,277.9 511.8,278.7 511.9,279.4 511.9,279.9 512.0,280.3 512.1,281.0 512.1,281.1 512.2,281.7 512.3,282.3 512.4,283.1 512.5,283.7 512.6,284.1 512.7,285.2 512.7,285.9 512.8,286.6 512.9,286.7 513.0,286.9 513.1,287.9 513.2,288.6 513.3,289.0 513.4,289.6 513.5,290.5 513.6,291.4 513.8,291.6 514.0,292.5 514.2,293.4 514.4,295.3 514.6,295.1 514.8,295.4 515.0,295.7 515.2,296.4 515.4,296.2 515.5,296.2 515.6,297.4 515.7,297.8 515.7,298.9 515.8,299.5 515.9,300.0 516.0,300.6 516.1,301.2 516.2,302.2 516.3,302.9 516.4,304.1 516.6,304.3 516.8,304.2 516.9,304.6 517.1,304.3 517.3,305.0 517.4,306.8 517.6,307.3 517.8,307.4 517.9,307.6 518.1,307.6 518.3,307.6 518.4,309.8 518.6,310.6 518.8,311.9 518.9,312.0 519.2,312.0 519.4,311.5 519.6,313.8 519.8,313.1 520.0,314.3 520.2,314.2 520.4,315.6 520.6,316.0 520.8,316.6 521.0,316.9 521.2,317.6 521.4,318.5 521.6,319.2 521.9,319.5 522.1,319.5 522.4,321.5 522.6,321.1 522.8,321.9 523.1,322.6 523.3,322.3 523.6,321.5 523.8,323.8 524.1,323.4 524.3,324.8 524.7,323.3 525.0,321.7 525.4,322.5 525.7,322.5 526.1,321.2 526.2,320.6 526.3,321.3 526.4,320.7 526.6,320.0 526.7,320.2 526.8,318.8 526.9,318.5 527.0,316.9 527.1,316.7 527.3,316.0 527.4,315.7 527.5,315.5 527.6,315.2 527.7,314.4 527.9,313.7 528.0,312.7 528.1,310.9 528.2,311.5 528.3,311.1 528.5,310.0 528.6,309.2 528.7,310.1 528.8,309.4 528.9,308.5 529.0,307.8 529.2,306.6 529.3,306.0 529.4,306.4 529.5,305.5 529.6,304.7 529.7,305.2 529.8,305.0 529.9,305.9 530.0,305.9 530.1,306.7 530.2,307.7 530.3,308.3 530.4,308.6 530.5,308.7 530.6,311.8 530.7,312.1 531.0,310.9 531.3,309.4 531.6,308.8 531.9,308.3 532.2,307.9 532.5,306.5 532.8,309.6 533.1,307.8 533.4,307.9 533.8,306.8 534.3,305.0 534.7,304.0 535.2,303.7 535.6,304.3 536.0,302.5 536.2,304.8 536.3,303.6 536.5,305.5 536.6,305.4 536.8,307.1 536.9,307.9 537.1,307.9 537.2,308.2 537.4,309.5 537.5,309.4 537.7,309.9 537.8,311.1 538.0,311.8 538.1,311.6 538.3,312.7 538.4,312.8 538.6,313.2 538.7,314.5 538.9,314.8 539.0,315.5 539.2,315.8 539.3,315.8 539.5,317.0 539.6,317.7 540.0,317.3 540.3,314.7 540.7,314.8 541.0,316.2 541.4,315.4 541.5,315.5 541.6,315.2 541.7,316.6 541.8,317.2 541.9,318.3 542.0,319.2 542.1,319.3 542.2,319.6 542.3,320.7 542.4,320.4 542.5,320.6 542.6,321.5 542.8,322.2 542.9,322.9 543.0,324.4 543.1,325.1 543.2,324.7 543.4,325.9 543.6,326.2 543.8,327.0 544.0,326.9 544.2,327.3 544.4,328.4 544.6,329.5 544.8,330.1 545.0,328.2 545.4,329.0 545.8,330.7 546.3,332.4 546.7,332.5 547.2,333.3 547.6,333.0 548.2,333.3 548.7,333.1 549.2,330.5 549.8,332.2 550.3,330.4 550.8,331.4 551.4,331.3 551.9,334.0 552.4,334.1 553.0,333.7 553.5,333.1 554.0,331.3 554.6,333.5 555.1,333.8 555.7,333.4 556.1,332.1 556.5,331.4 557.0,336.6 557.4,335.6 557.9,337.5 558.3,339.4 558.8,338.1 559.2,336.2 559.7,338.4 560.1,336.7 560.6,335.9 561.0,337.5 561.2,339.2 561.4,339.4 561.7,340.9 561.9,340.7 562.1,342.2 562.3,342.9 562.6,343.0 562.8,344.9 562.9,343.5 563.0,343.4 563.1,342.0 563.3,341.7 563.4,340.7 563.5,339.8 563.6,339.1 563.7,338.3 563.9,338.7 564.0,338.7 564.1,337.6 564.2,336.2 564.3,334.9 564.4,334.9 564.6,334.9 564.7,334.3 564.8,334.6 564.9,333.9 565.0,332.7 565.2,332.0 565.3,332.0 565.4,330.2 565.5,330.1 565.6,329.1 565.8,327.9 565.9,327.5 566.0,326.6 566.1,326.3 566.2,324.2 566.3,322.4 566.5,325.5 566.7,326.2 566.8,327.4 567.0,327.7 567.2,327.6 567.3,329.2 567.5,329.2 567.6,329.9 567.8,330.0 568.0,331.1 568.1,331.4 568.3,332.6 568.5,333.9 568.7,333.9 568.9,334.4 569.1,334.8 569.3,335.3 569.5,337.7 569.7,337.1 569.9,338.9 570.4,339.0 570.8,336.9 571.2,335.1 571.7,334.0 572.1,334.6 572.6,332.9 572.7,333.9 572.9,336.0 573.1,336.6 573.2,337.5 573.4,338.0 573.6,338.2 573.7,338.3 573.9,339.4 574.0,340.3 574.2,340.8 574.4,341.2 574.6,340.0 574.8,340.2 575.0,340.8 575.2,338.0 575.4,337.6 575.6,337.6 575.8,337.8 576.0,337.0 576.1,334.5 576.2,338.1 576.3,336.6 576.4,337.4 576.5,337.8 576.6,338.9 576.7,339.5 576.8,340.7 576.9,340.7 577.0,341.5 577.1,341.8 577.2,342.6 577.3,342.6 577.4,343.5 577.5,343.9 577.6,344.1 577.7,344.0 577.8,344.5 577.9,345.9 578.2,345.8 578.4,346.8 578.7,346.8 579.0,348.0 579.2,347.2 579.5,348.1 579.7,348.3 579.8,348.3 579.8,348.8 579.9,348.4 579.9,348.0 580.0,347.3 580.0,346.2 580.1,346.0 580.1,345.3 580.2,344.7 580.3,344.1 580.3,343.2 580.4,342.7 580.4,341.8 580.5,341.1 580.5,340.9 580.6,340.4 580.6,339.4 580.7,338.8 580.7,338.4 580.8,338.2 580.8,337.6 580.9,336.8 581.0,336.1 581.0,335.6 581.1,335.0 581.1,334.5 581.2,334.0 581.2,333.2 581.3,332.7 581.3,332.1 581.4,331.8 581.4,331.3 581.5,330.3 581.6,330.1 581.7,329.8 581.8,329.4 581.9,328.2 582.0,327.7 582.1,326.5 582.2,326.0 582.3,325.9 582.4,324.9 582.5,324.9 582.6,323.5 582.7,323.6 582.8,322.8 582.8,321.8 582.9,321.6 583.0,321.1 583.1,320.4 583.2,319.0 583.3,318.8 583.4,318.3 583.5,317.9 583.6,317.2 583.7,316.7 583.8,318.2 583.9,317.9 584.1,318.4 584.2,317.8 584.3,318.7 584.4,318.7 584.5,319.1 584.6,319.5 584.8,320.6 584.9,321.4 585.0,322.2 585.1,322.7 585.2,323.5 585.4,324.4 585.5,324.8 585.6,325.6 585.7,325.1 585.8,325.8 586.0,326.2 586.4,327.8 586.8,327.8 587.3,326.3 587.7,327.6 588.2,329.1 588.6,330.9 588.9,328.0 589.1,326.6 589.3,328.2 589.5,327.8 589.7,327.2 590.0,327.3 590.2,324.0 590.4,324.0 590.9,323.5 591.3,323.5 591.7,323.2 592.2,322.6 592.4,324.1 592.5,323.7 592.7,325.1 592.8,325.0 593.0,326.0 593.2,326.7 593.3,327.7 593.5,327.9 593.7,328.0 593.8,328.6 594.0,328.2 594.4,330.3 594.7,329.2 595.1,328.8 595.5,329.3 595.9,331.8 596.3,332.7 596.6,333.7 597.1,336.6 597.5,336.4 598.0,336.4 598.4,336.1 598.9,335.7 599.3,336.0 599.7,335.4 600.0,338.1 600.3,340.3 600.6,338.6 601.0,338.8 601.3,340.2 601.6,339.5 601.8,339.3 602.0,338.1 602.2,337.6 602.4,337.1 602.5,335.8 602.7,335.3 602.9,334.8 603.1,335.6 603.2,334.7 603.4,334.1 603.6,334.0 603.8,332.8 604.0,331.0 604.3,331.3 604.6,329.5 604.8,328.3 605.1,329.2 605.4,328.6 605.7,330.1 605.9,328.1 606.1,328.2 606.3,328.7 606.5,329.4 606.7,329.3 606.9,330.7 607.1,331.3 607.3,331.9 607.5,331.8 607.7,333.3 607.8,333.7 608.0,333.5 608.2,333.9 608.8,335.6 609.3,334.2 609.8,333.8 610.4,335.6 610.9,334.3 611.4,333.5 611.8,333.4 612.2,335.4 612.7,337.2 613.1,338.7 613.6,338.2 613.9,339.5 614.3,339.3 614.7,338.9 615.0,340.9 615.4,341.4 615.5,339.4 615.7,340.7 615.8,339.7 616.0,338.6 616.1,338.1 616.3,337.6 616.4,337.7 616.6,336.7 616.7,336.1 616.9,335.5 617.0,336.6 617.1,334.2 617.4,336.1 617.6,334.8 617.8,334.3 618.0,335.7 618.3,335.5 618.5,336.7 618.7,337.7 618.9,337.3 619.3,337.8 619.7,338.0 620.1,338.6 620.5,337.9 620.8,339.0 621.2,339.2 621.6,343.2 622.0,341.9 622.4,342.0 622.8,343.0 623.1,343.9 623.5,344.8 623.9,346.6 624.3,344.4 624.5,344.2 624.8,344.4 625.0,346.6 625.3,347.1 625.5,348.3 625.7,349.4 626.0,352.2 626.2,351.5 626.5,351.5 626.7,351.6 627.0,351.5 627.2,352.5 627.5,353.5 627.8,352.6 628.0,353.2 628.3,353.0 628.6,352.7 628.8,354.3 629.1,357.8 629.4,358.0 629.6,358.2 630.1,357.6 630.5,357.6 631.0,358.0 631.4,358.1 631.9,360.5 632.3,359.4 632.5,360.0 632.7,360.6 633.0,357.8 633.2,357.7 633.4,355.9 633.6,355.0 633.9,355.3 634.1,354.7 634.3,356.1 634.5,355.8 634.7,354.6 634.9,353.5 635.1,352.1 635.3,351.4 635.5,352.7 635.7,351.3 635.9,350.8 636.0,350.2 636.2,350.7 636.3,351.8 636.5,352.6 636.6,353.9 636.8,354.0 636.9,354.4 637.1,354.3 637.2,355.0 637.3,355.9 637.5,356.6 637.6,357.1 637.8,356.8 638.0,358.0 638.2,358.4 638.4,360.0 638.6,360.1 638.8,360.0 639.0,361.1 639.2,360.6 639.4,360.9 639.8,362.1 640.1,363.0 640.5,363.2 640.9,363.7 641.2,365.6 641.4,366.0 641.5,364.8 641.7,363.8 641.9,362.0 642.0,361.8 642.2,361.4 642.3,360.2 642.5,359.1 642.7,360.3 642.8,359.3 643.0,357.7 643.1,357.9 643.3,357.1 643.4,356.8 643.6,357.1 643.7,357.5 643.9,356.2 644.0,355.1 644.2,354.0 644.3,352.3 644.5,351.5 644.6,349.2 644.8,349.6 644.9,352.2 645.1,352.8 645.2,353.3 645.4,353.2 645.5,353.2 645.7,354.8 645.8,354.7 646.0,356.0 646.1,357.0 646.3,357.5 646.4,359.0 646.6,358.9 647.0,359.6 647.5,358.9 647.9,361.9 648.3,359.8 648.8,361.5 649.2,360.8 649.4,360.6 649.5,359.7 649.6,359.2 649.7,358.7 649.9,358.1 650.0,358.5 650.1,357.5 650.3,357.4 650.4,356.6 650.5,356.4 650.6,355.9 650.8,354.1 650.9,353.4 651.0,353.4 651.1,353.1 651.3,352.2 651.4,351.0 651.5,350.8 651.6,349.7 651.7,349.9 651.8,349.3 652.0,348.7 652.1,347.5 652.2,347.4 652.3,345.9 652.4,345.9 652.6,344.8 652.7,345.4 652.8,345.7 652.9,346.6 653.0,346.1 653.2,346.9 653.3,347.4 653.4,347.4 653.5,348.1 653.6,348.9 653.7,348.9 653.9,350.0 654.0,350.8 654.1,351.3 654.2,351.7 654.3,352.4 654.5,353.1 654.6,352.8 654.7,354.6 654.9,353.7 655.0,354.7 655.2,356.2 655.3,356.7 655.5,357.7 655.6,358.4 655.8,359.7 655.9,359.2 656.1,359.2 656.2,359.5 656.4,359.8 656.4,360.7 656.4,361.4 656.5,362.3 656.5,362.9 656.5,363.6 656.6,364.2 656.6,364.5 656.7,365.1 656.7,365.8 656.7,366.3 656.8,366.9 656.8,367.6 656.8,368.3 656.9,368.8 656.9,369.4 657.0,370.0 657.0,370.6 657.0,371.3 657.1,371.7 657.1,372.4 657.1,372.9 657.2,373.6 657.2,374.4 657.3,375.1 657.3,375.5 657.4,376.1 657.4,376.7 657.5,377.2 657.5,377.7 657.6,378.6 657.6,379.0 657.7,379.9 657.7,380.3 657.8,380.9 657.8,381.5 657.8,382.2 657.9,382.7 657.9,383.0 658.0,383.7 658.0,384.1 658.1,384.7 658.1,385.2 658.4,385.5 658.7,387.1 658.9,387.5 659.2,388.0 659.4,388.9 659.7,388.6 659.9,389.5 660.0,388.8 660.2,391.1 660.3,391.7 660.4,391.8 660.5,392.1 660.6,392.6 660.8,393.8 660.9,393.8 661.0,394.0 661.1,394.4 661.2,395.2 661.4,395.8 661.5,396.4 661.6,397.3 661.7,397.6 661.8,398.7 661.9,399.4 662.1,400.1 662.2,400.4 662.3,400.4 662.4,401.1 662.5,401.7 662.7,403.0 662.8,403.5 662.9,403.1 663.0,403.7 663.1,404.9 663.3,405.6 663.4,406.0 663.5,406.5 663.6,407.1 663.7,407.6 663.7,408.6 663.8,408.7 663.9,409.7 664.0,410.3 664.1,411.3 664.2,411.9 664.2,412.5 664.3,412.7 664.4,413.5 664.5,414.1 664.6,414.0 664.7,415.0 664.7,415.4 665.0,415.7 665.2,416.9 665.5,417.9 665.7,417.2 665.9,419.3 666.2,419.9 666.3,420.6 666.4,420.2 666.5,420.7 666.6,421.6 666.7,421.9 666.8,422.9 666.9,423.2 667.0,424.1 667.1,424.1 667.2,425.1 667.3,425.7 667.4,426.5 667.5,427.6 667.6,428.5 667.7,429.0 667.8,431.1 667.8,428.7 667.9,428.2 668.0,427.1 668.1,426.9 668.2,425.9 668.2,425.6 668.3,425.0 668.4,424.2 668.5,423.6 668.6,423.0 668.6,422.0 668.7,421.4 668.8,421.2 668.9,420.6 668.9,419.9 669.0,419.5 669.1,418.9 669.1,418.2 669.1,417.5 669.1,417.1 669.2,416.5 669.2,416.0 669.2,415.2 669.3,414.6 669.3,414.0 669.3,413.3 669.4,412.8 669.4,412.2 669.4,411.9 669.5,411.1 669.5,410.5 669.5,410.0 669.6,409.4 669.6,408.7 669.6,408.0 669.7,407.5 669.7,406.9 669.7,406.3 669.8,405.7 669.8,405.0 669.8,404.4 669.9,403.9 669.9,403.4 669.9,403.0 670.0,402.4 670.0,401.7 670.0,401.1 670.1,401.8 670.1,402.1 670.7,401.3 671.2,402.1 671.8,401.1 672.4,400.4 672.5,399.6 672.7,402.2 672.8,402.0 672.9,402.8 673.0,403.8 673.2,404.5 673.3,404.2 673.4,405.5 673.6,406.6 673.7,407.2 673.8,407.0 673.9,407.3 674.1,408.2 674.2,410.2 674.2,408.9 674.3,407.6 674.3,406.9 674.3,406.3 674.4,405.6 674.4,405.1 674.4,404.5 674.5,404.0 674.5,403.3 674.6,402.7 674.6,401.9 674.6,401.5 674.7,401.1 674.7,400.4 674.7,399.9 674.8,399.3 674.8,398.8 674.9,398.1 674.9,397.5 674.9,396.7 675.0,396.0 675.0,395.6 675.0,394.3 675.1,393.7 675.2,393.6 675.4,393.0 675.6,391.7 675.7,391.0 675.9,391.3 676.1,392.6 676.2,390.7 676.4,390.4 676.5,391.4 676.7,390.7 676.9,391.8 677.0,391.2 677.1,390.7 677.2,389.9 677.4,390.0 677.5,389.8 677.6,391.7 677.8,393.4 677.9,392.6 678.0,393.5 678.1,394.2 678.3,394.5 678.4,394.8 678.5,395.0 678.6,396.0 678.7,396.9 678.8,397.5 678.9,397.6 679.0,398.3 679.1,398.9 679.2,399.2 679.3,400.5 679.4,401.0 679.5,401.1 679.6,401.6 679.7,402.0 679.8,403.2 679.9,403.2 680.0,405.5 680.1,407.6 680.2,408.3 680.3,403.8 680.4,403.1 680.5,402.7 680.7,402.9 680.8,401.9 680.9,400.6 681.0,400.7 681.1,400.2 681.3,399.5 681.4,399.5 681.5,398.1 681.6,397.6 681.7,396.8 681.9,395.9 681.9,395.5 682.0,395.2 682.1,394.6 682.1,393.8 682.2,393.4 682.3,392.5 682.3,391.9 682.4,391.8 682.5,391.3 682.5,390.8 682.6,389.9 682.7,389.1 682.8,388.3 682.8,388.1 682.9,387.6 683.0,387.1 683.0,385.9 683.1,385.3 683.2,384.7 683.2,384.2 683.3,383.6 683.3,383.0 683.4,382.4 683.4,381.8 683.5,381.3 683.5,380.4 683.6,380.0 683.6,379.5 683.7,379.0 683.7,378.0 683.8,377.7 683.8,377.3 683.9,376.6 683.9,376.1 684.0,375.3 684.0,374.6 684.1,374.0 684.1,373.5 684.2,373.2 684.2,372.5 684.3,372.1 684.3,371.5 684.4,370.5 684.5,370.3 684.6,369.9 684.7,368.6 684.7,368.5 684.8,367.5 684.9,367.0 685.0,366.5 685.1,365.8 685.1,365.0 685.2,364.9 685.3,364.4 685.4,363.7 685.5,363.1 685.5,362.2 685.6,361.7 685.7,360.5 685.8,361.1 686.0,359.6 686.2,361.3 686.4,363.7 686.6,364.5 686.8,362.6 687.0,362.8 687.2,363.3 687.4,365.1 687.6,365.6 687.8,363.5 688.1,364.6 688.4,363.9 688.7,363.8 689.0,364.0 689.1,364.0 689.2,364.6 689.4,364.7 689.5,365.6 689.6,366.4 689.7,366.6 689.9,367.3 690.0,367.4 690.1,368.2 690.3,368.9 690.4,369.8 690.5,370.4 690.6,369.7 690.8,371.0 690.9,371.1 691.0,372.5 691.1,373.8 691.2,373.8 691.4,374.4 691.5,375.7 691.6,375.6 691.7,376.6 691.8,376.7 692.0,376.9 692.1,378.2 692.2,378.6 692.3,379.4 692.4,379.6 692.5,380.3 692.7,381.0 692.8,382.0 692.9,382.9 693.0,383.3 693.1,383.1 693.3,383.2 693.4,384.2 693.5,384.5 693.6,384.8 693.7,385.8 693.9,386.4 694.0,387.2 694.1,387.5 694.2,388.9 694.3,388.7 694.5,389.3 694.7,389.9 694.9,391.4 695.0,392.1 695.2,392.7 695.4,392.3 695.6,393.1 695.8,394.3 695.9,394.8 696.1,396.4 696.3,395.5 696.5,393.5 696.6,395.3 696.6,395.5 696.7,394.5 696.8,393.4 696.9,393.0 697.0,392.4 697.1,392.5 697.1,391.7 697.2,391.0 697.3,390.7 697.4,389.9 697.5,388.9 697.6,388.4 697.7,388.2 697.7,387.2 697.8,387.2 697.9,386.3 698.0,385.7 698.1,384.3 698.2,384.3 698.3,383.7 698.4,384.0 698.5,382.9 698.6,381.7 698.7,381.4 698.8,381.0 699.0,380.3 699.1,379.6 699.2,378.9 699.3,377.4 699.4,377.5 699.6,376.8 699.7,375.8 699.8,375.1 699.9,374.7 700.0,375.6 700.2,375.1 700.4,374.2 700.6,372.7 700.8,372.1 701.0,370.7 701.2,371.6 701.4,371.7 701.6,370.5 701.8,368.9 701.9,368.6 702.0,368.4 702.1,367.6 702.2,367.1 702.3,366.1 702.4,365.7 702.5,365.2 702.6,364.4 702.7,364.0 702.8,363.9 702.9,363.2 703.0,362.2 703.1,361.5 703.2,361.3 703.3,361.2 703.4,361.0 703.5,360.2 703.6,359.0 703.7,358.2 703.8,357.9 703.9,358.1 703.9,357.0 704.0,356.2 704.1,356.1 704.2,354.3 704.3,354.0 704.4,353.7 704.4,353.2 704.5,352.7 704.6,351.7 704.7,350.8 704.8,350.6 704.9,349.8 705.0,349.9 705.0,349.1 705.1,348.5 705.2,348.0 705.3,346.7 705.4,346.3 705.5,346.2 705.7,345.9 705.8,345.5 706.0,344.6 706.1,342.7 706.3,342.3 706.3,344.8 706.4,344.8 706.5,344.7 706.6,345.1 706.6,345.8 706.7,346.2 706.8,347.1 706.8,347.7 706.9,348.3 707.0,348.6 707.0,349.2 707.1,349.9 707.2,350.4 707.2,351.3 707.3,351.8 707.4,352.2 707.5,353.1 707.5,353.3 707.6,354.1 707.7,354.8 707.8,354.9 707.8,356.0 707.9,357.0 708.0,357.5 708.1,358.1 708.2,358.6 708.2,359.0 708.3,359.5 708.4,359.8 708.5,360.5 708.6,361.1 708.6,361.4 708.7,362.5 708.8,362.7 708.9,363.1 708.9,366.3 709.4,363.0 709.8,361.1 710.3,361.6 710.7,359.8 710.9,364.5 711.1,364.6 711.3,364.6 711.5,364.8 711.7,364.9 711.9,366.6 712.1,366.8 712.3,367.5 712.5,368.2 712.9,368.3 713.3,366.7 713.7,364.1 714.0,365.3 714.4,364.6 714.8,363.4 715.2,366.6 715.4,366.1 715.6,366.3 715.8,366.7 716.0,367.2 716.2,367.3 716.4,367.9 716.6,369.3 716.8,368.3 717.0,367.7 717.2,368.1 717.5,369.7 717.7,367.5 718.0,366.9 718.2,366.2 718.5,365.0 718.8,365.3 719.0,365.8 719.2,363.3 719.6,361.8 720.0,361.8 720.4,364.8 720.7,361.4 721.1,361.5 721.5,360.3 721.9,360.3 722.0,359.6 722.2,362.5 722.3,363.7 722.5,363.9 722.6,363.5 722.8,364.8 722.9,365.3 723.1,365.9 723.2,367.4 723.4,367.8 723.5,367.1 723.7,369.6 724.2,369.6 724.7,368.1 725.3,368.6 725.8,366.5 726.3,367.1 726.9,369.8 727.4,371.7 728.0,371.3 728.5,369.9 729.0,372.9 729.6,372.1 730.1,372.8 730.6,372.7 731.2,369.7 731.7,370.3 732.2,370.0 732.8,368.4 733.3,370.1 733.8,370.9 734.4,368.8 734.8,368.4 735.3,367.9 735.7,368.1 736.1,370.4 736.6,371.0 737.0,371.5 737.5,372.4 737.9,371.5 738.4,370.5 738.8,367.8 739.3,368.9 739.7,370.4 739.8,368.1 740.0,367.4 740.1,367.3 740.2,366.6 740.3,365.6 740.4,365.1 740.5,364.6 740.7,363.5 740.8,362.9 740.9,362.8 741.0,361.4 741.1,360.5 741.3,359.5 741.4,358.6 741.5,357.9 741.6,359.8 741.8,360.9 741.9,360.8 742.1,361.7 742.2,362.2 742.4,363.0 742.5,363.0 742.7,364.4 742.8,364.7 743.0,364.4 743.1,365.6 743.3,366.3 743.4,366.9 743.6,367.4 743.7,367.7 743.9,368.8 744.0,369.2 744.2,370.2 744.3,371.3 744.5,371.2 744.6,372.1 744.8,371.9 744.9,373.2 745.1,374.0 745.3,375.4 745.5,376.5 745.7,376.4 746.0,376.7 746.2,378.4 746.4,379.1 746.6,377.4 746.8,378.4 747.0,376.3 747.2,376.7 747.3,375.7 747.5,376.4 747.7,375.5 747.8,374.7 748.0,374.8 748.1,373.8 748.3,372.8 748.5,371.6 748.6,372.1 748.9,371.1 749.1,371.3 749.4,371.6 749.6,371.5 749.9,369.2 750.2,369.0 750.4,368.0 750.6,368.6 750.8,370.1 751.0,370.3 751.2,371.7 751.4,372.4 751.6,373.1 751.8,372.8 752.0,373.6 752.2,373.2 752.4,374.4 752.6,375.4 752.9,375.2 753.1,375.0 753.3,375.6 753.5,375.9 753.8,377.3 754.0,377.1 754.4,377.0 754.9,376.6 755.3,377.8 755.8,377.1 756.2,376.6 756.6,375.1 756.9,375.0 757.1,374.9 757.3,377.3 757.5,377.8 757.8,377.5 758.0,379.8 758.2,379.2 758.4,378.7 758.8,378.1 759.2,379.1 759.6,381.3 760.0,383.5 760.3,384.3 760.7,383.6 761.1,383.7 761.6,383.4 762.2,385.4 762.7,385.1 763.2,383.5 763.8,382.0 764.0,385.7 764.3,384.2 764.6,384.9 764.8,383.1 765.1,383.3 765.4,382.9 765.7,381.8 765.9,379.3 766.2,378.7 766.5,378.0 766.8,378.1 767.2,376.9 767.6,376.9 768.0,376.4 768.4,376.0 768.7,373.8 769.1,375.2 769.3,374.9 769.5,373.8 769.7,374.1 769.9,372.5 770.1,373.3 770.3,371.8 770.5,371.8 770.7,371.5 770.9,370.3 771.3,369.6 771.6,367.8 772.0,366.9 772.3,366.7 772.7,365.6 773.0,366.1 773.3,366.8 773.6,366.4 773.9,367.3 774.2,365.8 774.5,364.6 774.8,363.4 775.1,363.5 775.4,364.0 775.6,362.6 775.9,362.4 776.1,361.0 776.4,361.1 776.6,361.6 776.9,360.0 777.1,359.4 777.4,360.0 777.7,360.3 777.9,360.0 778.2,360.7 778.4,363.5 778.7,363.7 778.9,364.6 779.4,363.9 779.8,365.3 780.3,365.8 780.7,366.0 781.2,365.9 781.6,366.4 782.1,366.6 782.7,366.8 783.2,366.5 783.7,364.2 784.3,365.4 784.8,366.3 785.3,366.4 785.9,365.6 786.4,368.3 787.0,368.9 787.5,367.1 788.0,366.9 788.6,367.5 789.1,366.6 789.6,367.4 790.2,368.9 790.7,368.1 791.2,367.0 791.8,369.5 792.3,369.9 792.5,368.6 792.7,369.1 792.9,366.8 793.1,366.7 793.3,365.6 793.5,365.1 793.7,365.8 793.9,362.0 794.1,362.9 794.2,365.5 794.4,366.4 794.6,365.7 794.7,365.2 794.9,366.3 795.1,367.9 795.2,367.6 795.4,368.1 795.5,368.8 795.7,370.2 795.9,369.9 796.0,367.8 796.1,368.9 796.2,367.4 796.4,366.8 796.5,366.2 796.6,365.5 796.8,365.3 796.9,364.5 797.0,365.0 797.1,363.7 797.3,363.4 797.4,363.3 797.5,362.5 797.6,361.6 797.8,360.3 798.0,360.4 798.2,359.2 798.4,358.7 798.6,358.9 798.8,359.0 799.0,358.0 799.2,354.9 799.4,354.3 800.0,354.9 800.5,355.8 801.0,354.9 801.6,355.2 802.1,354.2 802.7,352.3 803.3,353.0 803.9,351.3 804.2,352.4 804.6,353.6 805.0,354.2 805.3,354.9 805.7,358.4 806.1,356.3 806.6,355.8 807.0,356.7 807.5,359.6 807.9,358.7 808.3,358.5 808.9,360.3 809.4,357.6 809.9,360.3 810.5,361.0 811.0,361.8 811.3,361.2 811.5,361.6 811.8,360.5 812.0,361.2 812.3,358.8 812.5,356.5 812.8,353.9 813.2,357.2 813.7,354.8 814.1,357.5 814.6,359.1 815.0,355.7 815.5,356.0 815.9,355.2 816.4,352.7 816.8,350.6 817.3,352.4 817.7,353.3 818.1,351.8 818.5,350.8 818.9,349.5 819.3,350.3 819.7,350.2 820.1,351.7 820.4,350.3 820.8,348.6 821.0,347.1 821.3,347.6 821.5,346.1 821.7,346.3 821.9,346.2 822.2,345.7 822.4,345.0 822.6,344.6 822.9,343.9 823.1,342.3 823.4,343.3 823.6,341.8 823.9,342.0 824.1,339.9 824.4,339.3 824.8,340.2 825.3,336.3 825.7,337.8 826.2,339.3 826.6,338.7 827.1,338.4 827.6,333.9 828.1,336.0 828.7,336.9 829.2,337.5 829.7,338.3 830.3,336.0 830.8,335.2 831.3,333.8 831.9,335.9 832.4,333.5 832.9,333.9 833.5,335.5 834.0,336.3 834.5,336.3 835.1,335.6 835.5,334.8 836.0,334.3 836.4,333.1 836.9,333.3 837.2,333.0 837.5,333.3 837.8,332.9 838.1,332.3 838.4,332.8 838.7,331.5 839.0,331.9 839.2,330.0 839.4,330.5 839.5,331.2 839.7,333.0 839.9,332.4 840.1,332.3 840.2,333.4 840.4,335.2 840.6,335.4 840.8,334.4 841.0,335.3 841.2,336.6 841.4,336.2 841.6,335.9 841.8,337.5 842.0,338.2 842.2,339.9 842.4,341.1 842.6,341.2 842.8,340.4 843.0,341.1 843.2,342.0 843.4,342.4 843.6,342.9 843.8,344.2 844.0,344.4 844.2,345.0 844.5,346.7 844.8,348.7 845.0,346.9 845.3,347.6 845.5,349.0 845.8,349.7 846.1,349.4 846.4,349.6 846.7,351.1 847.0,350.9 847.3,349.8 847.6,350.9 847.9,352.4 848.2,353.0 848.4,351.9 848.7,353.7 849.0,352.5 849.3,354.3 849.6,355.9 849.9,354.9 850.2,356.6 850.5,357.1 850.8,357.9 851.1,357.1 851.7,358.5 852.2,358.1 852.7,357.4 853.3,357.7 853.8,358.1 854.1,358.8 854.3,358.0 854.6,357.6 854.8,356.7 855.1,358.6 855.3,354.9 855.6,356.8 856.1,357.1 856.6,354.9 857.2,357.2 857.7,355.2 858.3,353.2 858.7,351.6 859.1,354.9 859.6,355.8 860.0,354.7 860.3,353.5 860.5,355.8 860.8,355.7 861.1,357.4 861.3,356.4 861.6,357.9 861.8,356.0 862.2,360.1 862.6,358.2 863.0,358.4 863.3,359.3 863.7,361.0 864.1,362.6 864.5,361.0 865.0,361.3 865.6,359.7 866.1,362.0 866.6,362.1 867.2,361.8 867.6,361.9 868.1,362.7 868.5,361.6 868.9,361.2 869.2,361.6 869.5,363.9 869.8,365.3 870.1,363.5 870.4,362.7 870.7,364.5 871.0,365.8 871.3,366.2 871.6,368.2 871.9,369.2 872.2,367.4 872.5,366.4 872.8,366.4 873.1,371.0 873.4,371.6 873.7,371.9 874.0,370.0 874.3,372.4 874.7,372.4 875.2,370.5 875.6,372.5 876.1,373.6 876.5,374.5 877.0,374.3 877.4,376.3 877.7,376.1 878.1,375.6 878.5,376.7 878.9,377.5 879.3,375.9 879.6,376.0 880.0,375.0 880.3,375.0 880.7,375.9 881.1,376.5 881.4,375.1 881.8,374.0 882.1,375.4 882.5,376.4 882.9,375.7 883.2,376.2 883.6,376.7 884.0,375.7 884.3,376.3 884.7,378.1 885.3,381.0 885.9,378.6 886.5,379.7 887.1,380.8 887.6,378.8 888.0,378.7 888.4,379.5 888.8,379.4 889.1,380.5 889.5,379.5 889.9,380.1 890.2,382.6 890.6,384.6 891.0,385.3 891.4,386.1 891.8,385.4 892.2,384.8 892.5,384.6 892.7,383.6 892.8,383.3 892.9,382.6 893.0,382.5 893.1,381.5 893.2,380.8 893.3,379.5 893.4,379.3 893.5,378.4 893.6,377.8 893.7,377.8 893.8,377.1 893.9,376.7 893.9,376.1 894.0,375.6 894.0,374.9 894.0,374.3 894.0,373.7 894.0,373.0 894.1,372.4 894.1,371.8 894.1,371.2 894.1,370.7 894.2,370.1 894.2,369.4 894.2,368.9 894.2,368.3 894.2,367.6 894.3,367.0 894.3,366.4 894.3,365.8 894.3,365.3 894.3,364.8 894.4,364.0 894.4,363.4 894.4,362.9 894.4,362.3 894.5,361.7 894.5,361.1 894.5,360.6 894.5,359.9 894.5,359.3 894.6,358.8 894.6,358.3 894.6,357.6 894.6,357.0 894.6,356.4 894.7,355.8 894.7,355.1 894.7,354.5 894.7,354.0 894.8,353.4 894.8,352.8 894.8,352.1 894.8,351.5 894.8,350.9 894.9,350.4 894.9,349.8 894.9,349.2 894.9,348.7 894.9,348.1 894.9,347.4 895.0,346.7 895.0,346.3 895.0,345.6 895.0,345.0 895.0,344.4 895.0,343.9 895.0,343.3 895.0,342.6 895.1,342.1 895.1,341.4 895.1,340.9 895.1,340.3 895.1,339.7 895.1,339.1 895.1,338.5 895.1,337.8 895.2,337.3 895.2,336.7 895.2,336.1 895.2,335.6 895.2,335.0 895.2,334.4 895.2,333.8 895.2,333.1 895.3,332.5 895.3,332.0 895.3,331.3 895.3,330.7 895.3,330.1 895.3,329.5 895.3,328.9 895.3,328.3 895.4,327.7 895.4,327.1 895.4,326.6 895.4,326.0 895.4,325.3 895.4,324.7 895.4,324.1 895.5,323.5 895.5,322.9 895.5,322.2 895.5,321.7 895.5,321.2 895.5,320.6 895.6,320.0 895.6,319.3 895.6,318.8 895.7,318.3 895.7,317.6 895.7,317.1 895.8,316.5 895.8,315.8 895.8,315.2 895.8,314.7 895.9,314.1 895.9,313.4 895.9,312.9 896.0,312.3 896.0,311.8 896.0,311.1 896.0,310.5 896.1,310.0 896.1,309.4 896.1,308.9 896.1,308.2 896.2,307.6 896.2,307.0 896.2,306.4 896.2,305.7 896.2,305.2 896.3,304.6 896.3,303.9 896.3,303.3 896.3,302.7 896.3,302.2 896.4,301.5 896.4,300.9 896.4,300.2 896.4,299.6 896.4,299.1 896.5,299.5 896.5,298.9 896.5,299.4 896.6,300.0 896.6,300.9 896.7,301.3 896.7,302.0 896.7,302.6 896.8,303.2 896.8,303.6 896.8,304.4 896.9,304.8 896.9,305.6 897.0,306.2 897.0,306.7 897.0,307.6 897.1,308.1 897.1,308.6 897.1,309.1 897.2,309.4 897.2,310.3 897.3,310.8 897.3,311.5 897.3,311.9 897.4,312.6 897.4,313.4 897.5,314.0 897.7,313.2 898.0,313.4 898.3,313.4 898.6,315.6 898.9,316.1 899.1,318.3 899.4,318.7 899.7,318.2 900.0,319.6 900.3,319.7 900.5,319.5 900.8,321.1 901.1,321.0 901.4,322.1 901.5,323.7 901.7,323.4 901.8,324.1 902.0,325.3 902.1,325.6 902.3,326.1 902.4,326.4 902.6,326.6 902.7,327.8 902.9,328.9 903.0,328.6 903.2,329.4 903.3,330.1 903.4,330.8 903.6,330.1 903.7,330.9 903.8,331.5 903.9,332.5 904.0,333.8 904.1,334.3 904.3,334.2 904.4,334.4 904.5,335.2 904.6,335.2 904.7,336.6 904.8,336.6 904.9,337.1 905.1,338.6 905.2,338.9 905.3,339.5 905.5,339.8 905.7,340.6 905.9,340.3 906.1,340.8 906.3,342.0 906.5,343.0 906.7,342.5 906.9,343.5 907.1,343.7 907.3,344.1 907.5,344.4 907.8,344.7 908.1,345.0 908.4,342.3 908.7,343.1 908.9,342.3 909.2,341.1 909.5,340.2 909.8,339.1 910.1,339.3 910.3,338.3 910.6,338.0 910.9,338.3 911.2,338.4 911.4,336.9 911.6,336.7 911.8,336.1 912.0,334.5 912.2,332.8 912.4,333.8 912.5,333.9 912.7,333.9 912.9,331.8 913.1,330.7 913.4,328.3 913.7,330.5 914.0,333.4 914.3,335.7 914.5,334.9 914.8,337.3 915.1,336.0 915.4,335.0 915.8,334.0 916.1,332.3 916.4,332.5 916.7,333.2 917.1,331.3 917.5,331.6 918.0,334.0 918.5,333.5 919.0,333.2 919.4,330.7 919.8,332.3 920.2,331.6 920.6,332.0 921.0,330.3 921.4,331.4 921.8,333.0 922.2,330.9 922.5,330.1 922.9,329.2 923.2,328.2 923.5,328.2 923.8,329.0 924.1,328.1 924.3,327.0 924.6,323.8 924.9,325.9 925.0,326.5 925.1,326.3 925.1,327.5 925.2,328.3 925.3,328.5 925.4,329.6 925.5,330.0 925.5,330.5 925.6,331.1 925.7,331.5 925.8,332.3 925.8,333.0 925.9,333.2 926.0,334.0 926.1,334.8 926.2,335.7 926.2,335.6 926.3,336.2 926.4,337.1 926.5,337.2 926.5,338.0 926.6,338.7 926.7,339.3 926.7,339.9 926.8,340.5 926.9,341.1 927.0,341.8 927.0,342.6 927.1,342.6 927.2,343.4 927.2,343.9 927.3,344.3 927.4,345.1 927.4,345.2 927.5,346.0 927.6,347.0 927.6,347.4 927.7,348.4 927.8,348.4 927.8,347.5 928.2,347.6 928.6,351.3 929.0,351.8 929.4,350.5 929.8,350.3 930.0,350.3 930.2,349.1 930.4,349.1 930.6,349.8 930.8,348.9 931.0,346.5 931.2,347.4 931.4,345.8 931.6,342.0 931.8,343.2 932.0,343.4 932.2,346.3 932.4,346.7 932.5,348.3 932.7,348.7 932.9,349.5 933.1,349.6 933.3,349.9 933.5,351.0 933.7,351.9 934.1,349.9 934.5,349.1 934.9,349.6 935.3,349.8 935.7,350.1 935.9,350.2 936.1,349.0 936.3,350.1 936.6,351.5 936.8,351.2 937.0,353.2 937.2,355.1 937.4,353.2 937.6,353.4 938.0,353.0 938.4,354.3 938.8,355.6 939.2,355.1 939.6,350.4 939.8,349.8 940.0,352.1 940.2,353.7 940.4,354.4 940.6,357.1 940.8,356.9 941.0,356.9 941.2,357.5 941.4,359.1 941.6,358.9 942.0,358.4 942.4,357.7 942.8,359.3 943.2,359.9 943.7,362.2 944.1,363.2 944.5,361.1 944.9,362.7 945.4,361.1 945.8,359.3 946.2,360.2 946.6,359.5 947.0,359.4 947.5,357.6 948.0,359.5 948.6,361.2 949.2,358.5 949.8,357.0 950.4,357.6 950.6,356.1 950.8,358.2 951.0,358.9 951.2,359.9 951.4,360.3 951.6,360.4 951.8,362.0 952.0,362.7 952.2,362.4 952.4,364.2 952.8,364.8 953.3,365.4 953.8,363.8 954.3,364.0 954.8,366.2 955.3,366.9 955.8,365.8 956.3,363.6 956.8,362.9 957.3,363.2 957.7,363.0 958.2,362.4 958.4,362.7 958.6,363.1 958.8,364.9 959.0,365.3 959.2,365.5 959.4,366.4 959.6,367.6 959.8,368.9 960.0,368.6 960.2,369.6 960.4,370.2 960.6,371.1 960.8,371.3 961.1,371.0 961.3,371.7 961.5,373.3 961.7,373.2 961.9,374.1 962.2,374.4 962.5,372.8 962.8,374.3 963.1,373.1 963.5,372.5 963.8,369.9 964.1,372.4 964.4,372.4 964.7,371.1 965.0,369.6 965.3,370.4 965.6,368.9 965.9,367.3 966.2,368.0 966.5,366.3 966.8,365.0 967.1,368.4 967.4,369.1 967.7,368.6 968.1,368.8 968.4,369.4 968.7,371.0 969.0,370.4 969.4,372.6 969.8,371.8 970.2,373.1 970.6,375.2 971.0,375.0 971.2,372.5 971.4,374.8 971.6,375.5 971.9,376.4 972.1,376.6 972.3,377.1 972.5,377.8 972.7,380.4 972.9,380.5 973.1,379.6 973.3,377.7 973.4,375.6 973.6,375.1 973.8,375.7 973.9,374.0 974.1,373.8 974.2,372.9 974.4,371.6 974.6,370.1 974.7,369.9 974.9,369.3 975.2,369.8 975.6,373.6 975.9,371.5 976.2,371.4 976.5,373.8 976.9,371.3 977.4,372.8 977.8,376.3 978.3,377.6 978.8,372.7 979.2,371.1 979.6,370.9 980.0,370.6 980.4,370.6 980.8,369.5 981.0,369.6 981.2,370.7 981.4,371.1 981.6,371.5 981.8,370.1 982.0,368.1 982.2,368.4 982.4,368.4 982.5,368.0 982.7,367.0 982.8,366.7 982.9,365.0 983.0,365.3 983.1,365.0 983.2,363.8 983.3,362.6 983.4,362.7 983.5,361.9 983.6,361.2 983.7,360.2 983.8,360.6 983.9,359.8 984.0,359.1 984.1,358.7 984.2,357.7 984.3,357.6 984.4,356.5 984.5,355.5 984.6,354.2 984.7,354.7 985.2,353.2 985.7,355.3 986.0,352.2 986.3,353.0 986.7,351.4 987.0,352.0 987.3,351.7 987.6,350.4 988.0,349.5 988.3,348.8 988.6,348.8 989.0,349.6 989.3,348.4 989.6,347.0 989.9,348.9 990.3,347.6 990.6,346.2 990.9,346.7 991.2,343.6 991.6,342.9 991.9,343.9 992.2,343.6 992.5,343.6 992.8,340.8 993.1,341.9 993.4,342.6 993.7,343.2 993.9,342.3 994.2,340.6 994.5,340.2 994.8,339.2 995.1,339.7 995.4,337.2 995.6,338.8 995.9,338.3 996.2,338.7 996.5,334.4 996.8,333.8 997.0,333.4 997.3,333.7 997.6,332.1 997.9,332.9 998.2,331.1 998.4,331.2 998.5,330.7 998.6,331.0 998.7,330.5 998.8,329.0 998.9,328.4 998.9,327.4 999.0,327.3 999.1,326.5 999.2,326.3 999.3,325.6 999.4,325.1 999.5,324.7 999.5,323.7 999.6,323.0 999.7,322.6 999.8,320.9 1000.0,322.1 1000.1,320.7 1000.3,319.8 1000.5,319.6 1000.6,318.2 1000.8,319.3 1001.0,318.1 1001.1,318.3 1001.2,319.7 1001.4,319.1 1001.5,320.2 1001.6,321.1 1001.8,321.1 1001.9,322.1 1002.0,322.8 1002.2,323.6 1002.3,323.4 1002.4,323.7 1002.5,325.3 1002.7,325.6 1002.8,326.2 1002.9,327.3 1003.1,328.4 1003.3,328.0 1003.4,328.1 1003.6,328.3 1003.8,328.6 1003.9,329.7 1004.1,330.5 1004.2,331.1 1004.4,332.8 1004.6,332.8 1004.7,333.3 1004.9,334.8 1005.2,335.1 1005.5,334.6 1005.7,335.7 1006.0,336.2 1006.3,337.2 1006.6,337.2 1006.9,336.5 1007.1,339.6 1007.3,338.4 1007.5,339.5 1007.6,339.7 1007.8,340.0 1008.0,342.0 1008.2,341.5 1008.3,340.2 1008.4,340.4 1008.4,339.6 1008.5,339.4 1008.6,338.7 1008.6,338.0 1008.7,337.0 1008.8,336.4 1008.9,336.0 1008.9,335.6 1009.0,335.4 1009.1,334.9 1009.1,334.1 1009.2,333.2 1009.3,332.5 1009.3,332.1 1009.4,331.9 1009.5,331.4 1009.5,330.5 1009.6,329.9 1009.7,329.1 1009.7,328.4 1009.8,327.5 1009.8,327.3 1009.9,326.3 1010.0,326.1 1010.0,325.7 1010.1,325.1 1010.2,324.4 1010.2,323.8 1010.3,323.0 1010.3,322.2 1010.4,321.9 1010.5,321.5 1010.5,320.9 1010.6,320.2 1010.6,319.6 1010.7,319.2 1010.8,318.4 1010.8,317.5 1010.9,316.9 1010.9,316.4 1011.0,315.8 1011.1,315.3 1011.1,314.8 1011.2,313.9 1011.2,312.9 1011.3,312.8 1011.4,312.5 1011.4,311.8 1011.5,311.3 1011.5,310.6 1011.6,309.8 1011.7,309.2 1011.7,308.7 1011.8,308.2 1011.8,307.4 1011.9,306.6 1012.0,306.3 1012.0,305.7 1012.1,304.8 1012.1,304.1 1012.2,303.6 1012.3,303.1 1012.3,302.3 1012.4,301.8 1012.4,301.4 1012.5,300.9 1012.6,300.2 1012.6,299.7 1012.7,299.4 1012.7,298.7 1012.9,297.6 1013.0,297.3 1013.2,297.9 1013.3,297.1 1013.4,296.9 1013.6,295.5 1013.7,295.1 1013.8,294.1 1014.0,294.0 1014.1,293.2 1014.5,293.0 1014.8,290.8 1015.1,291.0 1015.5,292.1 1015.6,293.7 1015.8,292.2 1016.0,291.9 1016.1,293.0 1016.3,293.8 1016.4,293.3 1016.6,295.4 1016.7,295.3 1016.9,295.3 1017.1,296.4 1017.3,295.9 1017.6,296.5 1017.9,296.9 1018.2,296.9 1018.5,298.6 1018.7,300.5 1019.0,300.9 1019.3,299.7 1019.6,300.4 1019.9,302.8 1020.1,302.5 1020.4,304.5 1020.7,302.5 1021.0,304.6 1021.1,303.8 1021.2,302.9 1021.3,303.0 1021.3,302.0 1021.4,301.8 1021.5,300.4 1021.6,300.1 1021.7,299.2 1021.8,298.6 1021.9,297.6 1022.0,297.0 1022.1,297.2 1022.2,296.4 1022.3,296.3 1022.4,296.3 1022.5,295.2 1022.5,293.8 1022.6,293.8 1022.7,293.3 1022.8,292.5 1022.9,292.3 1023.0,291.2 1023.1,291.1 1023.1,290.5 1023.2,290.0 1023.3,289.2 1023.4,288.3 1023.5,288.1 1023.6,287.5 1023.7,286.6 1023.8,286.1 1023.8,284.8 1023.9,284.1 1024.1,284.1 1024.3,283.9 1024.4,282.9 1024.6,282.2 1024.8,281.4 1025.0,280.1 1025.1,277.7 1025.3,277.9 1025.4,279.1 1025.5,281.1 1025.5,281.7 1025.6,282.0 1025.7,282.2 1025.8,283.4 1025.8,284.2 1025.9,284.2 1026.0,284.9 1026.1,285.4 1026.2,286.4 1026.2,287.0 1026.3,287.2 1026.4,288.0 1026.5,288.4 1026.6,289.6 1026.6,289.9 1026.7,290.5 1026.8,291.2 1026.9,291.7 1027.0,292.4 1027.1,292.6 1027.2,293.6 1027.2,294.4 1027.3,294.6 1027.4,295.4 1027.5,295.7 1027.6,296.1 1027.7,296.6 1027.8,297.5 1027.8,299.0 1028.2,298.3 1028.5,299.1 1028.9,299.7 1029.2,302.6 1029.4,299.5 1029.7,299.1 1029.9,298.1 1030.1,298.8 1030.3,298.0 1030.6,298.1 1030.8,297.3 1031.0,297.0 1031.2,296.5 1031.4,295.8 1031.6,295.0 1031.8,294.1 1032.0,293.4 1032.2,292.0 1032.4,290.9 1032.5,290.6 1032.7,291.6 1033.0,290.3 1033.3,289.5 1033.6,288.0 1033.9,287.3 1034.1,287.4 1034.4,286.5 1034.7,285.0 1035.0,285.8 1035.3,285.2 1035.5,287.2 1035.8,283.8 1036.1,283.7 1036.4,284.5 1036.7,282.8 1037.1,283.1 1037.5,282.9 1037.8,282.3 1038.2,282.4 1038.6,286.1 1038.8,284.0 1039.1,284.5 1039.3,282.4 1039.5,281.5 1039.7,279.9 1039.9,280.0 1040.2,280.6 1040.4,279.8 1040.6,279.9 1041.0,281.4 1041.4,281.2 1041.8,280.2 1042.2,280.7 1042.5,280.3 1043.0,278.6 1043.5,280.4 1044.0,280.2 1044.5,280.9 1044.8,277.7 1045.1,277.3 1045.4,278.2 1045.6,278.1 1045.9,277.9 1046.2,277.7 1046.5,277.3 1046.7,275.3 1046.9,274.3 1047.1,273.0 1047.3,273.8 1047.5,273.0 1047.6,271.9 1047.8,271.2 1048.0,270.2 1048.2,269.5 1048.4,268.3 1048.6,268.2 1048.7,268.3 1048.9,267.9 1049.1,266.5 1049.2,266.6 1049.4,265.7 1049.5,265.4 1049.7,264.6 1049.8,262.8 1050.0,262.8 1050.2,261.1 1050.3,264.1 1050.5,264.2 1050.6,265.4 1050.8,265.6 1050.9,265.4 1051.1,266.4 1051.2,267.7 1051.4,267.8 1051.5,269.3 1051.7,269.4 1051.8,270.6 1052.0,270.0 1052.1,268.7 1052.3,269.9 1052.4,268.3 1052.6,267.0 1052.7,267.0 1052.9,266.7 1053.1,266.9 1053.2,266.2 1053.4,266.7 1053.5,266.0 1053.7,264.3 1053.8,264.0 1054.0,263.9 1054.2,265.1 1054.3,261.7 1054.5,260.9 1054.7,261.5 1055.0,265.3 1055.2,264.4 1055.4,264.4 1055.6,264.7 1055.8,264.2 1056.1,266.6 1056.3,266.9 1056.6,265.2 1056.9,266.7 1057.3,265.5 1057.6,265.8 1057.9,263.6 1058.2,262.8 1058.4,263.3 1058.6,263.3 1058.7,263.7 1058.9,262.6 1059.1,261.5 1059.2,260.0 1059.4,259.0 1059.5,259.3 1059.7,260.5 1059.9,259.6 1060.0,257.8 1060.2,256.4 1060.5,256.0 1060.8,256.2 1061.2,255.8 1061.5,256.0 1061.8,255.8 1062.2,253.9 1062.5,252.8 1062.9,253.4 1063.3,253.8 1063.7,251.7 1063.9,253.4 1064.1,254.4 1064.2,254.3 1064.4,255.0 1064.6,254.9 1064.8,257.2 1064.9,256.6 1065.1,257.2 1065.3,257.5 1065.5,256.9 1065.7,258.1 1065.9,259.5 1066.1,261.1 1066.3,260.5 1066.5,261.6 1066.7,262.7 1066.9,263.0 1067.1,263.0 1067.2,264.9 1067.3,264.9 1067.5,265.7 1067.6,265.8 1067.7,266.6 1067.9,266.6 1068.0,267.5 1068.2,267.9 1068.3,268.7 1068.4,269.0 1068.5,270.1 1068.6,270.4 1068.7,270.7 1068.8,271.4 1068.9,272.2 1069.0,272.7 1069.1,273.6 1069.2,273.9 1069.2,274.1 1069.3,275.1 1069.4,275.8 1069.5,276.6 1069.6,277.0 1069.9,277.9 1070.2,277.8 1070.4,280.6 1070.7,280.1 1071.0,278.1 1071.5,279.0 1072.0,279.9 1072.5,278.9 1072.9,278.2" stroke="#006ac3" stroke-width="4.4"/>
<path id="gl" d="M293.3,376.7 293.7,383.0 293.9,377.5 294.7,381.2 295.2,378.8 295.5,375.0 295.9,374.0 296.3,378.6 296.6,373.1 296.9,377.2 297.2,381.0 297.5,377.5 297.7,382.1 298.5,376.1 298.5,383.6 298.8,377.9 299.5,382.6 299.4,380.1 299.6,383.5 300.1,384.9 300.4,378.8 300.9,383.7 301.4,381.2 301.9,384.3 302.3,382.4 302.6,378.9 303.0,378.9 303.0,378.6 303.2,379.5 303.6,379.0 303.5,378.2 303.6,379.0 303.7,377.4 303.9,376.6 304.2,376.3 304.1,377.1 304.3,374.2 304.2,373.7 304.6,373.8 304.6,374.9 304.8,377.9 304.8,375.2 305.2,372.9 305.6,373.8 305.9,376.1 306.2,377.6 306.6,372.9 306.7,375.1 307.2,375.2 307.5,371.7 307.7,373.0 308.0,377.8 308.0,377.0 308.5,376.6 308.8,375.7 308.7,380.3 309.3,377.6 309.7,379.2 309.5,377.1 309.5,379.9 310.0,377.5 310.2,377.0 310.1,378.2 310.4,377.4 310.7,376.4 310.7,376.0 310.6,376.2 311.0,374.9 311.1,374.1 311.3,372.8 311.3,373.8 311.2,373.0 311.2,372.7 310.9,372.2 311.5,370.6 311.1,370.3 311.2,369.3 311.4,369.3 311.4,368.6 311.6,368.5 311.5,367.9 311.4,366.2 311.7,365.9 311.6,365.8 311.7,365.7 311.2,364.6 311.7,363.8 311.7,365.1 311.5,363.9 311.8,362.4 311.9,362.7 311.8,362.1 311.8,360.6 312.1,361.3 312.0,360.9 311.6,359.7 312.0,359.9 312.1,360.5 311.9,361.3 312.0,358.0 312.1,359.4 312.3,359.2 312.4,360.4 312.5,360.7 312.7,362.8 313.0,361.4 313.0,361.7 313.0,363.2 313.0,363.2 313.2,364.9 313.4,365.0 313.4,365.3 313.5,365.6 313.6,367.3 313.5,367.9 314.2,366.8 314.3,365.2 314.8,366.8 314.8,369.1 315.1,369.7 315.3,369.6 315.3,370.0 315.7,369.7 315.7,370.8 315.9,371.3 315.9,371.5 316.1,372.1 315.6,373.8 316.1,374.2 315.9,372.6 316.0,373.6 316.0,372.9 316.1,376.1 316.3,375.4 316.1,375.7 316.2,376.2 316.2,377.4 316.2,378.6 316.1,378.3 316.2,379.0 316.4,378.2 316.4,379.5 316.6,381.3 316.9,380.9 316.5,380.7 316.8,381.2 316.7,382.8 317.1,382.8 317.1,384.2 317.5,383.6 317.5,382.6 317.5,385.7 317.7,384.8 317.9,385.0 317.9,386.4 317.9,386.6 317.9,386.7 318.3,388.3 318.5,385.0 318.6,388.0 319.0,389.4 318.8,391.0 319.2,390.4 319.1,389.7 319.3,390.6 319.3,393.1 319.4,390.5 319.5,392.2 319.9,391.4 320.0,390.7 320.2,392.7 320.2,394.3 320.6,394.9 321.1,396.8 321.4,396.9 321.5,394.7 322.0,397.5 321.9,394.8 322.3,392.9 322.4,396.3 322.2,393.8 322.3,394.0 322.6,393.7 322.9,393.3 323.0,392.6 322.9,391.9 323.2,391.5 323.5,390.5 323.6,388.6 324.1,388.6 323.8,389.1 324.2,387.3 324.5,387.4 324.7,390.0 324.9,385.5 325.2,391.4 325.4,386.9 325.8,387.2 326.0,386.5 326.1,385.5 326.3,383.4 326.5,384.2 326.6,384.2 326.7,383.7 326.7,381.8 326.7,383.4 326.9,382.2 326.8,382.3 327.1,381.1 326.9,381.4 327.3,379.7 327.6,378.4 327.6,378.1 327.5,379.1 327.7,377.7 327.7,375.9 327.7,378.5 327.9,380.2 327.9,378.2 328.1,379.1 328.0,376.9 328.2,378.1 328.4,379.1 328.5,378.9 328.5,380.1 328.7,380.2 328.8,381.4 328.7,381.9 329.0,381.9 328.9,382.1 329.0,382.3 328.9,383.3 329.3,383.7 329.4,385.1 329.6,383.0 329.7,384.9 329.7,384.4 329.8,386.7 329.6,386.0 330.2,386.7 330.3,387.5 330.6,386.2 330.7,387.9 330.9,386.4 331.0,390.1 331.0,388.0 331.1,387.6 331.2,386.5 330.8,386.6 330.9,386.5 330.8,385.9 331.2,383.8 331.1,384.1 331.6,383.6 331.4,383.8 331.6,383.1 331.3,381.8 331.6,382.5 331.6,381.0 331.8,380.5 331.8,380.4 332.1,380.6 331.9,380.6 332.0,380.6 332.0,379.0 332.0,378.1 332.1,377.5 332.2,375.6 332.3,377.4 332.1,377.1 332.3,375.0 332.3,373.7 332.8,374.1 332.6,372.9 332.7,374.6 333.2,375.9 333.2,372.9 333.6,379.7 333.8,378.1 333.8,376.6 334.0,375.2 334.2,380.6 334.4,378.8 334.4,381.1 334.8,378.1 334.9,381.4 335.4,386.5 335.5,385.3 335.9,378.5 336.4,378.6 336.5,375.8 337.0,378.8 337.2,381.3 337.0,382.0 337.2,381.3 337.1,381.1 337.2,381.4 337.5,382.6 337.4,382.6 337.3,383.6 337.7,385.1 337.4,383.7 337.5,384.8 337.5,385.3 337.7,385.4 337.7,387.6 337.7,386.8 337.8,387.6 338.0,387.4 337.9,388.8 338.0,387.8 338.1,388.9 338.0,390.0 338.1,389.9 338.2,390.5 338.2,391.5 338.3,392.0 338.5,392.4 338.6,393.7 338.4,391.9 338.6,394.2 338.6,394.1 339.0,392.9 338.5,394.2 338.7,394.8 338.9,394.6 338.8,393.2 339.0,393.1 338.9,393.1 339.4,392.6 339.0,391.9 339.1,391.3 339.3,391.4 339.2,389.8 339.4,389.1 339.5,388.9 339.7,388.7 339.6,387.8 339.8,388.6 339.7,386.3 339.8,387.0 339.9,387.4 340.1,385.3 340.1,384.4 340.0,384.4 340.1,384.6 340.1,384.6 340.1,382.9 340.4,382.9 340.3,383.1 340.6,381.5 340.9,380.9 340.6,380.7 340.7,379.1 340.5,379.9 340.8,378.9 340.8,378.3 341.2,376.2 341.1,379.4 341.6,376.4 341.9,378.2 341.9,375.6 342.2,376.4 342.5,376.9 342.6,377.1 342.8,374.1 343.0,375.1 343.5,374.0 343.5,373.3 343.5,371.0 343.8,372.3 343.8,371.1 344.1,371.2 343.7,369.6 344.0,369.7 344.2,370.0 344.5,369.0 344.4,368.0 344.1,370.3 344.6,368.6 344.7,366.9 344.8,367.3 344.9,367.7 345.3,367.1 345.2,364.9 345.2,364.0 345.5,364.8 345.8,362.0 345.7,363.2 346.3,363.0 346.2,363.2 346.4,364.3 346.8,362.6 346.9,363.3 347.2,360.2 347.1,359.1 347.6,359.6 347.6,359.0 347.8,359.2 347.8,358.0 348.1,358.6 348.2,357.9 348.4,356.9 348.9,355.7 348.4,357.1 348.5,356.7 349.2,353.7 348.9,354.4 349.4,354.4 349.1,353.8 349.1,352.3 349.6,351.5 349.4,351.8 349.5,350.2 349.6,350.9 349.7,350.3 349.7,349.1 349.6,349.4 349.8,348.3 349.8,348.2 349.9,348.5 349.9,346.6 350.4,346.2 350.2,347.6 350.3,346.1 350.4,346.0 350.5,346.2 350.6,344.0 350.8,343.9 350.7,344.6 350.8,342.5 350.8,343.4 350.9,341.4 351.0,342.3 351.0,341.9 351.1,340.4 351.3,340.0 351.2,339.0 351.1,339.9 351.7,338.6 351.6,338.6 351.5,337.9 351.5,335.4 351.4,336.4 351.8,337.2 351.7,334.6 351.6,334.8 351.6,335.9 352.0,333.5 352.1,333.9 352.4,333.2 352.3,332.7 352.5,331.8 352.5,332.0 352.6,330.7 352.8,330.4 352.9,327.8 353.0,329.7 353.2,328.6 353.5,328.1 354.0,327.7 354.5,328.9 354.6,330.2 354.9,324.8 355.4,332.2 355.8,324.8 356.6,328.2 356.8,323.7 357.3,328.0 357.7,330.4 358.0,322.2 358.1,327.1 358.0,324.9 358.4,323.7 358.4,324.3 358.3,324.1 358.7,324.9 358.7,324.3 358.9,322.2 359.2,322.5 359.1,322.8 358.8,320.9 359.2,318.0 359.6,318.9 360.0,319.3 360.5,317.4 360.5,319.1 360.8,320.7 361.1,316.6 361.4,315.9 361.5,316.4 361.6,316.8 361.4,315.5 361.7,314.6 361.7,315.4 361.9,314.4 362.0,313.5 362.0,314.1 362.1,312.8 362.3,312.3 362.1,311.3 362.1,311.1 362.3,311.2 362.4,310.3 362.5,310.4 362.5,310.5 362.7,309.7 362.8,308.0 362.7,307.5 363.0,308.5 363.3,307.2 362.9,306.4 363.2,306.6 362.8,305.5 363.0,304.5 363.3,304.4 363.0,304.1 363.3,303.7 363.5,303.6 363.3,301.4 363.4,301.4 363.6,302.3 363.4,301.8 363.5,301.2 363.6,300.3 363.6,300.6 363.4,299.1 363.5,299.4 363.9,297.8 363.6,298.7 363.8,298.5 363.9,296.4 364.0,296.5 364.0,297.6 363.8,295.0 363.8,295.4 363.9,293.7 363.8,293.8 363.7,294.2 363.8,292.8 363.9,292.6 363.8,293.9 363.7,291.5 363.9,290.4 364.0,290.5 363.7,290.3 364.1,290.2 363.7,289.5 363.9,288.1 364.1,287.9 363.8,288.1 363.9,286.9 364.0,286.4 363.8,285.2 364.4,284.6 364.3,285.8 364.1,285.0 364.2,282.8 363.9,283.4 364.0,283.1 364.3,283.1 364.0,281.1 364.3,282.7 364.4,280.2 364.4,280.0 364.4,280.4 364.3,280.0 364.3,278.7 364.8,278.6 364.4,278.0 364.2,277.5 364.1,276.5 364.3,276.6 364.4,276.2 364.4,276.0 364.6,275.4 364.4,274.6 364.4,274.1 364.5,273.8 364.5,272.8 364.7,271.6 364.8,271.8 364.6,271.8 364.7,271.4 364.7,272.2 364.6,271.9 364.9,270.5 364.6,269.9 365.0,269.5 364.8,267.2 364.9,268.4 365.0,268.6 364.8,265.6 364.9,265.9 365.4,265.5 364.8,265.0 364.7,264.2 365.0,264.1 365.1,264.7 364.9,263.6 364.9,262.2 365.3,261.7 365.6,262.3 365.1,260.6 365.3,261.8 365.4,260.9 365.5,260.7 365.3,258.3 365.3,259.8 365.2,257.6 365.4,257.5 365.2,256.6 365.4,256.6 365.5,256.8 365.3,253.9 365.6,255.5 365.7,255.0 365.7,254.9 366.0,253.4 365.7,253.3 365.3,255.0 366.0,252.5 365.7,252.4 365.9,251.3 365.9,250.9 365.8,249.5 365.7,249.8 366.0,248.4 365.7,248.7 365.8,247.8 365.8,248.3 366.0,248.1 366.1,247.1 365.8,246.4 366.0,245.3 365.9,244.9 365.9,243.8 366.3,243.8 366.3,244.1 366.2,242.9 366.2,243.9 366.3,241.8 366.3,241.8 366.1,241.6 366.4,239.6 366.2,241.0 366.1,241.2 366.3,239.7 366.3,239.1 366.5,239.3 366.2,238.2 366.6,237.9 366.5,235.9 366.6,235.7 366.6,234.7 366.7,237.3 366.6,234.1 366.4,234.8 366.6,234.3 366.3,233.0 366.8,233.0 366.8,232.1 367.0,230.5 366.7,231.9 366.8,230.9 366.6,230.2 366.9,228.9 367.0,228.6 367.0,229.1 367.0,227.3 367.0,227.0 367.0,226.6 367.1,225.9 366.8,226.4 367.1,226.6 367.3,225.2 367.0,223.8 367.0,223.7 367.0,224.6 367.0,224.1 367.3,222.3 367.0,222.2 367.5,220.4 367.4,220.9 367.2,219.6 367.6,219.0 367.0,220.7 367.3,218.6 367.3,219.6 367.5,218.9 367.4,216.7 367.5,215.9 367.6,217.2 367.6,216.4 367.8,217.0 367.8,215.2 367.8,214.0 367.8,213.8 367.7,214.8 367.8,214.0 367.4,212.1 367.8,213.3 367.8,211.1 367.8,210.6 367.7,210.9 367.5,210.6 367.8,210.4 368.1,209.6 367.7,207.8 368.0,208.6 367.9,207.0 367.7,207.1 368.2,206.4 368.1,206.0 367.9,204.3 367.9,205.6 368.0,203.8 368.4,205.3 368.1,203.8 368.4,201.7 368.1,203.2 368.2,202.0 368.2,200.9 368.5,200.8 368.4,199.9 368.4,200.0 368.3,199.5 368.3,199.0 368.3,198.7 368.3,197.9 368.3,197.5 368.3,196.9 368.3,196.6 368.2,196.0 368.2,195.5 368.2,194.9 368.2,194.5 368.2,193.9 368.2,193.4 368.2,193.0 368.2,192.6 368.2,191.9 368.2,191.4 368.2,190.9 368.1,190.5 368.1,189.9 368.1,189.5 368.1,188.9 368.1,188.5 368.1,187.8 368.1,187.4 368.1,186.9 368.1,186.5 368.1,185.9 368.1,185.4 368.0,184.9 368.0,184.4 368.0,183.9 368.0,183.3 368.0,182.8 368.0,182.3 368.0,182.0 368.0,181.3 368.0,180.9 368.0,180.4 367.9,179.9 367.9,179.5 367.9,178.8 367.9,178.2 367.9,177.9 367.9,177.2 367.9,176.8 367.9,176.3 367.9,175.8 367.9,175.3 367.9,174.9 367.8,174.3 367.8,173.8 367.8,173.4 367.8,172.8 367.8,172.2 367.8,171.8 367.8,171.3 M368.0,121.9 368.0,122.4 368.0,122.9 368.0,123.4 368.0,123.9 368.0,124.4 368.0,124.9 368.0,125.4 368.0,125.9 368.0,126.4 368.0,126.9 368.0,127.4 368.0,127.9 368.0,128.4 368.0,128.9 368.0,129.4 368.0,129.9 368.0,130.4 368.0,130.9 368.0,131.4 368.0,131.9 368.0,132.4 368.0,132.9 368.0,133.4 368.0,133.9 368.0,134.4 368.0,134.9 368.0,135.4 368.0,135.9 368.0,136.4 368.0,136.9 368.0,137.5 368.0,138.0 368.0,138.5 368.0,139.0 368.0,139.5 368.0,140.0 368.0,140.5 368.0,141.0 368.0,141.5 368.0,142.0 368.0,142.5 368.0,143.0 368.0,143.5 368.0,144.0 368.0,144.5 368.0,145.0 368.0,145.5 368.0,146.0 368.0,146.5 368.0,147.0 368.0,147.5 368.0,148.0 368.0,148.5 368.0,149.0 368.0,149.5 368.0,150.0 368.0,150.5 368.0,151.0 368.0,151.5 368.0,152.0 368.0,152.8 368.0,152.5 368.0,153.7 368.2,154.7 368.4,154.2 368.6,155.4 368.8,153.3 369.0,156.4 369.2,156.5 369.4,154.3 369.7,157.4 369.9,158.2 370.1,158.2 370.3,157.2 370.5,159.9 370.7,159.5 370.9,162.7 371.1,160.2 371.4,159.9 371.4,161.0 371.4,162.1 371.4,162.1 371.4,162.6 371.4,163.1 371.4,163.6 371.4,164.1 371.4,164.6 371.4,165.1 371.4,165.6 371.4,166.1 371.4,166.6 371.4,167.1 371.4,167.6 371.4,168.1 371.4,168.6 371.4,169.1 371.4,169.6 371.4,170.1 371.4,170.6 371.4,171.1 371.4,171.6 371.4,172.1 371.4,172.6 371.4,173.1 371.4,173.6 371.4,174.1 371.4,174.6 371.4,175.0 371.4,175.5 371.4,176.0 371.4,176.5 371.4,177.1 371.4,177.3 371.4,177.3 371.5,178.6 371.4,177.9 371.4,179.0 371.7,179.7 371.7,179.6 371.6,180.1 371.9,182.6 371.9,180.9 371.8,181.6 372.1,182.8 372.1,183.3 372.2,184.2 372.5,184.6 372.3,185.4 372.3,184.6 372.5,184.4 372.4,186.5 372.4,187.0 372.6,187.0 372.8,187.9 372.8,188.4 372.8,187.7 372.7,188.8 372.4,189.9 372.6,190.7 372.4,192.1 371.8,192.9 371.7,189.5 371.3,195.7 371.0,192.6 370.9,192.1 371.0,193.5 370.4,192.6 370.3,197.4 370.2,191.6 369.9,193.2 369.7,196.0 369.6,195.8 369.4,197.4 368.9,197.4 368.9,199.7 368.6,195.4 368.7,198.0 367.8,198.5 367.7,199.4 367.6,199.3 367.6,199.9 367.8,201.3 368.2,199.1 368.3,199.1 368.7,197.5 369.4,201.8 369.4,196.7 369.7,202.7 370.2,200.5 370.3,202.6 370.6,205.4 370.9,202.6 371.3,208.8 371.8,205.1 371.8,205.2 372.6,205.5 372.6,209.3 373.0,206.3 373.2,207.2 374.0,208.1 373.4,207.7 372.9,207.9 372.6,206.2 372.6,206.8 372.2,206.6 371.5,205.7 371.2,210.2 370.9,208.9 370.6,211.0 370.5,209.7 370.0,212.0 369.5,210.7 369.5,210.2 369.0,211.6 368.6,213.9 368.2,212.9 367.8,215.5 367.9,213.6 368.3,218.0 368.6,216.0 369.2,211.6 369.5,213.5 370.1,214.0 370.1,209.2 370.8,211.5 371.3,210.7 371.5,211.2 372.2,214.5 372.5,210.0 372.8,208.8 373.2,211.0 373.5,208.0 373.2,210.2 372.8,210.7 372.9,205.8 372.4,213.5 372.1,211.6 371.4,212.1 371.5,213.4 370.7,216.3 370.7,211.7 370.4,214.3 370.1,216.8 369.8,218.7 369.5,216.2 369.0,216.2 368.9,216.4 368.4,220.0 368.2,217.3 368.0,216.9 367.4,218.4 368.0,218.0 368.3,222.9 368.5,222.5 368.8,217.9 369.4,217.3 369.6,223.1 370.3,221.3 370.4,220.0 371.0,219.1 371.3,221.0 371.6,222.2 371.8,219.6 372.5,222.9 373.0,221.8 373.2,222.7 373.7,222.6 373.2,224.3 373.0,221.9 372.6,228.2 372.2,222.9 372.0,226.2 371.9,221.8 371.3,226.3 370.9,224.0 370.5,229.7 370.3,230.2 369.8,224.5 369.5,230.2 369.0,226.1 368.5,227.9 368.3,226.5 368.8,227.5 368.9,226.9 369.6,226.1 369.9,230.2 370.4,228.6 370.8,225.2 371.3,234.8 371.5,230.7 372.1,231.9 372.4,229.1 373.0,229.6 373.4,232.9 373.8,232.9 374.0,229.3 374.5,233.1 374.5,234.1 374.4,233.9 374.5,234.4 374.5,234.2 374.3,235.1 374.2,236.4 374.1,237.0 373.9,236.3 374.1,237.9 373.9,238.8 373.9,239.4 374.0,239.5 373.9,239.8 373.6,239.7 373.7,240.1 373.6,238.5 373.8,242.3 374.6,238.6 375.0,236.1 375.2,244.6 376.0,241.8 376.0,245.2 376.5,244.8 377.0,241.0 377.1,244.4 377.7,243.0 378.0,247.1 378.3,244.3 377.7,246.4 378.2,246.2 377.6,245.7 377.9,246.9 377.8,248.1 377.6,248.0 377.1,248.9 377.5,249.5 377.2,249.5 377.2,250.3 376.8,250.1 376.8,250.3 376.8,252.0 376.8,249.9 377.1,248.4 377.6,252.7 378.2,248.6 378.4,252.3 379.0,253.8 379.7,254.4 379.7,258.7 380.5,250.5 380.9,253.7 380.4,253.9 380.2,254.3 380.0,254.3 379.6,254.4 379.8,256.0 379.4,255.5 379.3,253.7 379.1,256.1 378.7,261.1 378.5,257.1 378.4,254.5 378.2,257.2 378.2,257.7 378.3,259.4 378.4,257.4 378.4,257.0 378.3,257.4 378.6,256.7 378.8,255.2 378.9,254.9 378.5,254.8 379.0,254.2 378.8,253.4 379.2,253.3 379.0,252.8 379.1,251.4 379.1,252.1 379.1,250.7 379.5,251.0 379.5,249.6 379.4,249.2 379.4,249.3 379.6,248.9 379.8,248.2 380.1,247.4 379.8,246.7 379.8,246.4 380.1,246.1 380.0,245.7 380.4,245.2 380.4,246.1 380.8,244.3 380.9,243.6 381.1,244.1 381.2,243.7 381.2,241.7 381.5,239.3 381.7,240.2 382.0,239.7 382.0,241.4 382.2,238.1 382.0,240.1 382.3,238.8 382.5,236.6 382.6,236.7 382.6,237.1 382.6,236.0 382.7,236.0 383.3,236.1 382.9,236.0 382.8,235.8 383.0,234.3 383.0,233.3 383.2,233.9 382.9,232.6 383.5,233.1 383.4,232.0 383.2,231.1 383.6,230.2 383.5,231.8 383.8,230.7 383.7,229.3 383.8,227.6 383.8,229.3 383.7,227.8 383.9,228.9 383.9,230.8 383.9,230.9 383.9,232.0 384.3,231.2 384.1,232.2 384.4,232.6 384.5,233.4 384.3,232.5 384.7,234.3 384.3,233.9 384.8,234.0 384.5,235.0 384.7,236.2 384.7,236.4 384.8,238.2 384.8,237.4 384.6,238.5 384.3,239.8 384.0,239.3 383.9,240.6 384.0,239.7 383.6,240.6 383.5,240.5 383.4,239.8 383.5,241.2 383.0,241.2 382.7,241.6 382.6,243.5 382.8,243.6 383.3,243.1 383.4,243.6 383.7,240.8 384.1,241.2 384.2,243.9 384.4,246.7 384.8,245.9 385.1,245.5 385.0,247.6 384.8,246.6 384.4,247.1 384.5,247.9 384.1,250.4 383.8,248.2 383.6,248.7 383.3,249.5 383.5,250.2 383.1,250.0 382.6,250.3 382.3,251.0 382.8,252.7 383.1,251.7 383.8,255.8 384.2,255.8 384.5,252.9 384.7,250.3 385.0,251.5 385.4,256.8 385.6,252.6 386.4,253.9 386.3,256.3 386.4,256.4 386.3,257.6 386.5,258.8 386.4,258.0 386.5,258.2 386.4,260.2 386.5,259.4 386.4,261.3 386.6,261.8 386.4,260.9 386.5,261.3 386.7,261.7 386.8,261.9 386.7,262.9 386.6,262.7 386.8,264.3 386.6,263.8 387.0,263.6 386.7,265.6 386.7,265.7 386.8,266.8 386.9,266.6 386.7,266.1 386.8,267.3 386.9,266.6 386.9,268.1 386.9,270.4 387.1,269.2 387.3,269.5 387.0,271.1 386.7,270.2 387.0,271.6 387.1,272.4 387.4,272.1 387.3,273.4 387.5,273.9 387.7,274.4 387.6,274.5 387.8,276.0 387.8,275.1 387.8,277.3 388.0,276.6 388.1,277.9 387.8,277.0 388.4,278.9 388.4,279.3 388.1,278.4 388.3,278.5 388.4,279.6 388.5,279.1 388.6,278.8 388.8,281.4 388.6,281.9 388.8,282.0 388.7,283.1 388.9,282.9 389.0,283.2 389.0,283.9 389.3,285.7 389.5,286.0 389.3,287.0 389.3,284.4 389.3,286.0 389.3,288.1 389.5,287.8 389.4,288.6 389.5,287.9 390.0,288.8 390.0,289.3 389.9,289.7 390.2,289.8 390.3,291.9 390.3,291.2 390.6,291.9 390.3,292.4 390.5,294.3 390.4,292.9 390.9,295.0 391.0,294.8 390.9,295.2 390.8,294.6 391.0,296.7 391.0,295.7 391.1,297.7 391.0,298.0 391.1,298.4 391.0,296.0 391.3,299.5 391.3,299.8 391.2,300.3 391.4,300.8 391.5,302.4 391.4,302.1 391.5,302.2 391.6,303.6 391.7,304.5 391.4,303.6 391.5,304.5 391.5,303.5 391.4,304.8 391.8,306.3 391.8,306.2 391.8,305.6 391.7,305.9 391.9,307.7 391.9,307.5 392.1,308.1 392.0,308.4 392.2,309.0 392.1,311.3 391.9,310.0 392.2,310.4 391.9,309.5 392.2,309.8 391.7,309.8 391.7,309.0 392.0,306.2 391.9,305.8 392.0,307.8 391.7,307.1 391.8,306.3 391.5,303.8 391.2,304.5 391.7,304.1 391.5,303.0 391.3,301.6 391.7,302.2 391.3,302.9 391.8,304.7 391.4,304.1 391.5,304.1 391.8,304.9 391.9,305.5 391.7,305.8 391.8,306.2 391.7,307.1 392.0,308.1 391.7,307.4 391.7,308.3 392.0,309.4 391.8,309.2 392.0,310.6 392.0,308.9 392.2,311.1 392.3,310.8 392.1,313.5 392.5,311.1 392.8,313.3 392.9,313.6 393.0,312.5 393.2,313.5 393.3,316.2 393.5,314.7 394.1,315.9 394.1,315.1 394.5,315.9 394.7,316.7 395.0,316.5 395.1,318.1 395.5,314.7 395.5,315.0 395.8,316.6 395.9,317.0 396.0,313.8 396.3,313.2 396.2,313.2 396.7,313.5 396.9,316.9 397.2,312.7 397.5,314.3 398.3,313.1 398.7,313.8 398.8,313.5 399.3,312.6 399.6,312.3 399.8,312.8 400.1,313.9 400.3,315.1 400.4,315.5 400.1,315.9 400.7,317.5 400.9,318.0 400.7,317.7 401.0,317.1 401.1,318.5 400.9,320.2 401.0,319.5 401.2,317.9 401.0,318.5 400.7,317.6 400.4,319.1 399.9,321.3 399.3,321.0 399.2,321.1 398.6,320.0 398.4,322.5 397.9,321.5 397.6,321.9 397.4,323.8 397.0,328.2 396.8,324.2 396.4,327.2 396.4,325.3 395.8,325.8 396.5,330.0 396.9,324.9 397.1,329.2 397.6,325.4 398.1,329.8 398.7,329.8 399.1,328.4 399.3,330.0 399.9,329.3 400.2,329.0 400.9,327.7 401.6,330.2 401.5,328.9 401.8,328.6 401.9,331.0 402.1,329.7 402.3,329.9 402.2,331.7 402.6,330.8 402.7,330.6 403.0,336.4 403.1,332.7 403.2,332.2 403.2,335.9 403.7,333.8 403.7,333.4 404.0,336.7 404.5,336.8 404.6,332.2 404.5,337.0 404.8,336.2 405.3,338.5 405.2,339.3 405.5,339.3 405.8,338.1 406.1,339.0 406.2,338.3 406.5,340.4 406.6,341.5 406.9,342.2 406.7,342.4 407.0,344.1 407.5,343.9 407.3,343.1 407.6,342.5 408.0,344.4 408.2,345.1 408.3,345.1 408.2,345.0 408.3,346.2 408.2,346.1 408.6,347.1 408.7,347.9 408.4,347.9 408.7,347.6 408.7,350.3 408.9,349.3 409.2,351.0 409.2,350.5 409.2,352.3 409.4,351.2 409.7,354.9 410.3,354.0 410.6,351.0 411.3,354.0 411.5,360.7 412.3,353.6 412.4,350.7 412.7,352.6 413.4,356.8 413.9,352.5 414.3,357.7 414.7,352.8 414.7,352.8 414.2,353.6 414.3,354.0 414.3,354.4 414.0,353.6 414.0,356.4 413.8,355.7 413.9,356.4 413.4,356.2 413.2,358.3 413.2,357.6 413.3,357.9 413.2,358.0 413.1,358.4 412.9,358.9 413.2,358.0 413.5,361.9 413.8,359.1 414.0,359.9 414.7,365.3 414.7,361.5 414.9,364.1 415.2,360.7 415.4,360.7 415.9,359.8 416.5,365.2 417.0,359.4 417.2,369.3 417.6,367.4 418.2,366.6 418.4,367.9 418.7,363.1 419.0,361.6 418.9,362.8 419.4,362.1 419.7,363.0 419.8,364.0 419.9,362.7 420.4,360.1 420.4,362.3 420.6,363.9 421.2,360.0 421.0,360.1 421.2,359.4 421.7,361.9 421.7,363.2 421.9,358.9 422.0,361.0 422.3,363.4 422.4,362.1 422.4,363.7 422.8,364.9 422.6,364.8 423.0,364.8 423.1,363.9 423.3,367.6 423.6,367.7 423.9,366.4 423.7,366.0 424.4,365.8 424.5,362.0 424.7,365.0 424.9,363.8 425.0,360.6 425.3,365.4 425.7,363.0 425.7,363.4 426.2,363.6 426.0,360.9 426.5,361.6 426.3,361.7 426.6,360.4 426.6,360.1 426.9,358.3 426.9,358.3 427.1,357.8 427.2,357.0 427.1,356.7 427.4,356.6 427.2,355.9 427.4,355.9 427.4,357.3 427.7,353.5 427.6,354.4 427.7,353.9 427.7,355.0 428.0,356.4 427.8,356.5 428.1,356.5 428.7,357.1 428.8,357.2 428.8,358.5 428.8,358.0 429.0,360.6 429.3,360.3 429.4,359.8 429.4,361.5 429.5,361.4 429.8,361.8 430.0,361.7 429.9,363.7 429.8,362.5 429.9,364.1 430.1,363.4 430.5,364.5 430.3,364.1 430.6,365.2 430.6,362.8 430.7,367.5 430.9,363.7 431.5,365.4 432.0,366.0 432.6,365.9 432.3,365.7 432.3,367.2 432.1,367.4 432.1,367.6 432.2,368.3 431.9,367.3 431.9,367.8 431.6,368.9 431.7,369.9 431.4,370.2 431.6,371.2 431.8,369.4 432.4,374.5 432.6,376.9 433.0,374.3 433.1,371.8 433.5,372.8 434.3,374.8 434.4,375.5 434.4,374.4 434.5,376.4 434.9,372.6 434.9,377.6 435.2,379.1 435.6,375.9 435.4,376.8 435.7,377.0 436.0,374.6 435.9,379.8 436.1,378.4 436.2,375.5 436.4,376.2 436.4,377.3 436.7,377.0 436.9,376.7 437.0,374.6 436.9,374.9 437.1,372.9 437.7,373.8 437.3,371.8 437.9,371.5 437.5,372.3 438.1,372.2 437.8,372.3 437.8,370.7 438.1,369.5 438.0,369.8 438.2,368.0 438.4,369.1 438.0,367.5 438.5,367.3 438.8,367.4 438.6,367.0 438.7,366.9 438.6,365.9 439.0,365.0 438.6,365.2 438.8,364.7 439.1,360.8 439.0,364.1 439.3,364.1 439.5,364.1 439.8,361.6 440.1,357.4 440.5,359.6 440.6,360.4 440.4,359.1 440.1,359.2 439.9,360.7 440.0,357.0 439.7,357.5 439.5,356.1 439.2,355.0 438.9,355.2 438.9,358.3 438.9,355.1 439.0,355.7 439.0,354.0 439.2,353.4 439.6,354.7 439.6,354.6 439.8,350.6 440.0,353.5 440.2,353.4 440.2,351.7 440.6,350.7 440.7,350.6 440.8,350.1 441.1,350.6 440.9,349.0 441.5,348.9 442.0,351.7 441.8,346.9 442.3,348.7 442.6,348.1 442.7,344.8 443.4,346.7 443.5,347.9 443.5,349.0 443.9,344.7 444.4,349.6 445.1,346.7 445.3,349.0 446.1,345.5 445.8,348.1 445.6,347.9 445.6,346.9 445.3,348.6 445.2,349.2 444.8,350.6 444.6,349.3 444.4,351.7 444.6,350.7 444.3,351.9 444.0,350.8 444.6,352.0 444.7,350.8 445.0,355.4 445.5,351.0 445.9,354.3 445.9,352.3 446.3,354.0 447.0,354.4 446.5,355.3 446.4,354.7 445.9,352.0 445.4,351.6 445.4,358.0 444.9,355.7 444.6,356.3 444.3,356.7 443.9,357.7 444.6,356.1 444.9,356.0 445.7,357.9 445.9,358.1 446.6,359.6 447.3,358.1 447.5,364.6 448.1,359.2 448.5,359.8 448.7,360.3 449.3,356.0 449.5,357.6 449.8,358.3 450.4,363.0 450.6,360.1 451.0,361.7 451.0,361.1 451.6,361.6 452.1,365.0 452.3,367.5 453.0,362.6 453.4,364.7 453.7,360.6 454.1,362.1 454.4,366.3 454.7,362.5 454.9,364.3 455.0,365.5 455.2,365.1 455.4,364.8 455.7,365.1 455.8,366.9 455.8,368.0 456.1,368.0 456.0,368.6 456.1,369.2 456.5,370.4 456.4,370.0 456.6,370.1 456.9,369.6 456.4,371.0 456.7,373.2 456.8,373.0 456.9,373.2 457.2,374.4 456.9,373.6 456.9,373.9 457.1,375.5 456.9,375.7 457.4,375.0 457.2,375.2 457.1,377.3 457.6,378.0 457.4,378.5 457.4,378.3 457.6,378.8 457.3,380.0 457.7,379.9 457.5,380.5 457.7,381.9 458.0,381.3 457.9,381.5 457.8,382.9 457.8,382.2 458.1,383.3 457.9,383.8 458.1,384.4 458.1,384.4 458.3,386.8 458.2,384.7 458.2,383.2 458.0,386.6 458.8,387.3 459.2,391.2 459.6,388.2 459.9,383.7 460.6,387.7 460.9,387.2 461.3,388.3 461.2,386.4 461.3,383.2 461.3,382.8 461.2,383.8 461.4,383.8 461.5,383.8 461.4,381.3 461.4,380.9 461.9,380.8 461.6,380.9 461.9,381.4 461.7,379.5 462.0,378.5 462.2,379.2 462.2,378.5 462.0,378.0 462.2,377.5 462.3,377.0 462.2,375.5 462.3,373.9 462.2,376.3 462.5,374.9 462.2,374.9 462.5,373.5 462.6,374.0 462.3,374.1 462.7,372.5 462.4,371.8 462.6,370.6 462.8,371.5 462.4,369.9 462.8,371.0 463.0,368.7 462.8,369.5 462.8,367.8 463.0,368.0 463.1,368.2 463.4,366.8 463.2,366.0 463.3,366.8 463.7,365.2 463.4,364.7 464.1,362.9 464.0,365.3 464.0,364.0 464.1,364.8 464.3,363.3 464.4,361.8 464.5,358.7 464.6,361.4 464.8,365.8 465.0,361.0 464.9,363.8 465.0,363.8 465.0,364.2 465.3,363.1 465.4,365.3 465.5,365.7 465.7,366.7 465.6,367.1 465.8,367.5 466.1,365.5 466.0,368.3 466.5,367.1 466.5,369.0 466.4,365.2 466.9,368.4 467.4,370.5 467.7,367.7 468.0,369.3 468.3,372.2 468.3,368.2 468.4,369.8 469.0,370.9 469.1,372.6 469.6,371.5 469.7,373.9 469.4,375.0 469.5,374.6 469.9,375.6 469.6,374.7 470.0,377.5 470.2,376.1 470.1,374.6 469.8,374.7 469.7,374.3 470.0,374.6 469.8,373.0 470.1,373.7 470.1,373.2 470.3,371.9 470.2,371.7 470.3,372.0 470.2,370.6 470.6,370.6 470.2,370.3 470.4,368.2 470.5,370.2 470.5,369.4 470.4,367.8 470.6,366.6 470.7,366.4 470.7,365.5 470.8,365.6 470.9,366.9 470.7,366.4 470.5,363.9 470.8,364.3 470.8,365.6 470.8,366.4 471.3,367.0 471.7,362.2 472.2,363.3 472.6,369.3 473.1,364.4 473.8,365.0 473.8,359.5 474.2,368.9 474.4,364.0 475.0,365.2 475.3,361.9 475.8,365.1 475.8,364.8 476.2,365.4 476.5,363.0 476.7,367.1 477.4,366.8 477.3,364.6 477.8,366.9 477.9,364.8 478.4,366.4 478.9,361.9 479.3,365.1 479.3,363.6 479.2,365.3 479.5,366.2 479.7,365.7 479.7,365.6 479.9,368.2 480.1,369.6 480.2,370.5 480.0,368.7 480.7,369.6 481.0,370.8 480.9,369.2 481.4,371.9 481.5,373.0 481.7,371.8 481.8,370.2 482.2,371.6 482.3,374.2 482.4,371.0 482.5,374.3 482.8,375.8 482.6,375.6 483.0,375.3 483.0,376.2 483.1,377.5 483.4,377.6 483.4,377.9 483.6,376.0 483.6,380.6 483.9,376.5 483.9,378.7 484.1,377.7 484.0,376.2 484.2,376.4 484.4,376.1 484.3,374.5 484.7,374.4 484.4,373.0 485.0,373.6 484.9,373.5 485.0,371.5 485.0,373.4 485.1,372.2 485.5,371.3 485.5,370.3 485.6,368.7 486.1,368.0 486.1,369.5 486.1,367.5 486.0,368.4 486.5,369.4 486.6,367.8 486.9,369.8 487.1,362.6 487.8,366.9 487.7,364.5 488.1,364.2 488.0,362.8 488.9,365.5 488.9,366.5 488.9,360.2 489.4,362.1 489.6,365.1 489.9,363.4 490.2,360.0 490.9,365.1 491.1,364.4 491.7,360.2 491.8,365.2 492.6,361.7 493.1,365.1 493.5,364.2 494.2,368.4 494.6,365.3 494.9,365.1 495.0,365.7 495.2,367.1 495.4,362.8 495.6,364.1 495.8,360.5 495.9,360.5 495.9,360.2 496.0,363.6 496.2,360.7 496.5,360.5 496.8,360.2 496.8,359.9 496.9,358.9 497.1,358.6 497.3,357.4 497.4,356.9 497.6,357.6 497.5,356.2 497.8,355.7 498.0,355.3 498.2,354.7 497.9,351.9 498.4,356.1 498.3,353.1 498.8,354.0 499.5,353.6 500.2,350.9 500.7,351.2 501.2,357.5 501.1,353.6 501.4,350.0 501.4,351.9 501.3,350.8 501.1,349.8 501.4,349.8 501.5,349.1 501.6,349.2 501.7,349.6 501.4,348.5 501.6,347.2 502.0,347.3 501.9,345.2 501.8,346.5 501.9,345.8 502.0,345.8 502.0,344.6 502.0,345.6 502.2,343.8 502.2,342.1 502.3,343.5 502.5,342.6 502.4,342.7 502.5,341.3 502.4,340.2 502.5,340.7 502.8,339.8 502.6,339.6 502.6,339.2 502.6,338.7 502.5,337.2 502.9,336.3 502.5,336.5 503.1,335.5 502.6,336.8 502.8,335.9 502.9,334.8 503.0,334.1 503.4,334.1 503.2,334.4 503.2,333.7 503.3,332.8 503.4,330.1 503.5,331.1 503.7,332.3 503.8,330.5 503.5,329.8 503.8,329.8 503.9,329.6 503.7,328.6 504.3,329.7 503.8,329.5 503.9,330.4 504.0,330.8 504.2,330.7 504.1,332.3 504.0,332.0 504.1,333.1 504.1,333.1 504.1,334.0 504.6,335.0 504.6,334.1 504.6,334.2 504.8,335.3 504.7,335.1 504.4,337.2 504.7,338.1 504.9,338.7 505.0,338.4 505.2,337.5 505.1,339.3 504.9,338.7 505.2,339.8 505.0,339.6 505.2,340.3 505.3,342.6 505.2,342.4 505.4,341.7 505.7,343.0 505.5,342.9 505.6,343.5 505.4,342.9 505.7,344.8 505.6,345.7 505.8,345.5 506.2,345.3 506.1,345.4 506.4,346.5 506.8,347.0 506.6,346.4 506.9,348.7 507.4,347.9 507.2,348.8 507.5,350.6 507.5,350.7 508.0,350.8 507.7,352.7 508.1,351.3 508.4,351.9 508.1,352.3 508.4,351.2 508.6,351.1 508.5,350.8 508.3,350.5 508.6,349.1 508.5,348.7 508.6,349.4 508.9,347.9 508.9,346.8 508.7,347.7 508.7,345.9 509.0,345.2 509.1,345.2 508.8,344.0 508.9,343.7 509.3,343.4 509.1,343.5 509.5,343.3 509.4,341.8 509.6,341.8 509.7,341.3 509.6,340.8 509.4,340.8 509.8,338.4 509.9,339.6 509.9,339.9 510.0,338.7 509.8,338.4 510.1,337.5 510.3,337.1 509.9,337.4 510.2,337.2 510.3,336.4 510.4,336.1 510.5,334.4 510.6,334.9 510.7,333.7 510.7,334.0 510.9,333.4 511.2,331.6 510.9,332.3 511.6,333.3 511.9,337.5 511.9,334.7 512.1,336.9 512.1,334.3 512.2,337.2 512.5,336.7 512.9,338.3 512.9,338.5 513.3,339.3 513.3,339.5 514.0,339.2 514.7,336.7 514.7,338.7 514.3,340.9 514.8,340.6 514.6,341.0 514.9,342.4 515.0,341.7 514.6,343.4 514.7,343.5 515.2,345.0 514.9,344.7 515.1,345.6 515.3,345.3 515.1,346.6 515.3,346.3 515.5,346.7 515.6,346.9 515.6,348.1 515.6,349.0 515.9,349.8 516.2,350.0 516.1,349.0 516.2,350.4 516.4,351.5 516.3,350.7 516.5,352.0 516.8,353.6 517.3,353.4 517.2,352.1 517.1,352.8 517.2,354.4 517.3,355.7 517.4,355.1 517.4,355.8 517.6,356.8 517.6,356.1 517.5,357.2 517.8,357.8 518.3,358.3 518.3,358.6 518.2,361.2 518.5,358.3 518.7,359.1 519.5,362.0 519.6,359.5 519.9,364.2 520.3,365.3 520.1,366.3 520.9,364.7 521.0,358.3 521.5,364.9 521.7,362.1 521.7,360.3 522.5,359.0 522.6,360.6 523.0,360.7 523.3,360.2 523.6,357.7 524.1,357.4 524.3,360.9 524.8,357.7 524.9,355.9 525.1,356.0 525.7,359.5 525.7,358.6 526.0,352.4 526.2,357.7 526.6,357.2 527.2,356.7 527.3,350.5 527.7,353.2 528.1,355.9 528.4,353.3 528.7,353.9 529.0,350.9 529.7,355.6 530.5,352.3 530.5,353.1 531.0,351.0 531.2,353.6 531.3,349.0 531.2,348.6 531.6,348.4 531.9,350.9 531.6,346.5 532.3,346.6 532.2,349.5 532.6,345.3 532.4,344.2 533.1,346.5 533.2,345.2 533.3,346.3 533.9,344.6 533.9,346.2 534.0,343.3 534.3,342.0 534.6,341.5 534.6,342.3 535.0,342.6 535.1,343.1 535.4,345.3 535.8,342.9 535.6,340.1 536.2,340.9 536.6,344.6 537.0,347.8 537.2,344.9 537.2,346.3 537.2,343.0 537.9,345.4 537.9,343.4 538.2,346.7 538.1,348.9 538.3,348.9 538.4,347.9 538.6,348.9 539.2,349.1 539.1,350.7 538.8,350.6 539.1,351.9 539.5,351.2 539.5,350.3 539.7,350.3 539.8,355.1 540.7,355.8 540.6,351.8 540.9,353.0 541.3,356.3 541.4,352.6 541.8,353.9 542.4,355.8 542.6,353.5 543.0,357.6 543.3,357.3 544.0,359.9 543.6,357.6 544.3,357.1 544.2,359.2 544.4,358.4 545.3,360.2 545.5,360.3 545.0,360.4 545.5,360.2 545.4,362.5 545.7,361.1 545.8,361.5 545.7,361.9 545.8,361.4 546.0,361.9 546.1,363.3 546.3,362.6 546.6,365.0 546.7,363.4 546.5,366.0 546.7,365.3 547.1,363.5 547.3,367.1 547.7,365.3 547.9,368.9 548.5,367.0 548.7,371.8 549.1,371.6 549.7,367.7 549.8,370.5 550.0,372.6 550.4,367.5 550.5,372.4 550.9,370.3 551.2,372.4 551.4,372.0 551.8,373.8 552.2,373.4 552.6,370.0 552.8,375.0 553.4,369.4 553.9,366.8 554.5,372.1 554.8,370.6 555.0,368.7 555.5,371.1 555.2,370.3 556.0,370.6 556.2,366.2 556.5,369.2 556.6,374.6 557.0,366.8 556.9,370.2 557.4,368.5 557.5,371.5 557.8,368.9 557.5,371.3 557.8,373.8 558.0,370.1 558.4,374.5 558.5,372.4 559.2,371.5 560.3,370.8 561.0,371.8 561.0,372.0 561.3,372.1 562.1,373.7 562.3,373.1 562.9,375.2 563.5,377.2 563.4,375.3 563.6,375.4 563.8,375.8 563.8,376.4 564.1,377.2 564.1,376.2 564.4,377.1 564.4,377.5 564.3,377.5 564.2,377.7 564.7,378.4 564.7,383.8 564.9,380.5 564.9,377.5 565.4,377.8 565.1,378.7 565.3,377.3 565.4,377.8 565.8,377.5 566.0,376.2 566.1,377.7 566.3,374.9 566.8,370.5 566.7,374.7 567.2,375.9 567.8,375.9 568.1,374.4 568.6,374.3 569.1,371.4 569.4,373.0 569.6,373.3 570.2,372.7 570.6,374.5 571.2,374.4 571.5,367.8 571.8,371.0 572.2,372.8 572.2,368.4 572.8,371.4 572.8,374.8 573.2,374.2 573.2,373.8 573.2,374.0 573.4,372.1 573.2,376.2 573.5,374.5 573.8,373.7 573.7,375.6 574.0,377.0 574.1,377.0 574.0,376.8 574.1,378.6 574.3,382.2 574.6,379.7 574.9,375.5 575.3,377.9 575.7,382.9 575.9,382.4 576.6,381.6 576.6,381.7 577.1,378.6 577.3,383.5 577.3,381.8 577.1,382.5 577.4,383.2 577.6,383.7 577.5,383.8 577.6,384.8 577.2,384.9 577.5,385.9 577.6,385.6 577.8,386.3 577.9,389.2 578.0,385.3 578.1,383.0 578.3,384.9 578.2,384.8 578.4,385.3 579.0,384.5 578.9,385.9 579.1,384.5 579.1,383.2 579.3,383.9 579.7,382.4 579.8,381.5 579.8,381.9 580.1,379.9 580.0,380.7 579.9,379.2 580.2,379.8 580.3,381.1 580.6,379.1 580.7,377.0 580.6,377.5 580.9,376.9 580.5,376.2 580.8,376.6 580.6,376.1 580.7,374.1 581.1,373.9 580.9,374.5 581.0,374.1 580.9,373.5 581.2,370.9 580.8,371.5 580.8,372.5 580.9,371.9 580.9,371.5 581.2,370.3 581.2,369.5 581.3,368.7 581.1,369.0 581.4,369.3 581.3,366.3 581.3,367.6 581.4,365.3 581.5,367.4 581.8,367.3 581.6,365.0 581.9,364.3 581.8,365.0 581.7,363.1 581.8,363.7 582.2,362.8 582.0,362.4 582.4,362.5 582.3,361.1 582.6,360.1 582.6,360.3 582.4,358.9 582.3,358.9 582.8,358.8 582.8,358.5 582.8,357.9 582.7,357.1 582.9,357.1 582.9,356.7 582.5,356.1 582.7,355.8 582.9,354.7 582.9,355.4 582.7,353.4 583.0,353.2 582.9,352.9 582.8,352.5 582.6,350.9 582.9,351.4 582.7,350.9 582.7,350.7 582.8,349.1 582.9,348.9 582.7,348.1 582.8,348.1 582.8,349.1 582.8,347.4 582.6,346.9 583.0,347.7 582.8,345.9 582.6,346.6 582.7,345.0 582.7,344.6 582.8,344.2 582.8,343.8 582.8,343.2 582.8,342.1 582.8,342.7 582.7,342.4 583.2,341.6 582.8,339.9 582.8,340.2 583.0,338.4 583.2,339.2 583.4,338.8 583.4,338.5 583.3,338.2 583.2,336.9 583.6,337.1 583.8,337.3 584.1,337.0 583.8,338.0 583.9,336.0 584.2,336.2 583.8,336.9 583.9,337.4 584.2,338.6 584.2,337.8 584.0,339.7 584.4,340.8 584.4,339.0 584.4,341.2 584.3,340.6 584.6,341.8 584.5,341.5 585.2,344.3 585.1,342.8 585.1,344.5 585.1,343.6 585.6,344.0 585.5,345.5 585.7,346.0 586.4,347.8 586.3,343.9 586.4,348.0 586.9,345.0 587.2,348.7 587.4,344.2 587.8,350.8 588.1,347.9 588.2,348.7 588.8,350.4 589.2,348.0 589.3,346.7 589.5,347.8 590.0,350.8 589.9,348.9 589.8,348.8 590.0,347.7 589.9,347.6 590.1,347.8 590.3,345.6 590.2,347.5 590.4,345.4 590.6,342.7 590.9,344.8 591.2,348.2 591.3,347.8 591.3,339.1 591.8,344.7 592.2,343.8 591.9,344.8 592.4,342.3 592.7,344.9 592.7,343.8 593.1,343.0 592.9,346.7 593.5,345.9 593.2,346.1 593.4,348.0 593.6,346.7 593.6,348.2 593.8,348.4 593.8,349.9 593.8,349.9 594.0,349.4 594.2,350.5 594.0,351.3 594.5,350.6 594.6,351.7 594.7,351.0 594.6,352.5 594.7,352.5 594.9,355.3 594.9,352.7 595.2,355.7 595.4,355.8 595.5,355.3 595.4,354.3 596.0,355.1 596.1,355.6 596.6,357.1 596.7,356.4 596.9,359.1 596.9,359.8 597.0,359.6 597.0,360.8 597.5,359.9 597.7,361.5 597.7,362.9 597.9,361.6 598.0,362.3 598.4,361.9 598.6,360.0 598.9,363.9 598.9,363.8 599.2,361.3 599.4,368.6 599.5,368.2 599.9,365.3 599.9,366.0 600.3,370.7 600.3,366.5 600.1,365.5 600.0,365.5 600.0,364.3 600.0,365.7 599.5,364.1 599.8,364.4 599.5,362.3 599.5,362.7 599.6,362.7 599.6,361.3 599.6,359.0 599.3,360.2 599.6,359.4 599.5,359.7 599.3,358.3 599.8,357.2 599.9,357.9 601.0,358.9 601.2,357.5 601.7,359.3 601.9,355.5 602.5,353.4 602.9,357.0 603.6,356.4 603.8,355.1 604.5,351.5 604.7,363.4 605.1,355.9 605.9,356.0 605.9,357.2 606.3,353.8 607.0,356.9 607.4,353.9 607.6,354.5 608.1,355.0 608.3,354.4 608.5,352.0 609.2,351.4 609.3,353.3 609.9,350.9 609.9,351.4 610.3,352.2 610.8,354.3 611.4,350.0 611.9,352.2 612.6,353.4 612.9,351.9 612.7,353.2 612.3,351.4 612.3,355.6 612.2,353.6 612.3,354.4 612.0,355.5 612.0,356.2 611.9,356.0 612.0,355.6 611.7,357.2 611.4,358.2 611.2,359.3 611.0,358.6 610.9,357.1 611.1,357.5 611.5,357.5 611.8,360.8 612.4,355.9 612.7,362.0 613.0,358.7 613.8,362.2 614.0,359.2 614.4,358.8 614.8,353.8 615.3,354.9 615.3,357.1 615.7,355.5 615.6,355.9 616.1,354.8 615.7,354.6 616.2,354.9 615.8,351.8 616.2,352.9 616.1,352.6 616.2,352.1 616.5,350.8 616.5,350.7 616.4,350.1 616.6,350.4 616.5,351.1 616.7,349.2 616.7,347.6 616.9,347.6 617.1,347.5 617.0,345.1 617.5,349.6 618.1,347.4 618.3,347.6 619.0,349.3 619.5,347.0 619.6,344.4 620.3,347.0 620.2,347.4 620.5,348.6 620.9,351.5 621.4,348.9 621.6,349.2 621.7,347.2 622.3,350.8 622.0,349.3 622.5,347.9 622.8,353.8 622.7,350.4 623.1,351.8 623.3,352.0 623.6,351.9 623.5,353.5 623.8,350.9 623.9,354.8 624.1,356.9 624.3,355.1 624.8,354.8 624.5,353.8 625.1,356.6 625.0,358.6 625.0,359.0 625.5,355.1 625.8,361.1 626.1,360.5 626.4,360.3 626.2,359.4 626.8,362.1 627.1,356.2 627.6,360.8 627.9,362.1 628.1,362.2 628.3,361.8 628.8,366.1 629.1,367.5 628.9,360.9 629.7,367.4 629.7,363.1 629.8,363.3 630.1,364.6 630.7,366.6 630.3,365.6 629.9,367.4 629.7,365.4 629.5,370.3 629.0,367.1 629.1,368.4 628.8,367.8 629.2,366.5 629.6,365.9 629.3,366.6 629.8,363.7 629.8,364.0 630.1,363.3 630.2,366.1 630.2,363.7 630.8,365.0 630.7,363.2 631.0,364.2 631.3,362.0 631.2,359.9 631.7,363.8 631.7,360.9 632.2,362.6 632.1,359.4 632.3,362.3 632.6,362.0 633.3,358.2 633.3,363.1 634.1,361.6 634.3,356.7 634.6,360.9 635.4,362.3 635.2,366.2 635.5,363.4 635.9,366.5 636.2,367.3 636.4,364.3 636.6,364.0 636.7,367.2 637.0,364.8 637.2,363.0 637.5,365.2 637.6,367.2 637.8,364.5 637.8,366.0 638.0,370.1 638.3,368.5 638.2,368.4 638.8,371.9 638.6,371.3 638.9,369.7 639.3,372.5 639.3,367.5 639.7,369.0 639.9,370.6 639.9,366.4 640.4,368.1 640.3,369.7 640.8,369.8 641.0,370.8 641.3,367.9 641.3,366.8 641.5,366.6 641.6,365.6 641.6,366.2 641.6,364.5 641.7,363.2 642.1,365.1 642.2,366.0 642.1,363.8 642.4,363.5 642.6,361.7 642.9,364.7 642.9,362.0 643.4,362.7 643.7,361.8 643.9,362.9 644.4,361.8 644.7,361.3 644.7,360.5 645.1,357.6 645.4,360.1 645.5,361.6 645.7,359.9 645.8,360.4 646.2,360.8 646.4,361.3 646.5,362.6 646.5,363.6 646.7,362.5 646.9,359.8 646.9,363.9 647.2,363.7 647.4,364.3 647.5,364.6 647.4,366.2 647.6,365.9 647.9,368.1 648.1,366.4 648.1,368.0 648.2,368.8 648.2,377.1 648.4,370.4 648.7,372.7 648.9,371.4 649.5,370.9 649.7,366.4 649.7,367.5 650.2,366.1 650.1,366.0 650.4,366.5 650.1,365.7 650.5,363.6 650.6,366.7 650.7,363.3 650.7,363.1 650.8,363.5 650.6,363.4 650.9,362.3 651.3,361.6 650.8,361.9 651.1,361.2 651.0,360.5 650.9,358.9 650.9,359.6 651.2,358.5 651.1,357.3 651.4,357.1 651.2,356.8 651.5,356.7 651.6,356.2 651.6,355.9 651.4,354.5 651.3,353.8 651.7,354.8 651.4,352.6 651.5,353.0 651.6,352.0 652.0,352.0 651.9,351.1 652.0,350.3 651.8,350.0 652.1,350.8 651.7,349.8 652.1,349.5 651.7,348.0 652.1,347.0 652.2,346.9 652.0,346.1 652.3,345.5 652.3,346.0 652.6,346.7 652.4,348.1 653.0,347.5 653.2,347.7 653.3,348.3 653.6,347.2 653.8,347.8 654.1,345.5 654.7,347.3 654.7,350.0 654.5,351.6 654.7,351.2 655.5,348.8 655.6,351.9 655.5,352.5 655.8,353.0 656.2,352.9 656.3,353.6 656.6,351.8 656.8,353.1 656.8,352.4 657.3,352.5 657.8,351.4 658.2,354.9 658.5,350.1 659.0,356.7 659.4,354.7 659.8,358.1 660.4,350.0 661.0,354.6 661.2,353.7 662.0,349.2 662.0,352.7 662.5,353.5 662.7,350.8 663.1,352.0 663.1,352.8 663.2,349.3 663.4,346.8 663.7,346.0 663.5,348.1 663.6,350.3 663.5,350.5 663.8,350.8 663.8,350.3 663.7,351.7 663.8,352.7 664.1,352.6 663.9,353.7 664.1,355.5 664.3,354.1 664.3,354.6 664.4,354.9 664.3,356.1 664.5,357.1 664.7,359.7 665.0,358.0 665.1,359.6 665.0,358.2 665.3,358.8 665.6,360.2 665.4,361.5 666.1,360.6 666.5,359.5 666.2,362.2 666.6,360.6 666.2,362.0 666.4,361.9 666.6,364.0 666.6,363.9 666.8,364.8 666.8,365.6 666.5,364.2 666.9,365.0 666.6,367.9 667.0,368.4 667.1,368.1 667.6,370.8 667.8,367.9 668.0,368.2 668.5,371.1 668.9,366.7 669.0,368.8 669.4,369.6 669.4,365.8 669.3,366.9 669.7,367.2 669.9,368.4 670.2,364.1 670.6,368.3 670.2,364.0 670.6,365.1 670.8,364.7 671.1,365.4 671.2,362.3 671.5,366.8 671.7,368.6 672.0,365.3 672.3,366.0 672.7,365.2 672.7,363.4 672.8,371.5 673.0,366.1 673.3,367.3 673.2,367.5 673.5,365.2 673.6,365.3 673.6,365.3 674.0,364.8 674.3,362.3 674.6,363.8 675.2,362.1 675.7,364.8 675.8,360.6 676.5,363.3 677.2,362.7 676.9,362.3 677.0,361.3 677.1,361.8 677.3,360.8 677.5,361.0 677.5,359.5 677.7,359.9 677.6,359.5 677.5,359.5 677.6,356.4 677.5,357.4 677.9,356.3 678.1,359.5 678.0,357.6 678.3,360.1 678.5,359.2 678.6,360.4 678.7,359.5 678.8,360.1 678.9,362.4 679.3,360.0 679.0,362.5 679.4,363.6 679.6,360.3 679.7,361.3 679.8,361.8 679.7,361.0 680.2,361.9 680.2,360.1 680.1,360.2 680.2,359.4 680.3,359.8 680.4,359.3 680.6,357.8 680.9,357.9 680.9,356.9 681.2,356.4 681.2,357.1 681.3,357.0 681.5,355.5 681.5,355.3 681.4,354.8 681.7,353.4 681.4,354.2 681.7,352.8 681.9,351.4 682.0,351.9 681.9,351.2 681.9,351.5 682.1,349.8 682.1,350.4 682.2,348.8 682.2,348.3 682.4,348.4 682.1,347.9 682.6,348.5 682.7,346.6 682.4,348.1 682.6,346.9 682.9,345.9 682.7,345.6 682.6,344.7 682.6,345.2 682.7,343.5 682.8,343.4 682.9,342.3 682.6,342.3 683.2,343.1 682.7,340.0 683.0,340.7 682.7,339.7 683.2,338.9 683.1,339.3 683.1,340.4 683.0,338.3 683.3,337.7 683.2,336.6 683.4,337.3 683.3,336.6 683.4,337.8 683.1,335.6 683.0,334.7 683.4,335.8 683.5,333.2 683.4,333.5 683.4,332.9 683.6,330.7 683.5,331.1 683.5,331.5 683.2,330.5 683.9,330.6 683.5,330.3 683.4,329.9 683.6,330.3 683.8,329.1 683.7,327.6 683.9,326.6 683.6,325.7 683.8,326.5 683.8,325.0 684.0,326.0 683.6,324.6 683.8,324.4 684.1,325.2 684.2,324.8 684.0,323.5 683.8,322.2 684.3,321.7 684.0,320.1 684.1,321.9 684.2,320.6 684.2,320.3 683.9,319.1 684.2,318.6 684.3,318.0 684.2,317.8 684.4,317.9 684.2,315.7 684.3,315.1 684.3,314.9 684.2,314.8 684.4,314.9 684.3,313.9 684.3,313.9 684.2,312.3 684.3,312.7 684.4,310.8 684.2,311.4 684.3,311.7 684.3,315.2 684.6,310.9 684.2,312.7 684.4,313.3 684.6,311.6 684.5,314.1 684.7,312.9 684.8,315.5 684.9,316.2 684.8,315.3 684.9,316.7 685.0,316.6 684.8,315.9 685.0,318.2 685.0,317.6 685.4,318.0 685.2,319.1 685.2,320.0 685.0,319.6 685.3,319.3 685.3,319.5 685.5,321.6 685.3,321.4 685.7,322.7 685.5,322.9 685.8,322.6 686.1,323.3 685.7,324.2 685.9,325.8 686.3,326.0 686.1,325.4 686.4,325.7 686.4,327.7 686.5,327.3 686.7,327.7 686.4,328.5 686.6,327.8 686.6,328.1 687.2,329.4 687.2,326.5 687.6,331.8 687.7,330.3 688.2,332.4 688.5,332.3 688.7,332.6 688.7,333.1 688.7,333.8 688.7,334.3 688.7,334.8 689.3,334.0 688.8,335.8 689.0,337.0 689.1,336.7 689.4,336.1 689.0,338.2 689.5,338.1 689.8,339.2 689.9,337.7 689.9,338.5 690.3,339.8 690.4,340.0 690.4,340.8 690.6,341.7 690.8,341.2 691.0,338.8 691.0,342.0 691.2,345.5 691.9,340.8 692.6,339.2 692.6,340.8 693.5,344.1 693.7,345.8 693.6,344.9 693.7,346.2 693.6,345.0 693.2,345.8 693.1,346.3 693.3,346.0 693.0,348.9 692.9,347.5 692.9,343.7 693.0,347.8 693.2,346.7 693.3,345.5 693.8,344.6 693.8,343.5 694.3,347.2 694.5,345.3 694.8,346.2 694.9,342.3 695.2,345.3 695.4,340.7 695.5,342.0 695.5,342.6 695.8,340.5 695.7,341.1 695.5,341.0 695.8,340.7 695.7,340.0 695.8,339.2 695.9,338.8 696.0,338.3 696.2,337.1 696.4,337.0 696.4,337.2 696.5,336.3 696.7,334.6 696.6,335.1 696.8,333.9 696.9,334.0 696.7,334.2 696.9,332.1 696.9,332.1 697.0,332.0 697.4,331.5 697.7,331.0 697.7,329.5 697.8,331.1 697.9,327.9 698.0,329.7 698.3,327.7 698.1,328.2 698.0,326.8 698.2,327.7 698.3,326.5 698.7,326.3 698.3,324.6 698.4,324.9 698.6,324.5 698.7,324.0 698.5,324.8 699.0,323.3 698.8,322.3 698.8,322.1 698.5,321.7 699.0,320.9 698.8,318.8 699.3,320.5 699.7,318.2 699.7,319.5 699.9,318.1 700.1,315.9 700.2,318.9 700.3,318.7 700.7,316.3 700.7,317.1 700.8,312.8 701.1,315.8 701.0,314.2 701.1,313.5 701.1,313.4 700.9,315.3 701.2,312.5 701.2,312.8 701.5,311.2 701.5,311.2 701.6,311.2 701.3,310.4 701.4,308.7 701.7,308.1 701.9,308.1 701.7,308.4 702.0,306.7 702.1,308.4 702.5,309.1 702.4,309.5 702.8,308.8 702.5,311.2 702.8,312.0 703.2,311.1 703.5,312.3 703.5,312.2 703.6,313.5 703.7,313.5 703.8,313.2 703.7,315.4 704.1,313.2 704.2,314.4 704.1,316.2 704.0,316.2 704.3,317.1 704.4,317.0 704.5,318.4 704.7,319.0 704.7,318.1 704.9,317.9 705.2,317.7 705.1,322.3 705.4,320.1 705.7,321.6 705.7,321.4 705.8,324.0 706.1,322.2 706.4,322.4 706.5,322.4 706.1,324.4 706.8,325.3 706.6,324.1 706.9,325.1 706.9,327.2 706.9,327.5 706.9,327.2 707.2,327.8 707.2,328.6 707.3,328.0 707.4,329.7 707.8,330.1 707.6,330.0 707.9,330.1 707.9,331.9 708.0,331.7 708.2,333.0 708.2,332.4 708.3,333.2 708.4,334.1 708.4,334.6 708.7,334.5 708.3,334.5 708.7,335.1 708.6,337.0 708.4,336.1 708.6,337.9 708.6,336.7 708.9,338.3 709.0,338.5 708.9,338.4 708.9,339.3 709.3,339.6 709.2,341.0 709.2,340.7 709.2,342.6 709.2,342.4 709.4,344.8 709.5,342.9 709.7,343.8 709.7,343.2 709.8,343.6 710.0,345.0 709.9,344.5 710.3,346.9 710.4,346.8 710.6,347.7 710.5,348.6 710.8,347.1 710.7,347.5 711.3,349.2 711.1,348.3 711.5,348.2 711.4,349.3 711.7,350.1 712.0,352.1 712.0,353.2 712.3,354.8 712.5,356.7 712.5,353.7 713.2,353.9 713.5,356.2 713.8,352.1 714.2,355.3 714.2,356.0 714.6,352.1 715.1,353.4 715.3,354.1 715.7,355.4 715.8,354.0 715.7,354.8 716.1,352.8 716.4,354.3 716.5,353.0 716.7,353.5 716.9,349.7 717.1,351.1 717.1,353.0 717.5,351.7 717.7,349.1 718.0,350.1 718.1,349.0 718.2,348.0 718.3,348.0 718.7,346.1 719.0,350.0 718.8,347.2 719.0,349.5 719.0,348.5 719.1,350.7 719.2,350.2 719.4,350.4 719.0,352.2 719.4,351.6 719.5,352.0 719.9,353.0 719.4,352.7 719.5,352.0 719.6,353.6 719.8,356.0 720.0,352.3 720.1,355.4 720.8,353.0 720.9,351.0 721.3,352.8 721.8,354.7 722.4,353.6 722.7,355.2 723.1,351.5 723.2,353.3 723.4,356.1 723.2,357.8 723.4,357.4 723.6,357.8 723.7,357.9 724.4,357.1 724.4,356.1 724.1,359.0 724.4,361.0 724.7,357.2 724.6,359.6 725.1,362.4 725.4,362.4 725.4,360.1 725.7,361.2 726.0,363.1 726.0,365.0 726.0,365.3 726.5,362.3 727.0,363.8 727.1,364.8 727.3,366.4 727.6,365.1 728.3,364.5 728.4,364.9 728.5,365.0 728.9,368.0 729.6,372.1 729.9,371.3 730.3,364.6 730.7,364.2 731.5,372.2 731.6,365.9 731.8,369.0 732.0,365.2 732.0,366.6 732.2,366.2 732.4,366.4 732.6,364.5 732.4,364.0 732.9,364.7 732.9,364.0 732.7,362.5 732.9,363.9 733.1,363.2 733.2,358.3 733.3,362.7 733.4,360.8 733.8,360.9 734.3,361.3 734.7,362.1 735.3,362.8 735.8,359.9 736.1,364.1 736.7,361.8 736.4,361.8 736.9,362.3 736.9,363.1 737.3,357.2 737.5,360.1 737.7,358.3 738.0,362.1 737.9,359.9 738.5,359.9 739.2,360.8 739.0,355.9 739.6,354.4 739.8,361.3 740.5,355.2 740.6,358.7 740.7,355.4 740.8,356.8 740.7,354.4 740.7,354.6 740.7,353.4 740.8,352.6 740.9,352.8 741.3,352.0 741.2,351.1 741.5,352.5 741.2,350.7 741.1,350.9 741.3,350.3 741.4,348.7 741.5,348.9 741.4,347.7 741.7,348.7 742.1,350.5 742.2,340.3 742.3,348.2 743.0,344.8 743.4,346.7 743.6,345.9 743.9,344.7 744.0,345.1 744.3,344.6 744.6,345.6 744.6,343.3 744.8,343.0 744.8,342.5 744.7,341.4 745.2,341.5 745.1,340.6 745.1,341.2 745.0,339.8 745.3,339.9 745.4,338.8 745.4,338.3 745.5,337.4 745.4,336.7 745.5,340.4 746.2,336.5 746.4,336.0 746.3,336.9 746.4,332.8 747.0,337.4 747.1,333.7 747.3,337.0 747.7,336.0 747.2,333.6 747.6,335.5 747.4,334.7 747.5,337.1 747.6,337.8 747.7,339.1 747.6,338.0 747.7,338.2 748.0,339.5 747.8,339.7 747.8,340.0 747.5,339.4 747.7,341.1 747.8,343.2 747.9,343.0 748.2,342.3 748.3,343.1 748.2,343.3 748.2,345.0 748.6,345.0 748.5,345.4 748.5,345.6 748.3,343.8 748.8,347.6 749.2,347.8 749.2,349.1 750.1,347.9 750.0,348.4 750.3,349.0 750.6,350.6 750.7,348.7 750.6,350.7 750.8,351.3 751.2,350.7 750.9,352.8 751.0,352.5 751.4,352.9 751.1,352.6 751.2,354.9 751.5,352.7 751.6,355.1 751.8,355.8 751.8,354.7 751.6,354.5 752.1,355.1 752.1,358.2 752.2,358.0 752.4,355.5 752.8,357.0 753.3,358.0 753.8,354.2 754.2,353.7 754.4,358.8 754.0,354.9 754.4,353.4 754.7,356.1 755.0,353.1 755.0,353.3 755.0,355.8 755.5,352.7 755.8,350.6 756.0,355.8 755.9,350.9 756.0,353.2 756.3,353.0 756.2,351.8 756.3,353.2 756.3,353.2 756.6,354.7 756.8,354.9 756.8,357.0 757.0,355.6 757.1,355.9 757.4,357.8 757.4,357.3 757.7,357.8 757.5,359.2 758.2,352.7 758.5,361.0 758.9,360.6 759.1,359.0 759.6,361.9 760.2,358.7 760.8,360.5 760.8,361.4 761.4,361.1 762.1,356.4 762.4,359.3 763.1,355.9 763.3,358.2 763.2,358.2 763.6,361.1 764.1,360.7 764.4,361.6 764.7,361.3 764.5,360.6 765.0,361.0 765.0,362.5 765.4,361.4 765.3,364.8 765.6,366.3 765.6,365.0 765.6,364.0 766.0,364.7 765.9,366.3 766.2,364.7 765.8,366.5 766.5,365.8 767.0,368.9 767.4,367.8 768.0,365.0 768.3,366.5 768.6,362.4 769.0,363.9 769.5,371.4 770.0,369.6 770.3,367.8 770.4,366.9 770.9,360.8 771.2,362.8 771.4,367.3 771.2,364.0 771.5,365.2 771.5,366.7 771.6,366.6 771.9,368.4 771.7,368.4 772.1,368.5 772.2,370.6 772.1,369.6 772.3,370.5 772.5,367.7 772.6,368.8 772.5,373.0 773.3,368.8 773.4,371.7 773.8,374.6 774.6,373.8 774.8,370.3 775.2,372.6 775.8,374.9 776.5,378.0 776.8,374.5 777.1,373.0 777.4,377.9 777.9,375.8 778.3,375.3 778.8,373.4 779.3,373.0 779.8,373.9 780.2,371.3 780.7,371.2 781.2,374.8 781.8,373.3 782.1,374.8 782.1,374.1 783.1,372.7 783.3,374.4 783.7,375.3 784.5,376.1 784.8,368.7 785.2,373.3 785.6,372.6 785.8,372.8 786.4,374.6 786.9,375.9 787.3,373.7 787.4,371.0 788.1,368.3 788.5,372.7 788.6,374.0 789.1,370.7 789.7,371.8 789.9,371.8 790.6,370.7 790.7,375.9 791.4,374.0 791.4,375.2 792.2,369.9 792.1,378.3 792.3,375.8 792.6,377.2 793.0,376.0 793.7,375.8 793.9,377.9 794.3,374.9 795.0,376.5 795.5,377.4 795.7,378.6 795.6,378.8 796.1,378.8 796.2,379.8 795.9,379.6 796.5,380.2 796.3,380.7 796.4,381.9 796.5,381.6 796.9,381.2 796.8,381.1 796.6,383.2 796.6,381.2 796.9,381.6 797.1,382.0 796.9,380.8 797.2,381.1 797.0,380.1 797.1,378.7 797.4,380.1 797.3,378.6 797.5,377.9 797.5,377.4 797.7,376.9 797.4,377.2 797.5,377.0 797.8,375.2 797.9,376.0 797.7,373.6 797.9,373.7 798.4,374.8 798.0,374.3 798.3,371.9 798.2,372.1 798.0,372.2 798.2,371.8 798.3,370.5 798.4,370.6 798.5,371.5 798.2,368.3 798.5,368.9 798.7,368.8 798.9,367.1 798.7,367.1 798.7,365.4 798.7,366.0 798.8,365.2 798.7,365.3 798.9,365.4 798.9,364.2 798.9,364.6 799.2,362.1 799.2,363.1 799.1,364.0 799.4,364.5 799.2,365.5 799.4,365.6 799.7,365.9 799.8,366.4 800.0,367.1 799.7,367.5 800.1,367.8 800.2,368.8 800.5,369.7 800.4,369.4 800.6,370.3 800.7,373.2 801.1,369.2 801.4,370.6 801.4,370.3 801.5,371.0 801.9,371.3 802.0,372.3 802.5,374.2 802.9,371.6 803.0,368.4 803.5,373.1 803.6,373.3 803.7,369.8 804.3,372.8 804.7,370.6 805.2,369.7 805.7,367.6 806.0,373.7 806.6,369.8 806.7,374.5 806.8,374.0 807.2,371.4 807.3,370.3 807.4,368.8 807.6,367.7 808.0,370.6 807.9,368.5 808.3,365.1 808.3,368.3 808.6,369.4 808.8,366.0 809.3,367.7 809.6,366.2 810.0,368.5 810.7,367.0 810.8,369.9 811.5,363.8 811.7,364.0 812.2,364.4 812.5,365.8 813.0,359.0 812.9,362.4 812.9,364.3 813.0,362.4 813.4,361.8 813.4,363.2 813.7,361.0 813.9,358.3 814.1,359.3 814.1,359.8 814.1,356.5 814.3,358.2 814.4,357.9 814.9,356.8 814.8,356.1 815.0,356.3 815.0,354.4 815.1,356.7 815.0,354.4 815.0,354.1 815.3,353.3 815.3,353.7 815.6,352.4 815.8,349.6 816.0,351.3 815.9,355.0 815.9,354.7 816.5,352.4 816.2,355.0 816.6,354.8 816.9,354.1 817.0,353.8 816.8,357.0 817.2,354.8 817.7,355.3 817.8,358.4 818.3,357.0 818.6,359.6 818.6,359.2 819.2,357.2 819.4,360.5 819.3,360.1 819.3,360.1 819.4,361.1 819.6,360.5 819.3,361.3 819.6,364.0 819.7,362.8 819.9,362.5 819.9,364.6 820.2,363.5 820.2,364.4 820.4,365.0 820.4,367.9 820.4,366.4 820.3,366.8 820.3,367.6 820.8,367.7 820.8,369.5 820.8,370.0 821.1,369.1 820.9,369.2 821.1,367.4 821.1,367.5 821.4,366.7 821.2,365.5 821.5,366.7 821.4,363.7 822.0,364.3 821.8,364.6 821.9,363.5 821.9,363.7 822.2,361.9 821.9,361.4 822.3,361.4 822.3,360.0 822.1,360.8 822.6,360.0 822.3,359.7 822.2,358.2 822.6,358.4 822.5,356.4 823.0,358.6 823.2,356.2 823.4,356.5 824.0,358.1 824.2,356.4 824.6,356.0 824.6,356.5 824.8,355.0 824.7,353.6 824.6,353.3 824.5,353.1 824.7,352.3 824.6,352.1 825.1,351.5 824.9,351.1 825.4,348.9 825.1,351.0 824.8,351.4 825.5,349.3 825.3,349.9 825.1,347.6 825.1,346.8 825.4,349.1 825.7,344.8 826.0,349.4 826.5,343.3 826.8,344.7 827.0,344.6 827.2,340.6 827.1,340.4 827.9,341.9 827.7,343.9 827.7,343.6 827.8,341.0 828.3,340.1 828.3,342.2 828.5,339.7 828.7,342.5 828.7,339.5 829.0,337.9 828.9,339.8 829.3,341.4 829.4,341.0 829.2,341.6 829.2,343.1 829.4,344.0 829.7,343.0 829.3,342.9 829.8,344.6 829.8,346.5 830.0,346.2 830.5,344.4 830.8,350.1 831.1,349.9 831.5,347.4 832.0,346.7 831.7,347.6 831.8,348.8 832.0,348.6 832.0,349.9 832.1,349.5 832.4,349.3 832.5,349.9 832.5,351.5 832.9,351.9 832.8,352.1 833.0,351.8 833.1,352.6 833.1,355.6 833.3,356.0 833.7,353.7 833.7,351.0 834.1,352.6 834.3,355.6 834.7,350.0 834.8,347.5 835.4,348.7 835.5,347.2 836.2,348.9 836.2,349.1 836.6,349.3 836.6,348.7 837.2,350.2 837.0,349.6 837.4,347.8 837.5,345.9 837.6,345.8 837.7,345.5 838.3,343.4 838.3,343.0 838.5,347.4 838.6,343.0 839.1,344.5 839.3,345.7 839.5,343.8 839.7,346.7 840.1,346.1 840.3,344.6 840.8,346.1 840.5,347.8 840.9,348.1 840.7,348.2 841.0,349.8 841.2,348.9 841.2,349.4 841.4,350.8 841.4,350.1 841.5,350.9 841.8,350.9 841.7,352.0 842.2,353.6 842.0,353.9 842.1,352.8 842.4,354.9 842.6,354.4 842.9,356.4 843.1,351.4 843.1,356.6 843.5,355.0 843.8,356.4 844.1,359.7 844.2,358.4 844.6,358.8 844.6,360.1 844.7,359.3 845.1,360.1 845.2,360.1 845.6,359.1 845.8,359.7 845.9,361.2 846.4,360.8 846.3,361.5 846.6,361.3 846.9,362.0 847.4,362.6 847.9,362.8 848.6,361.5 849.0,364.2 849.4,356.5 849.6,363.3 850.0,364.6 850.5,362.4 851.2,367.7 851.6,367.4 852.1,363.8 852.5,359.9 853.1,363.5 853.5,362.3 853.6,359.7 854.2,361.0 854.8,358.5 854.9,361.8 854.5,361.3 854.9,359.1 854.7,360.4 855.1,359.8 855.2,357.7 855.0,358.0 855.2,355.8 855.2,355.6 855.3,356.1 855.4,355.4 855.4,353.3 855.3,354.9 855.9,354.0 855.6,353.5 855.5,353.3 855.9,351.9 855.8,351.9 855.8,350.8 855.7,349.9 856.0,350.5 856.0,350.8 855.7,349.4 855.9,349.2 855.8,347.2 856.1,347.6 855.9,347.7 856.0,347.2 856.4,346.5 856.2,344.5 856.3,345.5 856.5,345.6 856.8,343.9 856.3,338.5 856.6,344.8 856.8,343.2 856.7,345.1 857.0,345.2 857.1,346.7 857.0,346.9 857.3,348.0 857.2,347.1 857.4,348.8 857.4,348.7 857.7,349.6 857.5,349.7 857.9,351.7 857.9,351.3 858.0,352.2 858.1,351.1 858.2,351.9 858.2,352.4 858.5,354.5 858.7,353.4 858.8,355.3 859.2,354.2 859.0,355.3 859.4,355.9 859.2,356.0 859.2,355.8 859.6,357.2 859.6,358.4 860.1,359.9 859.8,359.0 860.3,358.1 860.2,360.5 860.6,358.8 860.4,362.8 860.7,360.8 860.5,360.1 860.6,361.4 861.1,361.6 861.0,364.1 861.2,362.8 861.1,363.3 861.1,365.0 861.4,364.4 861.6,363.7 861.4,365.9 861.4,367.1 861.3,366.5 861.5,366.9 861.4,368.1 861.6,366.7 861.7,369.1 861.7,369.4 862.2,369.7 861.7,369.2 861.9,370.7 861.9,371.0 862.0,371.7 862.1,372.4 862.1,372.4 862.3,373.6 862.5,372.2 862.6,372.4 862.7,374.4 863.3,374.0 863.2,374.1 863.5,375.4 863.3,376.2 863.6,376.5 863.9,380.5 864.3,374.1 864.5,378.8 864.2,377.9 864.8,380.3 864.8,376.4 864.8,376.6 865.6,377.6 865.4,380.5 865.7,379.2 865.6,379.8 865.6,378.4 865.5,378.3 865.8,376.6 865.6,377.3 865.6,375.8 865.7,375.4 865.8,376.1 865.9,374.4 866.1,374.2 865.9,375.2 865.7,373.0 866.0,372.3 865.9,373.2 866.0,371.6 866.1,371.1 866.3,372.2 866.1,370.2 866.4,370.6 866.3,370.0 866.3,368.2 866.1,368.1 866.4,368.1 866.6,366.7 866.4,366.8 866.6,368.3 866.1,365.8 866.5,365.5 866.4,366.4 867.0,364.7 866.8,363.9 866.6,363.9 866.6,363.5 866.6,364.3 867.0,363.3 867.0,361.4 867.2,361.4 867.0,360.2 866.9,358.3 867.2,360.7 867.0,360.5 867.1,359.3 867.1,357.8 867.1,354.9 867.3,360.1 867.5,360.8 867.5,359.3 867.8,360.5 867.8,361.4 868.1,361.4 867.9,360.9 868.1,362.0 868.6,361.8 868.7,363.4 868.8,362.5 868.8,365.5 869.0,364.8 869.2,364.8 869.3,366.8 869.6,364.7 869.7,367.5 869.5,366.0 869.9,368.4 869.8,368.2 869.9,369.6 870.1,370.5 870.1,369.7 870.1,370.3 870.3,371.5 870.4,371.4 870.6,372.1 870.4,372.3 870.7,373.6 870.5,372.5 870.8,374.3 870.7,374.9 871.0,374.3 871.2,374.6 871.3,376.6 871.0,376.4 871.2,377.7 871.3,378.7 871.4,378.8 871.2,377.7 871.3,377.8 871.2,379.5 871.5,379.9 871.7,380.1 871.8,380.1 871.6,381.2 871.8,382.9 872.1,382.4 872.0,381.5 871.7,384.3 872.2,385.0 872.4,381.0 872.0,382.5 872.4,382.3 872.2,381.9 872.3,382.2 872.5,380.7 872.7,380.2 872.6,380.8 873.1,379.2 873.2,380.8 872.8,379.6 873.1,376.4 873.1,377.3 873.4,375.4 873.2,376.1 873.6,374.7 873.9,373.9 874.0,379.2 874.1,374.7 874.2,373.6 874.3,377.4 874.6,372.0 874.9,373.2 875.0,370.3 874.5,371.2 875.0,376.3 875.1,373.0 875.3,372.9 875.1,372.7 875.3,373.4 875.5,373.0 875.7,376.1 875.5,377.1 875.8,375.6 875.7,375.3 875.6,377.3 875.8,376.5 875.7,377.6 875.9,378.3 876.1,379.2 876.3,379.5 876.5,379.9 876.5,380.3 876.6,381.8 876.5,381.1 876.7,382.2 876.9,382.5 876.8,383.0 877.0,381.6 877.0,382.7 877.1,383.8 877.1,385.1 876.9,387.5 877.5,384.5 877.5,388.7 877.9,389.3 877.9,387.2 878.8,388.1 879.1,387.7 879.4,387.2 879.4,384.3 880.1,383.8 880.7,391.1 880.9,385.3 881.5,389.1 881.9,391.0 882.5,387.0 882.6,386.5 883.1,389.9 882.9,386.2 883.1,388.0 883.4,386.5 883.5,387.6 883.7,390.0 883.9,387.6 884.3,390.0 883.8,391.4 884.1,387.6 884.4,390.6 884.2,390.6 884.4,394.7 884.8,396.1 885.0,396.2 885.4,391.8 885.7,389.7 886.4,394.1 886.6,397.7 887.1,397.6 887.8,394.4 888.2,389.4 888.8,393.5 889.3,393.5 889.7,395.9 889.8,398.2 890.9,396.2 891.0,395.1 891.7,393.0 892.1,396.6 892.6,395.9 893.1,395.4 893.5,398.6 893.9,397.5 893.5,391.9 893.8,396.1 894.0,392.5 893.9,393.6 893.8,393.6 894.1,393.2 893.8,391.6 894.2,391.5 894.1,391.5 894.0,390.0 894.2,389.6 894.4,389.5 894.4,389.6 894.5,388.6 894.6,387.3 894.6,388.3 894.7,387.5 894.7,388.4 894.8,386.5 894.9,386.9 894.5,385.4 894.8,386.2 894.8,384.9 894.9,383.6 895.0,384.5 894.5,383.2 894.7,382.8 894.7,382.9 894.8,382.2 894.7,381.2 895.1,380.3 894.8,380.1 895.0,379.4 894.8,380.0 895.1,379.2 895.1,378.1 895.2,378.3 894.9,377.3 895.0,376.1 895.2,375.4 895.0,375.4 895.3,375.5 895.3,374.8 895.4,372.9 895.3,373.9 895.6,372.9 895.3,373.1 895.6,371.9 895.4,373.4 895.5,371.4 895.6,371.2 895.4,370.6 895.3,370.4 895.5,370.0 895.8,368.5 895.4,369.6 895.5,367.2 895.4,367.7 895.7,367.5 895.8,365.9 895.7,366.4 895.7,365.7 895.7,364.0 895.8,365.2 895.8,363.6 895.9,364.1 895.7,363.7 896.1,363.5 896.0,362.9 896.1,360.3 895.9,360.8 896.0,360.8 896.0,359.5 895.8,361.2 896.2,357.4 896.2,358.4 896.1,359.0 896.2,357.6 896.1,357.5 896.4,356.1 896.1,355.7 896.1,355.1 896.3,356.0 896.4,353.6 895.9,354.3 896.1,352.7 896.0,353.4 896.3,352.6 896.4,352.8 896.2,351.2 896.6,351.2 896.6,350.3 896.6,349.7 896.6,349.3 896.5,349.4 896.7,349.1 896.5,348.7 896.6,348.5 896.5,346.3 896.6,346.7 896.6,346.0 896.6,345.4 896.4,345.7 896.5,345.8 896.7,344.8 896.5,343.3 896.9,344.4 896.6,341.7 896.7,343.5 896.7,341.4 896.9,341.8 896.9,340.3 896.8,340.7 896.8,339.9 897.0,340.1 896.8,338.9 897.1,338.6 896.7,340.2 897.0,337.9 897.0,336.0 897.0,336.5 897.0,335.2 897.0,335.8 897.1,335.2 897.2,334.7 897.0,334.8 897.1,332.9 897.1,332.9 897.0,332.9 897.4,331.9 897.4,330.3 897.5,332.7 897.0,332.0 897.0,332.9 897.1,334.5 896.8,333.0 896.4,335.6 896.6,334.2 896.5,335.8 896.5,334.7 896.6,336.4 896.6,337.7 896.8,338.4 896.8,338.6 896.4,339.3 896.6,338.2 896.7,339.4 897.0,339.6 896.8,340.6 896.7,341.6 896.6,341.9 897.0,342.1 897.0,343.0 897.1,342.1 896.8,345.2 896.9,343.8 896.9,343.8 897.4,345.8 897.0,344.5 897.0,347.1 897.1,346.4 897.3,346.1 897.3,347.9 897.3,348.3 897.3,347.6 897.2,348.8 897.3,348.0 897.5,349.9 897.2,349.7 897.3,351.1 897.5,351.2 897.8,350.5 897.4,351.1 897.5,352.7 897.6,353.2 897.8,353.5 897.7,354.8 897.9,355.2 898.1,354.9 898.0,356.9 898.0,356.4 898.1,357.2 898.2,357.4 898.4,358.3 898.3,358.6 898.5,358.7 898.6,358.8 898.4,359.5 898.5,358.8 898.7,360.6 898.8,361.1 898.9,361.0 898.9,361.3 899.0,362.8 899.1,363.0 899.2,364.9 899.5,364.1 899.5,365.1 899.4,364.4 899.6,364.9 899.6,365.6 899.4,365.9 899.5,367.6 900.0,365.9 899.8,367.8 899.8,368.2 900.1,368.4 900.1,368.1 900.1,371.2 900.1,369.4 900.1,369.7 900.4,370.9 900.2,372.8 900.3,372.6 900.1,374.0 900.7,373.9 901.0,374.0 901.5,372.5 901.5,376.4 902.1,370.3 902.4,375.4 902.1,375.5 902.6,376.0 902.8,376.3 902.8,377.2 903.4,376.1 903.1,376.7 903.2,378.1 903.3,377.4 903.2,379.4 903.7,378.9 903.7,379.9 903.8,379.7 904.2,381.0 903.9,380.1 904.4,380.7 904.3,382.4 904.5,382.6 904.8,382.9 904.8,385.0 905.0,384.6 904.9,384.6 905.1,386.1 905.1,386.3 905.2,386.8 905.3,387.2 905.4,387.4 905.4,388.3 905.1,388.3 905.2,389.1 905.4,389.7 905.6,388.5 905.7,390.2 905.4,391.6 905.9,391.2 905.9,391.3 906.2,392.7 906.2,393.8 906.4,393.3 906.4,393.7 906.1,395.8 906.9,394.8 907.0,394.0 906.5,397.2 907.0,395.5 907.2,395.6 907.3,398.3 907.3,397.6 907.5,397.6 907.9,396.6 907.8,396.4 907.9,398.7 908.2,402.6 908.5,397.6 909.2,399.5 910.0,401.4 910.4,402.0 910.6,396.7 910.4,398.7 910.7,398.6 911.1,399.6 911.1,401.3 911.1,401.0 911.3,401.4 911.3,403.2 911.6,402.7 912.0,404.1 912.1,405.7 912.1,406.6 912.7,406.5 913.0,402.9 913.6,405.3 914.0,408.8 914.7,403.3 915.0,403.8 915.7,408.5 916.1,405.4 916.6,406.1 917.2,407.8 917.6,406.5 918.1,407.9 918.0,406.9 918.4,402.8 918.5,404.5 918.9,403.9 918.9,401.6 919.3,401.6 919.1,401.4 919.7,401.0 919.9,402.8 919.6,400.7 920.4,400.7 920.1,398.8 920.2,399.0 920.3,397.4 920.4,398.9 920.4,398.1 920.7,396.8 920.7,395.6 920.7,395.7 920.8,396.7 920.8,397.0 921.2,395.5 921.2,397.0 921.2,397.2 921.3,397.6 921.5,397.4 921.5,397.9 921.7,398.3 921.5,400.1 921.8,399.8 921.9,400.5 922.1,399.6 922.1,401.2 922.1,401.2 922.3,402.3 922.3,402.4 922.4,404.3 922.4,402.9 922.6,404.2 922.7,404.9 922.9,404.5 923.1,405.7 923.3,407.3 923.5,404.3 923.7,404.2 923.7,408.1 924.0,408.0 923.9,406.3 924.1,407.4 924.2,407.2 924.2,405.4 924.0,405.8 924.6,405.0 924.5,405.5 924.3,403.9 924.5,403.5 924.8,404.6 924.8,402.0 924.9,401.7 925.1,401.8 924.9,402.4 925.1,399.3 925.2,400.9 925.1,401.2 925.1,398.6 925.4,398.3 925.7,402.4 925.5,401.4 925.7,401.7 925.7,401.2 925.9,400.6 925.9,401.8 925.9,403.8 926.0,403.6 926.1,403.3 926.6,404.6 926.2,404.4 926.1,406.1 926.4,406.2 926.6,407.1 926.6,408.2 926.9,407.3 927.0,409.4 927.0,409.2 927.3,408.6 927.3,409.8 927.4,410.5 927.5,411.2 927.7,409.0 927.7,411.7 927.8,411.9 928.0,412.4 928.0,412.0 928.2,411.8 928.3,413.6 928.8,414.9 928.6,415.2 928.8,416.9 928.9,415.5 929.1,417.6 929.0,416.6 929.8,418.6 929.9,418.6 930.0,422.0 930.5,420.8 931.0,413.1 931.0,422.3 931.2,418.9 932.0,417.5 932.3,416.7 932.9,414.3 933.4,418.7 933.3,419.5 934.1,419.1 934.5,419.4 934.6,421.8 934.7,417.0 935.1,412.8 935.4,416.1 935.4,417.0 936.0,417.1 936.0,415.6 935.9,413.1 936.0,412.6 936.4,412.4 936.5,413.4 936.5,413.3 936.8,411.7 936.5,411.2 936.8,411.3 936.7,408.8 936.8,411.2 937.7,409.1 937.8,417.1 937.9,411.0 938.4,414.5 938.8,412.3 938.9,411.5 938.9,409.9 938.7,409.6 939.1,409.7 938.8,410.1 939.0,408.8 939.2,408.0 939.5,407.5 939.3,407.5 939.7,407.3 939.6,407.1 939.8,406.5 939.7,406.3 939.8,405.0 940.0,406.3 940.1,404.9 940.2,404.2 940.3,402.5 940.4,401.7 940.3,401.7 940.6,401.9 940.6,400.6 940.8,396.0 941.0,396.2 941.4,403.1 941.8,401.7 942.6,401.3 943.0,402.5 943.4,404.8 943.6,404.0 944.1,401.0 944.1,403.4 944.6,401.4 944.9,404.5 944.7,404.3 945.3,402.0 945.5,404.9 945.7,403.0 945.9,403.1 946.3,408.3 946.4,409.9 946.5,407.4 946.9,406.5 947.0,402.9 947.5,406.3 947.7,404.4 948.1,404.7 948.1,404.4 948.7,402.3 949.2,399.9 949.4,407.4 949.9,402.0 949.8,404.2 950.1,404.1 950.5,406.1 950.9,409.5 951.0,407.6 951.3,405.9 951.3,410.1 951.3,408.8 951.7,410.1 951.9,409.9 952.2,411.3 952.0,411.1 952.1,410.8 952.8,410.6 952.7,409.0 953.0,415.4 953.1,411.8 953.1,412.3 953.4,407.7 953.3,410.6 953.8,409.4 953.9,410.8 954.3,408.3 954.5,407.2 954.5,407.0 954.7,406.8 955.3,405.4 955.5,410.8 956.3,408.7 957.0,411.1 957.0,405.3 957.4,406.6 958.1,408.7 958.4,410.1 958.7,410.2 959.2,409.2 959.8,411.7 960.1,411.5 960.6,409.6 961.4,409.9 961.8,409.6 962.1,411.5 962.3,408.1 962.8,408.9 963.0,411.9 963.8,414.9 964.2,412.9 964.5,413.2 964.6,413.5 965.0,411.0 965.1,411.7 965.3,412.0 965.4,407.7 965.7,408.0 966.0,409.7 965.8,409.1 966.0,408.2 966.3,407.6 966.6,404.3 966.7,406.9 967.6,406.5 968.1,404.8 968.0,410.7 968.3,409.6 968.8,411.5 969.6,408.7 970.0,408.3 970.5,401.7 970.9,408.8 971.5,406.2 971.8,406.8 972.3,406.4 972.3,406.6 972.7,397.4 973.0,406.7 973.0,401.7 973.8,402.3 974.0,404.8 974.3,407.6 975.1,397.8 975.1,405.3 975.8,401.5 976.3,401.3 976.7,401.4 977.3,406.3 977.7,401.8 978.3,400.2 978.9,406.1 978.9,402.9 979.2,400.8 979.6,401.5 979.6,402.8 979.8,399.7 980.2,401.5 979.9,398.4 980.0,398.6 979.9,401.1 980.8,396.4 980.6,396.6 980.7,398.2 980.8,396.7 981.1,397.0 981.0,395.7 981.4,395.7 981.7,394.5 981.6,395.6 981.6,392.5 981.7,393.0 982.1,392.6 982.2,393.0 982.2,392.0 982.5,391.4 982.9,390.5 982.9,390.4 982.8,390.1 983.3,389.6 983.1,390.4 983.5,386.5 983.6,384.9 983.7,384.9 984.1,387.4 984.1,387.5 984.5,385.5 984.7,389.5 984.9,387.5 984.9,386.0 985.4,384.7 985.5,384.4 985.6,383.8 985.4,383.5 985.6,381.4 985.6,382.1 985.6,381.2 985.5,381.8 985.8,381.3 985.7,381.0 985.7,379.4 986.0,378.9 985.7,378.8 986.0,378.5 986.1,376.9 986.0,376.4 986.1,376.5 986.3,376.4 986.3,375.2 986.3,374.6 986.4,375.3 986.3,375.1 986.6,372.7 986.4,373.1 986.6,372.6 986.6,372.4 986.8,372.1 986.7,371.0 986.8,369.2 986.8,369.8 986.8,369.9 986.8,369.0 986.6,369.2 986.9,368.4 986.9,367.7 986.8,368.0 986.7,368.3 986.9,366.2 987.1,366.7 986.9,364.8 987.0,363.7 987.1,365.0 987.3,364.9 987.2,363.1 986.8,361.9 987.3,362.9 987.2,362.6 987.3,362.5 987.0,360.8 987.1,361.7 987.0,359.9 987.3,359.4 987.2,357.1 987.1,358.2 987.3,358.5 987.2,358.1 987.0,356.7 987.2,356.6 987.2,354.8 986.6,355.8 987.1,354.0 986.6,353.9 987.2,354.2 987.0,354.2 986.8,352.1 987.1,352.6 986.8,352.1 986.7,351.5 987.1,351.2 987.0,349.8 986.9,349.8 987.2,349.0 987.1,350.4 987.3,349.1 987.1,347.5 987.3,347.7 987.4,347.7 987.4,346.7 987.2,345.7 987.5,345.8 987.6,345.1 987.8,344.2 987.8,344.8 987.7,344.4 987.4,344.0 987.6,342.4 987.7,341.8 987.7,342.1 987.5,342.0 987.7,341.5 987.3,340.3 987.5,340.2 987.8,338.7 987.5,338.6 987.3,337.8 987.5,337.3 987.2,338.1 987.2,335.4 987.2,336.3 987.2,335.5 987.1,335.0 987.3,334.1 987.5,333.7 987.6,334.1 987.7,334.5 987.5,333.3 987.4,333.0 987.9,331.4 987.6,332.4 987.8,331.5 988.1,330.8 987.8,328.8 988.0,329.1 987.6,329.5 987.7,327.7 987.7,328.3 988.1,328.2 988.2,326.4 988.1,327.0 988.1,325.8 988.1,325.4 988.1,325.1 987.7,325.1 988.0,323.9 987.8,323.8 988.0,324.0 987.9,323.3 987.6,323.4 987.8,321.1 987.8,321.7 987.6,320.2 987.7,319.6 987.6,319.8 987.6,319.6 987.7,319.1 987.6,317.6 987.5,318.4 987.7,317.6 987.5,316.7 987.4,316.8 987.9,314.8 987.6,314.8 988.0,315.5 988.1,313.5 988.2,313.7 988.2,312.8 988.3,311.8 988.0,311.1 987.9,311.0 988.2,310.9 988.2,309.4 988.3,310.1 988.2,309.9 988.3,309.8 988.1,309.4 988.4,308.3 988.3,308.6 988.2,307.4 988.2,307.0 988.1,306.7 988.2,304.9 988.4,305.3 988.1,304.2 988.2,303.5 988.4,303.6 988.3,304.0 988.3,302.6 988.2,301.5 988.5,301.4 988.2,301.6 988.0,300.0 988.6,301.1 988.3,299.7 988.1,299.2 988.4,296.9 988.4,298.3 988.5,298.0 988.4,297.2 988.2,298.2 988.2,295.2 988.3,296.1 988.3,296.8 988.3,294.8 988.4,295.6 988.0,292.9 988.8,293.5 988.5,288.8 988.6,293.3 989.4,288.6 989.8,292.5 990.5,290.3 990.9,294.8 991.4,289.6 991.8,293.2 992.2,290.9 992.5,293.1 992.1,294.4 992.4,293.4 992.4,294.3 992.4,296.2 992.5,295.1 992.7,297.1 992.7,297.2 992.4,295.6 992.6,298.1 992.6,298.8 992.6,298.8 992.7,299.0 992.8,300.1 992.6,300.0 992.6,301.3 992.9,302.4 992.8,302.5 992.7,301.7 993.0,301.8 992.7,303.3 992.9,304.1 993.0,304.0 992.8,304.7 992.8,305.1 992.9,305.6 992.9,305.9 992.8,307.2 993.1,308.1 993.0,307.4 993.0,309.5 993.2,307.7 993.1,306.9 993.1,305.1 992.9,307.1 993.1,306.6 993.2,305.2 993.1,305.8 993.1,304.2 993.0,304.6 993.2,304.0 993.2,303.6 993.4,301.5 993.4,302.5 993.6,302.2 993.7,301.1 993.5,301.1 993.7,301.3 993.4,299.2 993.2,298.4 993.4,299.0 993.6,298.3 994.1,300.6 993.3,295.1 993.6,297.5 993.3,298.8 993.9,297.0 993.4,295.2 993.4,292.9 993.2,292.8 993.8,291.2 993.9,291.8 993.5,292.6 993.4,291.9 993.9,292.9 992.9,292.1 994.2,290.4 994.6,288.8 993.9,287.3 994.4,287.6 994.8,289.7 994.9,285.3 994.7,285.3 995.5,290.4 995.3,289.9 993.6,286.6 993.7,286.3 994.5,284.6 994.0,285.8 993.9,287.2 994.1,284.6 995.0,286.2 995.9,284.1 994.8,289.1 994.7,282.5 994.9,284.7 995.0,284.0 994.9,282.2 995.2,281.9 995.4,279.0 995.6,275.1 995.2,278.7 995.2,279.6 995.6,278.8 994.6,275.7 994.7,273.7 995.7,278.4 995.6,277.0 995.5,275.7 994.5,273.7 995.4,272.1 995.3,274.6 995.0,272.9 996.0,271.0 996.0,273.9 994.9,272.6 996.0,268.1 996.3,272.7 996.0,269.9 996.2,271.5 995.5,269.5 996.6,266.4 995.9,267.3 995.7,265.5 995.9,269.1 996.7,267.5 996.3,267.5 995.9,266.7 996.3,267.4 997.4,262.5 997.1,263.6 996.9,261.5 996.2,264.5 996.3,263.1 996.8,263.4 996.3,262.0 996.1,262.4 996.7,262.5 997.2,259.6 996.5,258.7 997.3,257.9 997.2,259.2 996.7,259.1 997.8,256.7 997.7,257.9 997.4,257.3 997.4,255.3 997.8,257.1 997.7,259.7 998.1,257.5 998.3,253.7 997.9,253.6 998.5,254.4 998.0,250.5 998.4,253.3 998.5,254.3 997.4,253.4 998.4,251.6 997.9,248.1 998.2,249.9 998.9,248.9 999.0,248.8 997.8,246.6 998.1,250.4 998.2,250.0 998.9,248.4 998.9,251.7 999.1,247.3 998.5,245.8 999.2,244.4 998.5,247.8 998.8,245.4 999.0,245.7 998.7,241.2 998.7,242.5 998.8,240.0 998.4,242.7 998.7,242.9 998.5,246.9 999.7,241.0 999.6,237.6 998.8,238.9 999.7,236.4 999.5,238.4 999.1,237.7 1000.1,236.6 999.8,237.4 999.3,236.9 999.1,237.1 999.3,233.2 999.6,229.8 999.8,229.9 1000.0,235.3 999.9,236.0 1000.5,234.9 1000.4,234.0 999.8,238.1 1000.6,235.4 1000.4,241.5 1001.3,236.8 1000.3,242.2 1000.8,242.3 1000.3,238.5 1000.2,245.6 1001.2,239.2 1000.5,244.6 1001.0,237.3 1000.5,243.2 1000.3,240.9 1001.0,246.8 1001.5,245.3 1001.0,245.6 1001.0,245.4 1001.7,246.2 1001.2,247.3 1001.0,244.6 1000.6,247.8 1000.8,245.5 1000.4,245.0 1000.8,247.9 1001.0,246.0 1001.1,249.0 1000.9,246.4 1001.7,252.0 1001.0,252.8 1001.1,249.9 1001.5,252.4 1000.5,248.9 1000.8,253.6 1000.2,252.4 1000.7,257.5 1000.6,257.1 1000.8,255.4 1001.0,256.1 1000.7,256.9 1000.6,256.9 1000.9,255.1 1000.9,257.8 1001.3,259.3 1000.5,256.8 1001.4,256.2 1000.6,260.3 1000.9,263.4 1001.3,260.7 1000.6,263.2 1000.8,261.0 1001.9,259.4 1001.3,264.0 1001.4,262.2 1001.4,259.2 1000.8,260.8 1001.2,262.1 1001.6,261.1 1001.1,268.1 1001.4,263.5 1001.8,269.5 1001.5,268.7 1000.7,267.5 1001.7,268.5 1001.2,270.3 1000.9,270.1 1001.1,271.0 1001.1,273.4 1000.9,268.1 1001.0,270.4 1001.2,270.3 1000.8,272.1 1001.3,273.4 1001.1,272.3 1000.7,275.7 1001.2,275.1 1001.7,272.8 1000.6,272.9 1001.5,274.3 1001.3,278.6 1001.8,276.6 1001.6,275.8 1001.7,276.4 1002.5,277.6 1002.2,279.8 1001.2,276.1 1001.4,280.0 1001.8,278.6 1002.0,280.2 1001.9,280.4 1001.7,280.4 1001.6,281.5 1001.5,282.2 1001.4,281.7 1001.6,283.5 1001.4,284.0 1001.3,283.7 1001.7,284.2 1001.6,283.9 1001.6,285.5 1001.1,285.4 1001.7,285.2 1001.7,286.8 1001.4,285.7 1001.3,286.5 1001.4,286.6 1001.5,289.0 1001.5,289.2 1001.6,291.0 1001.3,288.9 1001.4,288.6 1001.2,291.5 1001.3,291.2 1001.7,291.7 1001.4,292.4 1001.5,292.8 1001.1,293.0 1001.3,293.2 1001.5,293.7 1001.4,295.9 1001.6,296.0 1001.6,296.4 1001.4,296.9 1001.2,297.5 1001.3,297.2 1001.2,297.7 1001.1,297.2 1001.4,298.3 1001.5,299.7 1001.3,298.3 1001.4,298.8 1001.5,300.5 1001.8,301.1 1001.5,302.7 1001.5,302.4 1001.7,302.0 1001.7,303.5 1001.4,304.1 1001.6,304.6 1001.6,304.1 1001.5,306.3 1001.5,305.7 1001.6,307.6 1001.7,305.9 1001.6,307.3 1001.9,308.2 1001.9,308.7 1001.8,310.4 1001.7,309.1 1002.1,309.2 1002.0,310.7 1002.0,309.3 1002.1,311.6 1002.4,309.5 1002.5,311.1 1002.5,311.9 1002.6,314.2 1002.9,313.3 1002.4,313.9 1003.0,314.1 1003.3,314.8 1003.4,315.2 1003.4,315.8 1003.5,316.6 1003.5,316.8 1003.7,317.7 1003.6,318.1 1003.6,318.5 1003.4,319.4 1003.6,319.9 1003.8,320.6 1003.9,319.8 1004.1,320.1 1004.0,320.8 1003.8,323.5 1004.2,323.6 1004.2,323.4 1004.2,323.3 1004.3,323.8 1004.7,325.0 1004.7,324.9 1004.9,323.6 1004.9,327.3 1005.1,327.2 1005.1,326.8 1005.5,325.2 1005.8,327.1 1006.0,327.3 1005.9,332.9 1006.3,329.7 1006.4,325.8 1006.5,329.4 1007.2,331.3 1007.0,330.3 1007.4,331.4 1007.5,330.1 1007.8,331.7 1008.0,333.9 1008.3,333.3 1008.6,330.9 1008.8,333.0 1008.5,330.9 1008.7,331.1 1008.9,330.8 1009.0,330.1 1009.0,327.9 1008.8,329.6 1009.3,327.6 1009.1,328.2 1009.4,328.3 1009.4,326.9 1009.1,326.3 1009.6,326.3 1009.7,326.1 1009.9,325.7 1009.8,325.7 1010.1,323.3 1010.0,323.8 1010.0,322.1 1010.1,321.5 1010.0,322.5 1010.3,320.0 1010.3,320.3 1010.4,320.8 1010.4,319.9 1010.6,320.4 1010.8,319.3 1010.6,319.2 1010.5,319.5 1010.8,317.1 1010.8,317.1 1011.0,317.1 1011.0,314.9 1011.1,316.0 1011.4,315.1 1011.3,316.0 1011.0,314.5 1011.4,313.9 1011.6,313.9 1011.3,313.4 1011.5,312.4 1011.6,311.8 1011.4,312.2 1011.2,310.9 1011.3,311.0 1011.7,310.6 1011.7,310.3 1012.0,309.6 1011.7,309.0 1011.8,308.9 1011.9,306.3 1011.8,306.3 1011.9,305.6 1012.3,307.0 1012.1,305.4 1012.0,304.3 1012.2,303.2 1012.4,303.4 1012.7,303.6 1012.7,302.1 1012.4,303.3 1012.8,300.8 1012.5,302.0 1012.8,300.0 1012.8,300.3 1012.9,299.7 1013.1,299.3 1012.9,299.0 1013.1,299.4 1013.1,297.2 1013.3,297.5 1013.3,296.9 1013.3,296.5 1013.4,296.7 1013.7,295.8 1014.0,295.5 1013.8,295.2 1013.9,293.7 1014.0,293.2 1014.5,293.1 1014.1,290.3 1014.0,292.7 1014.2,292.1 1014.2,290.7 1014.4,288.8 1014.2,289.5 1014.4,289.6 1014.2,289.0 1014.2,288.4 1014.2,288.1 1014.3,286.7 1014.2,288.7 1014.5,287.0 1014.4,285.9 1014.6,287.5 1014.6,284.6 1014.8,284.6 1014.4,283.1 1014.4,283.3 1014.5,284.3 1014.7,282.8 1014.7,283.4 1014.9,281.9 1015.0,281.0 1015.0,281.1 1015.3,281.0 1015.1,279.6 1015.5,280.4 1015.8,279.2 1016.1,277.5 1015.9,277.4 1015.9,276.9 1016.0,276.1 1016.2,276.1 1016.0,276.0 1016.5,276.0 1016.4,274.0 1016.5,274.1 1016.6,274.0 1016.8,272.2 1016.5,271.9 1016.7,272.0 1016.7,272.7 1016.8,270.7 1016.9,270.8 1017.0,269.1 1017.0,266.7 1016.8,269.3 1017.1,270.4 1017.1,272.3 1017.4,272.3 1017.3,272.9 1017.0,272.5 1016.9,272.3 1017.4,273.4 1017.2,275.4 1017.5,274.9 1017.3,275.8 1017.5,276.0 1017.4,276.5 1017.4,277.3 1017.1,277.1 1017.6,277.5 1017.6,277.5 1017.6,279.1 1017.4,279.0 1017.4,279.6 1017.6,280.0 1017.8,280.3 1017.7,282.4 1017.8,282.0 1017.6,281.3 1017.8,282.5 1017.9,282.2 1018.1,284.1 1018.1,283.4 1017.7,285.0 1018.1,286.4 1018.2,285.4 1017.9,286.8 1018.2,285.9 1018.1,287.5 1018.2,288.5 1018.2,287.2 1018.1,288.2 1017.9,289.8 1018.1,290.0 1018.3,290.8 1018.2,291.1 1018.6,289.6 1018.2,291.6 1018.5,292.5 1018.4,292.8 1018.6,292.5 1018.4,292.4 1018.6,292.7 1018.8,294.4 1018.7,294.0 1018.8,295.7 1018.9,297.5 1018.8,296.1 1018.5,296.8 1018.7,297.4 1018.8,298.7 1018.8,297.8 1018.7,298.4 1018.8,298.8 1018.9,300.0 1019.0,300.0 1019.3,301.5 1018.7,300.5 1018.9,302.3 1018.9,301.8 1019.1,301.8 1018.9,303.4 1019.0,304.0 1019.2,303.3 1019.0,304.6 1019.1,305.4 1019.1,305.4 1019.0,305.6 1019.1,307.2 1019.3,306.0 1019.2,307.3 1019.3,307.7 1019.3,309.0 1019.3,309.3 1019.0,309.4 1019.4,308.9 1019.7,310.1 1019.1,310.9 1019.2,312.6 1019.2,312.5 1019.5,312.8 1019.5,311.9 1019.3,313.6 1019.3,314.0 1019.7,314.3 1019.6,314.9 1020.1,316.1 1020.1,316.9 1020.4,318.3 1020.6,318.6 1020.8,318.5 1021.0,317.1 1020.9,319.3 1021.0,319.0 1021.0,319.2 1021.2,320.5 1021.4,321.0 1021.3,319.7 1021.1,321.6 1021.7,322.0 1021.4,321.5 1021.5,322.3 1021.7,323.0 1021.7,324.4 1021.6,325.0 1021.9,325.0 1021.8,326.3 1021.9,325.6 1022.1,325.9 1021.8,326.8 1022.3,326.4 1022.1,328.2 1022.1,328.1 1022.3,329.3 1022.5,328.5 1022.1,330.5 1022.2,330.2 1022.2,331.0 1022.3,332.0 1022.4,332.3 1022.6,333.8 1022.3,332.9 1022.4,333.9 1022.4,334.7 1022.7,334.6 1022.3,333.5 1022.4,334.8 1022.4,334.9 1022.3,335.3 1022.2,336.5 1022.3,337.3 1022.1,338.0 1022.4,338.0 1022.3,339.2 1022.2,338.7 1022.1,339.4 1022.2,340.6 1021.9,341.8 1021.8,341.0 1022.1,342.6 1022.0,341.1 1021.7,340.9 1022.1,340.5 1022.5,338.7 1022.2,339.6 1022.2,337.8 1022.1,339.1 1022.5,337.2 1022.6,335.7 1022.7,336.0 1022.5,336.6 1022.7,335.0 1022.9,334.5 1023.2,334.9 1023.3,333.3 1022.8,334.4 1023.0,332.7 1023.2,333.1 1023.6,332.3 1023.6,331.6 1023.6,331.8 1023.7,332.1 1023.6,329.9 1023.7,330.1 1023.8,329.4 1023.6,330.5 1024.1,329.7 1023.9,328.0 1024.3,327.9 1024.2,327.5 1024.3,326.8 1024.2,325.7 1024.5,325.9 1024.4,324.8 1024.7,324.9 1024.7,323.6 1024.9,324.0 1024.9,322.8 1024.9,323.9 1025.1,323.7 1025.0,321.2 1025.4,321.2 1025.3,323.0 1025.5,323.6 1025.8,324.6 1026.1,324.0 1026.0,324.5 1026.3,326.6 1026.6,326.0 1026.6,325.2 1026.6,329.0 1027.0,327.5 1026.8,327.3 1027.1,328.7 1027.2,327.8 1027.6,328.9 1027.7,331.0 1027.4,331.9 1027.8,331.5 1027.8,331.8 1028.2,331.3 1028.3,333.0 1028.5,334.5 1028.2,334.6 1028.4,333.2 1028.7,333.9 1028.7,336.2 1028.9,338.2 1028.9,335.4 1029.1,331.3 1029.5,336.9 1029.5,333.4 1029.9,335.7 1029.8,333.8 1030.1,333.7 1030.2,331.5 1030.4,330.5 1030.5,330.9 1030.8,330.3 1030.8,329.1 1030.6,329.5 1030.7,329.5 1030.8,328.9 1031.1,329.0 1031.2,328.1 1031.4,327.4 1031.3,326.4 1031.6,325.8 1031.6,326.4 1031.3,325.4 1031.7,324.6 1031.9,325.0 1032.0,324.1 1031.9,322.9 1031.8,322.7 1031.9,321.7 1032.2,321.9 1032.1,321.9 1032.3,320.4 1032.1,321.2 1032.4,322.0 1032.4,321.5 1032.5,321.3 1032.9,321.7 1032.8,323.6 1033.1,323.4 1033.1,323.6 1033.6,324.7 1033.8,323.9 1033.6,323.0 1033.7,324.5 1034.2,327.1 1034.3,323.2 1034.5,327.0 1035.0,321.3 1035.4,324.7 1035.7,330.6 1035.9,325.9 1036.1,331.4 1036.4,328.1 1036.6,326.7 1036.7,330.6 1036.9,328.6 1037.1,328.4 1037.2,331.7 1037.5,331.3 1037.5,330.7 1037.9,329.2 1038.2,329.0 1038.1,333.1 1039.0,333.4 1038.9,331.0 1039.5,333.6 1040.3,328.9 1040.5,331.9 1041.0,326.5 1041.3,329.1 1041.7,329.9 1042.3,330.2 1042.5,328.7 1042.8,328.6 1043.3,329.8 1043.5,331.5 1043.6,331.9 1044.2,331.1 1044.3,331.4 1044.9,332.7 1045.0,329.6 1045.1,329.2 1045.5,333.3 1045.7,331.2 1046.0,334.0 1046.2,330.3 1046.1,333.9 1046.5,333.8 1046.6,336.2 1047.1,333.8 1047.3,337.1 1047.3,335.1 1047.8,336.2 1048.6,336.6 1048.7,338.5 1049.0,339.6 1049.5,337.5 1050.2,338.7 1049.8,337.8 1049.5,338.7 1049.2,336.7 1048.9,335.4 1048.8,339.1 1048.5,337.1 1048.1,338.3 1047.5,340.6 1047.5,342.1 1047.7,340.2 1048.4,341.3 1049.0,341.7 1049.0,341.3 1049.5,346.3 1049.8,345.3 1050.4,343.6 1050.7,341.3 1051.3,347.5 1052.0,343.0 1052.3,344.1 1052.2,345.4 1052.4,341.7 1052.7,341.5 1052.8,341.8 1052.8,340.2 1053.1,340.3 1053.1,339.0 1053.1,338.0 1053.0,338.1 1053.3,337.4 1053.3,336.8 1053.4,336.6 1053.3,335.7 1053.4,335.6 1053.6,335.6 1053.9,334.3 1053.4,334.1 1053.6,334.3 1054.0,333.0 1053.9,333.6 1053.9,331.8 1053.8,332.0 1054.1,330.2 1054.0,330.6 1054.1,329.7 1054.3,331.1 1054.0,329.7 1054.1,329.4 1053.9,327.9 1054.1,328.5 1054.3,328.2 1054.2,327.3 1054.1,326.3 1054.3,325.8 1054.1,324.6 1054.2,325.4 1054.1,324.4 1054.2,324.9 1054.5,323.7 1054.3,323.6 1054.3,323.3 1054.4,321.5 1054.3,322.3 1054.2,321.5 1054.5,321.9 1054.5,320.6 1054.6,319.0 1054.6,318.9 1054.2,317.6 1054.5,318.5 1054.7,317.5 1054.3,316.8 1054.9,317.4 1054.6,315.7 1055.1,315.7 1054.9,314.4 1055.0,315.2 1054.5,314.0 1054.9,314.0 1054.8,314.1 1055.0,312.6 1054.9,313.3 1055.2,311.2 1054.8,311.7 1055.1,311.1 1055.1,311.1 1054.8,309.7 1054.9,309.6 1054.8,308.4 1055.3,308.4 1055.3,306.2 1055.1,308.2 1055.3,304.8 1055.3,303.4 1055.5,306.0 1055.7,307.1 1056.2,307.2 1056.6,306.4 1057.0,306.6 1057.0,312.5 1057.3,309.0 1057.4,308.9 1057.3,306.9 1057.3,308.3 1057.5,306.6 1057.7,305.4 1057.6,305.5 1057.9,306.8 1058.3,304.4 1057.7,304.8 1058.2,303.8 1058.0,303.7 1058.7,303.6 1058.5,303.5 1058.8,303.6 1058.5,302.8 1058.7,300.0 1058.9,300.6 1059.3,300.1 1059.4,301.0 1059.5,298.2 1059.7,298.6 1059.9,297.9 1060.4,297.7 1060.4,296.4 1060.6,295.9 1061.0,296.9 1061.1,297.0 1061.5,298.9 1061.8,299.5 1061.9,294.8 1061.9,293.6 1062.1,295.6 1062.7,293.2 1062.8,292.8 1062.7,293.9 1063.1,296.5 1063.1,293.5 1063.4,290.8 1063.5,291.6 1063.6,292.7 1063.7,293.2 1063.7,293.0 1064.0,294.1 1064.2,295.0 1064.1,294.5 1064.2,294.8 1064.1,296.0 1064.1,296.8 1064.0,297.7 1064.3,298.1 1064.6,298.5 1064.5,296.8 1064.5,299.0 1064.8,299.6 1064.7,299.5 1064.5,300.9 1064.8,301.2 1065.0,302.3 1065.0,302.6 1065.2,302.3 1065.1,302.7 1064.9,302.9 1065.4,304.0 1065.3,304.8 1065.2,304.5 1065.0,305.2 1065.3,305.4 1065.4,306.8 1065.1,307.4 1065.5,307.5 1065.4,308.3 1065.8,308.5 1065.7,308.6 1065.9,309.2 1065.6,309.6 1065.7,309.0 1065.8,311.1 1065.9,311.4 1065.6,311.9 1066.0,312.6 1065.9,313.7 1065.7,313.8 1066.1,314.0 1066.0,314.2 1066.2,315.3 1065.9,314.9 1066.4,316.7 1066.2,315.8 1066.4,316.0 1066.4,317.1 1066.4,317.3 1066.3,317.3 1066.5,317.4 1066.5,319.0 1066.8,319.1 1066.5,319.3 1066.7,320.8 1067.0,321.1 1066.6,322.5 1066.6,322.8 1067.2,323.4 1067.2,323.3 1067.3,323.2 1067.0,323.4 1067.2,325.3 1067.6,326.7 1067.5,327.2 1067.8,327.2 1067.8,326.9 1068.5,329.0 1068.7,328.5 1069.3,325.9 1069.4,330.0 1069.6,321.9 1070.0,330.5 1070.2,330.4 1070.2,329.0 1070.6,328.8 1070.7,330.1 1071.1,332.3 1071.2,329.8 1071.3,332.4 1071.8,332.0 1072.0,332.7 1072.2,334.7 1072.1,334.2" stroke="#fba31a" stroke-width="4.2" stroke-dasharray="0.01 8.5"/>
</g>
<!-- arrow -->
<line x1="1074.2" y1="283.2" x2="1082.4" y2="324" stroke="#141414" stroke-width="2.5"/>
<polygon points="1076.6,324.6 1088.4,322.5 1083.9,331.7" fill="#141414"/>
<!-- legend -->
<line x1="117" y1="621.8" x2="170.5" y2="621.8" stroke="#003168" stroke-width="4" stroke-linecap="round"/>
<text class="lg" x="177.3" y="627.4" textLength="44" lengthAdjust="spacingAndGlyphs">U.S.</text>
<line x1="282" y1="621.8" x2="336" y2="621.8" stroke="#006ac3" stroke-width="4" stroke-linecap="round"/>
<text class="lg" x="342.5" y="627.4" textLength="106.5" lengthAdjust="spacingAndGlyphs">Eurozone</text>
<line x1="510.6" y1="621.7" x2="565" y2="621.7" stroke="#fba31a" stroke-width="4" stroke-linecap="round" stroke-dasharray="0.01 8.47"/>
<text class="lg" x="570.5" y="627.6" textLength="74.5" lengthAdjust="spacingAndGlyphs">Global</text>
<text x="29" y="669" font-size="17" fill="#404040" textLength="532" lengthAdjust="spacingAndGlyphs">As of 01/03/2024. Sources: Goldman Sachs, Bloomberg, RBC GAM</text>
</svg>
</body></html>
